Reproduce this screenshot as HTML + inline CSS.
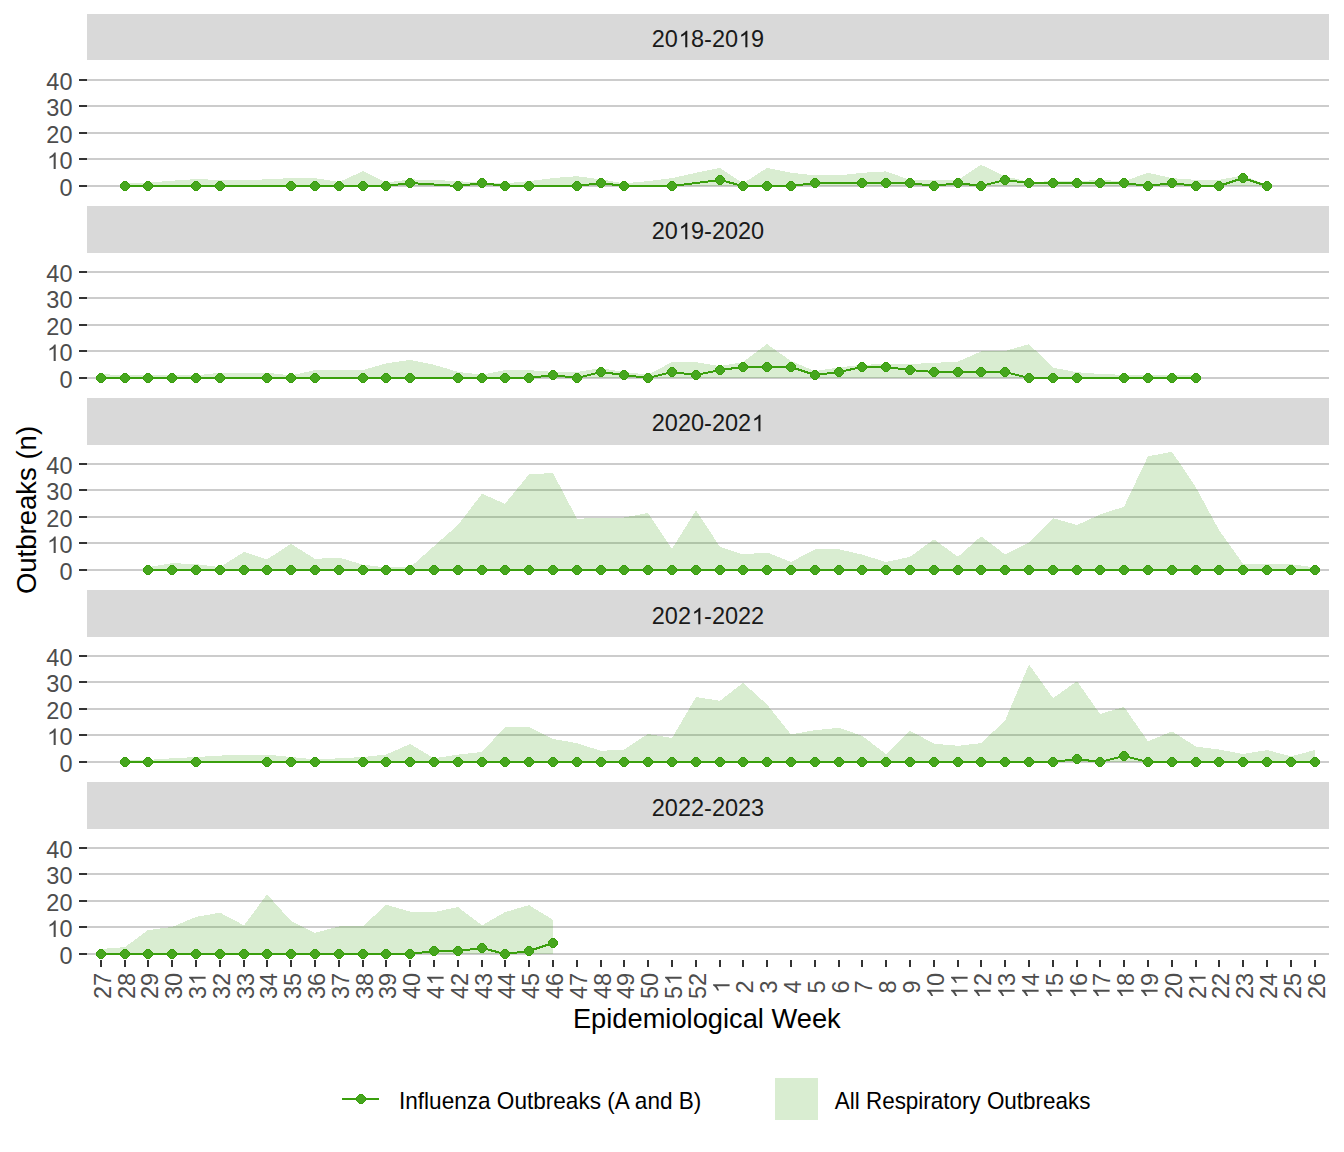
<!DOCTYPE html><html><head><meta charset="utf-8"><style>html,body{margin:0;padding:0;background:#fff}svg{display:block}text{font-family:"Liberation Sans",sans-serif}</style></head><body>
<svg width="1344" height="1152" viewBox="0 0 1344 1152" shape-rendering="crispEdges">
<rect width="1344" height="1152" fill="#fff"/>
<rect x="87" y="14" width="1242" height="46" fill="#d9d9d9"/>
<g font-size="23.5" fill="#1a1a1a"><text x="651.81" y="47.20">20</text><path shape-rendering="geometricPrecision" transform="translate(678.55,47.20) scale(0.01147,-0.01123)" d="M763,0L583,0L583,1147Q518,1085 412,1023Q306,961 222,930L222,1104Q373,1175 486,1276Q599,1377 646,1472L763,1472Z"/><text x="691.02" y="47.20">8-20</text><path shape-rendering="geometricPrecision" transform="translate(738.65,47.20) scale(0.01147,-0.01123)" d="M763,0L583,0L583,1147Q518,1085 412,1023Q306,961 222,930L222,1104Q373,1175 486,1276Q599,1377 646,1472L763,1472Z"/><text x="751.12" y="47.20">9</text></g>
<rect x="87" y="185" width="1242" height="2" fill="#cccccc"/>
<rect x="79" y="185" width="8" height="2" fill="#333333"/>
<g font-size="23.5" fill="#4d4d4d"><text x="59.43" y="195.60">0</text></g>
<rect x="87" y="158" width="1242" height="2" fill="#cccccc"/>
<rect x="79" y="158" width="8" height="2" fill="#333333"/>
<g font-size="23.5" fill="#4d4d4d"><path shape-rendering="geometricPrecision" transform="translate(46.96,169.10) scale(0.01147,-0.01123)" d="M763,0L583,0L583,1147Q518,1085 412,1023Q306,961 222,930L222,1104Q373,1175 486,1276Q599,1377 646,1472L763,1472Z"/><text x="59.43" y="169.10">0</text></g>
<rect x="87" y="132" width="1242" height="2" fill="#cccccc"/>
<rect x="79" y="132" width="8" height="2" fill="#333333"/>
<g font-size="23.5" fill="#4d4d4d"><text x="46.36" y="142.60">20</text></g>
<rect x="87" y="105" width="1242" height="2" fill="#cccccc"/>
<rect x="79" y="105" width="8" height="2" fill="#333333"/>
<g font-size="23.5" fill="#4d4d4d"><text x="46.36" y="116.10">30</text></g>
<rect x="87" y="79" width="1242" height="2" fill="#cccccc"/>
<rect x="79" y="79" width="8" height="2" fill="#333333"/>
<g font-size="23.5" fill="#4d4d4d"><text x="46.36" y="89.60">40</text></g>
<path d="M125.00,186.00 L125.0,182.6 L148.0,182.6 L172.0,180.7 L196.0,179.1 L220.0,179.9 L244.0,179.9 L267.0,179.4 L291.0,178.1 L315.0,178.1 L339.0,182.0 L363.0,171.2 L386.0,182.6 L410.0,179.4 L434.0,179.9 L458.0,181.2 L482.0,182.6 L505.0,183.3 L529.0,181.2 L553.0,178.1 L577.0,176.2 L601.0,179.4 L624.0,183.3 L648.0,181.2 L672.0,178.1 L696.0,172.8 L720.0,168.0 L743.0,183.3 L767.0,168.0 L791.0,172.8 L815.0,175.4 L839.0,175.4 L862.0,172.8 L886.0,171.4 L910.0,179.9 L934.0,179.9 L958.0,179.9 L981.0,164.8 L1005.0,176.2 L1029.0,182.0 L1053.0,181.2 L1077.0,181.2 L1100.0,179.9 L1124.0,181.2 L1148.0,172.8 L1172.0,178.1 L1196.0,179.9 L1219.0,179.9 L1243.0,175.4 L1267.0,184.9 L1267.00,186.00 Z" fill="rgba(65,163,27,0.2)"/>
<path d="M125,186 L148,186 L196,186 L220,186 L291,186 L315,186 L339,186 L363,186 L386,186 L410,183 L458,186 L482,183 L505,186 L529,186 L577,186 L601,183 L624,186 L672,186 L720,180 L743,186 L767,186 L791,186 L815,183 L862,183 L886,183 L910,183 L934,186 L958,183 L981,186 L1005,180 L1029,183 L1053,183 L1077,183 L1100,183 L1124,183 L1148,186 L1172,183 L1196,186 L1219,186 L1243,178 L1267,186" fill="none" stroke="#3a9f0d" stroke-width="2" stroke-linejoin="round"/>
<g fill="#41a31b"><polygon fill="#3a9f0d" points="127,181 127,182 128,182 128,183 129,183 129,184 130,184 130,185 130,185 130,186 130,186 130,187 130,187 130,188 129,188 129,189 128,189 128,190 127,190 127,191 123,191 123,190 122,190 122,189 121,189 121,188 120,188 120,187 120,187 120,186 120,186 120,185 120,185 120,184 121,184 121,183 122,183 122,182 123,182 123,181"/><polygon fill="#46a61e" points="127,182 127,183 128,183 128,184 129,184 129,185 129,185 129,186 129,186 129,187 129,187 129,188 128,188 128,189 127,189 127,190 123,190 123,189 122,189 122,188 121,188 121,187 121,187 121,186 121,186 121,185 121,185 121,184 122,184 122,183 123,183 123,182"/><polygon fill="#3a9f0d" points="150,181 150,182 151,182 151,183 152,183 152,184 153,184 153,185 153,185 153,186 153,186 153,187 153,187 153,188 152,188 152,189 151,189 151,190 150,190 150,191 146,191 146,190 145,190 145,189 144,189 144,188 143,188 143,187 143,187 143,186 143,186 143,185 143,185 143,184 144,184 144,183 145,183 145,182 146,182 146,181"/><polygon fill="#46a61e" points="150,182 150,183 151,183 151,184 152,184 152,185 152,185 152,186 152,186 152,187 152,187 152,188 151,188 151,189 150,189 150,190 146,190 146,189 145,189 145,188 144,188 144,187 144,187 144,186 144,186 144,185 144,185 144,184 145,184 145,183 146,183 146,182"/><polygon fill="#3a9f0d" points="198,181 198,182 199,182 199,183 200,183 200,184 201,184 201,185 201,185 201,186 201,186 201,187 201,187 201,188 200,188 200,189 199,189 199,190 198,190 198,191 194,191 194,190 193,190 193,189 192,189 192,188 191,188 191,187 191,187 191,186 191,186 191,185 191,185 191,184 192,184 192,183 193,183 193,182 194,182 194,181"/><polygon fill="#46a61e" points="198,182 198,183 199,183 199,184 200,184 200,185 200,185 200,186 200,186 200,187 200,187 200,188 199,188 199,189 198,189 198,190 194,190 194,189 193,189 193,188 192,188 192,187 192,187 192,186 192,186 192,185 192,185 192,184 193,184 193,183 194,183 194,182"/><polygon fill="#3a9f0d" points="222,181 222,182 223,182 223,183 224,183 224,184 225,184 225,185 225,185 225,186 225,186 225,187 225,187 225,188 224,188 224,189 223,189 223,190 222,190 222,191 218,191 218,190 217,190 217,189 216,189 216,188 215,188 215,187 215,187 215,186 215,186 215,185 215,185 215,184 216,184 216,183 217,183 217,182 218,182 218,181"/><polygon fill="#46a61e" points="222,182 222,183 223,183 223,184 224,184 224,185 224,185 224,186 224,186 224,187 224,187 224,188 223,188 223,189 222,189 222,190 218,190 218,189 217,189 217,188 216,188 216,187 216,187 216,186 216,186 216,185 216,185 216,184 217,184 217,183 218,183 218,182"/><polygon fill="#3a9f0d" points="293,181 293,182 294,182 294,183 295,183 295,184 296,184 296,185 296,185 296,186 296,186 296,187 296,187 296,188 295,188 295,189 294,189 294,190 293,190 293,191 289,191 289,190 288,190 288,189 287,189 287,188 286,188 286,187 286,187 286,186 286,186 286,185 286,185 286,184 287,184 287,183 288,183 288,182 289,182 289,181"/><polygon fill="#46a61e" points="293,182 293,183 294,183 294,184 295,184 295,185 295,185 295,186 295,186 295,187 295,187 295,188 294,188 294,189 293,189 293,190 289,190 289,189 288,189 288,188 287,188 287,187 287,187 287,186 287,186 287,185 287,185 287,184 288,184 288,183 289,183 289,182"/><polygon fill="#3a9f0d" points="317,181 317,182 318,182 318,183 319,183 319,184 320,184 320,185 320,185 320,186 320,186 320,187 320,187 320,188 319,188 319,189 318,189 318,190 317,190 317,191 313,191 313,190 312,190 312,189 311,189 311,188 310,188 310,187 310,187 310,186 310,186 310,185 310,185 310,184 311,184 311,183 312,183 312,182 313,182 313,181"/><polygon fill="#46a61e" points="317,182 317,183 318,183 318,184 319,184 319,185 319,185 319,186 319,186 319,187 319,187 319,188 318,188 318,189 317,189 317,190 313,190 313,189 312,189 312,188 311,188 311,187 311,187 311,186 311,186 311,185 311,185 311,184 312,184 312,183 313,183 313,182"/><polygon fill="#3a9f0d" points="341,181 341,182 342,182 342,183 343,183 343,184 344,184 344,185 344,185 344,186 344,186 344,187 344,187 344,188 343,188 343,189 342,189 342,190 341,190 341,191 337,191 337,190 336,190 336,189 335,189 335,188 334,188 334,187 334,187 334,186 334,186 334,185 334,185 334,184 335,184 335,183 336,183 336,182 337,182 337,181"/><polygon fill="#46a61e" points="341,182 341,183 342,183 342,184 343,184 343,185 343,185 343,186 343,186 343,187 343,187 343,188 342,188 342,189 341,189 341,190 337,190 337,189 336,189 336,188 335,188 335,187 335,187 335,186 335,186 335,185 335,185 335,184 336,184 336,183 337,183 337,182"/><polygon fill="#3a9f0d" points="365,181 365,182 366,182 366,183 367,183 367,184 368,184 368,185 368,185 368,186 368,186 368,187 368,187 368,188 367,188 367,189 366,189 366,190 365,190 365,191 361,191 361,190 360,190 360,189 359,189 359,188 358,188 358,187 358,187 358,186 358,186 358,185 358,185 358,184 359,184 359,183 360,183 360,182 361,182 361,181"/><polygon fill="#46a61e" points="365,182 365,183 366,183 366,184 367,184 367,185 367,185 367,186 367,186 367,187 367,187 367,188 366,188 366,189 365,189 365,190 361,190 361,189 360,189 360,188 359,188 359,187 359,187 359,186 359,186 359,185 359,185 359,184 360,184 360,183 361,183 361,182"/><polygon fill="#3a9f0d" points="388,181 388,182 389,182 389,183 390,183 390,184 391,184 391,185 391,185 391,186 391,186 391,187 391,187 391,188 390,188 390,189 389,189 389,190 388,190 388,191 384,191 384,190 383,190 383,189 382,189 382,188 381,188 381,187 381,187 381,186 381,186 381,185 381,185 381,184 382,184 382,183 383,183 383,182 384,182 384,181"/><polygon fill="#46a61e" points="388,182 388,183 389,183 389,184 390,184 390,185 390,185 390,186 390,186 390,187 390,187 390,188 389,188 389,189 388,189 388,190 384,190 384,189 383,189 383,188 382,188 382,187 382,187 382,186 382,186 382,185 382,185 382,184 383,184 383,183 384,183 384,182"/><polygon fill="#3a9f0d" points="412,178 412,179 413,179 413,180 414,180 414,181 415,181 415,182 415,182 415,183 415,183 415,184 415,184 415,185 414,185 414,186 413,186 413,187 412,187 412,188 408,188 408,187 407,187 407,186 406,186 406,185 405,185 405,184 405,184 405,183 405,183 405,182 405,182 405,181 406,181 406,180 407,180 407,179 408,179 408,178"/><polygon fill="#46a61e" points="412,179 412,180 413,180 413,181 414,181 414,182 414,182 414,183 414,183 414,184 414,184 414,185 413,185 413,186 412,186 412,187 408,187 408,186 407,186 407,185 406,185 406,184 406,184 406,183 406,183 406,182 406,182 406,181 407,181 407,180 408,180 408,179"/><polygon fill="#3a9f0d" points="460,181 460,182 461,182 461,183 462,183 462,184 463,184 463,185 463,185 463,186 463,186 463,187 463,187 463,188 462,188 462,189 461,189 461,190 460,190 460,191 456,191 456,190 455,190 455,189 454,189 454,188 453,188 453,187 453,187 453,186 453,186 453,185 453,185 453,184 454,184 454,183 455,183 455,182 456,182 456,181"/><polygon fill="#46a61e" points="460,182 460,183 461,183 461,184 462,184 462,185 462,185 462,186 462,186 462,187 462,187 462,188 461,188 461,189 460,189 460,190 456,190 456,189 455,189 455,188 454,188 454,187 454,187 454,186 454,186 454,185 454,185 454,184 455,184 455,183 456,183 456,182"/><polygon fill="#3a9f0d" points="484,178 484,179 485,179 485,180 486,180 486,181 487,181 487,182 487,182 487,183 487,183 487,184 487,184 487,185 486,185 486,186 485,186 485,187 484,187 484,188 480,188 480,187 479,187 479,186 478,186 478,185 477,185 477,184 477,184 477,183 477,183 477,182 477,182 477,181 478,181 478,180 479,180 479,179 480,179 480,178"/><polygon fill="#46a61e" points="484,179 484,180 485,180 485,181 486,181 486,182 486,182 486,183 486,183 486,184 486,184 486,185 485,185 485,186 484,186 484,187 480,187 480,186 479,186 479,185 478,185 478,184 478,184 478,183 478,183 478,182 478,182 478,181 479,181 479,180 480,180 480,179"/><polygon fill="#3a9f0d" points="507,181 507,182 508,182 508,183 509,183 509,184 510,184 510,185 510,185 510,186 510,186 510,187 510,187 510,188 509,188 509,189 508,189 508,190 507,190 507,191 503,191 503,190 502,190 502,189 501,189 501,188 500,188 500,187 500,187 500,186 500,186 500,185 500,185 500,184 501,184 501,183 502,183 502,182 503,182 503,181"/><polygon fill="#46a61e" points="507,182 507,183 508,183 508,184 509,184 509,185 509,185 509,186 509,186 509,187 509,187 509,188 508,188 508,189 507,189 507,190 503,190 503,189 502,189 502,188 501,188 501,187 501,187 501,186 501,186 501,185 501,185 501,184 502,184 502,183 503,183 503,182"/><polygon fill="#3a9f0d" points="531,181 531,182 532,182 532,183 533,183 533,184 534,184 534,185 534,185 534,186 534,186 534,187 534,187 534,188 533,188 533,189 532,189 532,190 531,190 531,191 527,191 527,190 526,190 526,189 525,189 525,188 524,188 524,187 524,187 524,186 524,186 524,185 524,185 524,184 525,184 525,183 526,183 526,182 527,182 527,181"/><polygon fill="#46a61e" points="531,182 531,183 532,183 532,184 533,184 533,185 533,185 533,186 533,186 533,187 533,187 533,188 532,188 532,189 531,189 531,190 527,190 527,189 526,189 526,188 525,188 525,187 525,187 525,186 525,186 525,185 525,185 525,184 526,184 526,183 527,183 527,182"/><polygon fill="#3a9f0d" points="579,181 579,182 580,182 580,183 581,183 581,184 582,184 582,185 582,185 582,186 582,186 582,187 582,187 582,188 581,188 581,189 580,189 580,190 579,190 579,191 575,191 575,190 574,190 574,189 573,189 573,188 572,188 572,187 572,187 572,186 572,186 572,185 572,185 572,184 573,184 573,183 574,183 574,182 575,182 575,181"/><polygon fill="#46a61e" points="579,182 579,183 580,183 580,184 581,184 581,185 581,185 581,186 581,186 581,187 581,187 581,188 580,188 580,189 579,189 579,190 575,190 575,189 574,189 574,188 573,188 573,187 573,187 573,186 573,186 573,185 573,185 573,184 574,184 574,183 575,183 575,182"/><polygon fill="#3a9f0d" points="603,178 603,179 604,179 604,180 605,180 605,181 606,181 606,182 606,182 606,183 606,183 606,184 606,184 606,185 605,185 605,186 604,186 604,187 603,187 603,188 599,188 599,187 598,187 598,186 597,186 597,185 596,185 596,184 596,184 596,183 596,183 596,182 596,182 596,181 597,181 597,180 598,180 598,179 599,179 599,178"/><polygon fill="#46a61e" points="603,179 603,180 604,180 604,181 605,181 605,182 605,182 605,183 605,183 605,184 605,184 605,185 604,185 604,186 603,186 603,187 599,187 599,186 598,186 598,185 597,185 597,184 597,184 597,183 597,183 597,182 597,182 597,181 598,181 598,180 599,180 599,179"/><polygon fill="#3a9f0d" points="626,181 626,182 627,182 627,183 628,183 628,184 629,184 629,185 629,185 629,186 629,186 629,187 629,187 629,188 628,188 628,189 627,189 627,190 626,190 626,191 622,191 622,190 621,190 621,189 620,189 620,188 619,188 619,187 619,187 619,186 619,186 619,185 619,185 619,184 620,184 620,183 621,183 621,182 622,182 622,181"/><polygon fill="#46a61e" points="626,182 626,183 627,183 627,184 628,184 628,185 628,185 628,186 628,186 628,187 628,187 628,188 627,188 627,189 626,189 626,190 622,190 622,189 621,189 621,188 620,188 620,187 620,187 620,186 620,186 620,185 620,185 620,184 621,184 621,183 622,183 622,182"/><polygon fill="#3a9f0d" points="674,181 674,182 675,182 675,183 676,183 676,184 677,184 677,185 677,185 677,186 677,186 677,187 677,187 677,188 676,188 676,189 675,189 675,190 674,190 674,191 670,191 670,190 669,190 669,189 668,189 668,188 667,188 667,187 667,187 667,186 667,186 667,185 667,185 667,184 668,184 668,183 669,183 669,182 670,182 670,181"/><polygon fill="#46a61e" points="674,182 674,183 675,183 675,184 676,184 676,185 676,185 676,186 676,186 676,187 676,187 676,188 675,188 675,189 674,189 674,190 670,190 670,189 669,189 669,188 668,188 668,187 668,187 668,186 668,186 668,185 668,185 668,184 669,184 669,183 670,183 670,182"/><polygon fill="#3a9f0d" points="722,175 722,176 723,176 723,177 724,177 724,178 725,178 725,179 725,179 725,180 725,180 725,181 725,181 725,182 724,182 724,183 723,183 723,184 722,184 722,185 718,185 718,184 717,184 717,183 716,183 716,182 715,182 715,181 715,181 715,180 715,180 715,179 715,179 715,178 716,178 716,177 717,177 717,176 718,176 718,175"/><polygon fill="#46a61e" points="722,176 722,177 723,177 723,178 724,178 724,179 724,179 724,180 724,180 724,181 724,181 724,182 723,182 723,183 722,183 722,184 718,184 718,183 717,183 717,182 716,182 716,181 716,181 716,180 716,180 716,179 716,179 716,178 717,178 717,177 718,177 718,176"/><polygon fill="#3a9f0d" points="745,181 745,182 746,182 746,183 747,183 747,184 748,184 748,185 748,185 748,186 748,186 748,187 748,187 748,188 747,188 747,189 746,189 746,190 745,190 745,191 741,191 741,190 740,190 740,189 739,189 739,188 738,188 738,187 738,187 738,186 738,186 738,185 738,185 738,184 739,184 739,183 740,183 740,182 741,182 741,181"/><polygon fill="#46a61e" points="745,182 745,183 746,183 746,184 747,184 747,185 747,185 747,186 747,186 747,187 747,187 747,188 746,188 746,189 745,189 745,190 741,190 741,189 740,189 740,188 739,188 739,187 739,187 739,186 739,186 739,185 739,185 739,184 740,184 740,183 741,183 741,182"/><polygon fill="#3a9f0d" points="769,181 769,182 770,182 770,183 771,183 771,184 772,184 772,185 772,185 772,186 772,186 772,187 772,187 772,188 771,188 771,189 770,189 770,190 769,190 769,191 765,191 765,190 764,190 764,189 763,189 763,188 762,188 762,187 762,187 762,186 762,186 762,185 762,185 762,184 763,184 763,183 764,183 764,182 765,182 765,181"/><polygon fill="#46a61e" points="769,182 769,183 770,183 770,184 771,184 771,185 771,185 771,186 771,186 771,187 771,187 771,188 770,188 770,189 769,189 769,190 765,190 765,189 764,189 764,188 763,188 763,187 763,187 763,186 763,186 763,185 763,185 763,184 764,184 764,183 765,183 765,182"/><polygon fill="#3a9f0d" points="793,181 793,182 794,182 794,183 795,183 795,184 796,184 796,185 796,185 796,186 796,186 796,187 796,187 796,188 795,188 795,189 794,189 794,190 793,190 793,191 789,191 789,190 788,190 788,189 787,189 787,188 786,188 786,187 786,187 786,186 786,186 786,185 786,185 786,184 787,184 787,183 788,183 788,182 789,182 789,181"/><polygon fill="#46a61e" points="793,182 793,183 794,183 794,184 795,184 795,185 795,185 795,186 795,186 795,187 795,187 795,188 794,188 794,189 793,189 793,190 789,190 789,189 788,189 788,188 787,188 787,187 787,187 787,186 787,186 787,185 787,185 787,184 788,184 788,183 789,183 789,182"/><polygon fill="#3a9f0d" points="817,178 817,179 818,179 818,180 819,180 819,181 820,181 820,182 820,182 820,183 820,183 820,184 820,184 820,185 819,185 819,186 818,186 818,187 817,187 817,188 813,188 813,187 812,187 812,186 811,186 811,185 810,185 810,184 810,184 810,183 810,183 810,182 810,182 810,181 811,181 811,180 812,180 812,179 813,179 813,178"/><polygon fill="#46a61e" points="817,179 817,180 818,180 818,181 819,181 819,182 819,182 819,183 819,183 819,184 819,184 819,185 818,185 818,186 817,186 817,187 813,187 813,186 812,186 812,185 811,185 811,184 811,184 811,183 811,183 811,182 811,182 811,181 812,181 812,180 813,180 813,179"/><polygon fill="#3a9f0d" points="864,178 864,179 865,179 865,180 866,180 866,181 867,181 867,182 867,182 867,183 867,183 867,184 867,184 867,185 866,185 866,186 865,186 865,187 864,187 864,188 860,188 860,187 859,187 859,186 858,186 858,185 857,185 857,184 857,184 857,183 857,183 857,182 857,182 857,181 858,181 858,180 859,180 859,179 860,179 860,178"/><polygon fill="#46a61e" points="864,179 864,180 865,180 865,181 866,181 866,182 866,182 866,183 866,183 866,184 866,184 866,185 865,185 865,186 864,186 864,187 860,187 860,186 859,186 859,185 858,185 858,184 858,184 858,183 858,183 858,182 858,182 858,181 859,181 859,180 860,180 860,179"/><polygon fill="#3a9f0d" points="888,178 888,179 889,179 889,180 890,180 890,181 891,181 891,182 891,182 891,183 891,183 891,184 891,184 891,185 890,185 890,186 889,186 889,187 888,187 888,188 884,188 884,187 883,187 883,186 882,186 882,185 881,185 881,184 881,184 881,183 881,183 881,182 881,182 881,181 882,181 882,180 883,180 883,179 884,179 884,178"/><polygon fill="#46a61e" points="888,179 888,180 889,180 889,181 890,181 890,182 890,182 890,183 890,183 890,184 890,184 890,185 889,185 889,186 888,186 888,187 884,187 884,186 883,186 883,185 882,185 882,184 882,184 882,183 882,183 882,182 882,182 882,181 883,181 883,180 884,180 884,179"/><polygon fill="#3a9f0d" points="912,178 912,179 913,179 913,180 914,180 914,181 915,181 915,182 915,182 915,183 915,183 915,184 915,184 915,185 914,185 914,186 913,186 913,187 912,187 912,188 908,188 908,187 907,187 907,186 906,186 906,185 905,185 905,184 905,184 905,183 905,183 905,182 905,182 905,181 906,181 906,180 907,180 907,179 908,179 908,178"/><polygon fill="#46a61e" points="912,179 912,180 913,180 913,181 914,181 914,182 914,182 914,183 914,183 914,184 914,184 914,185 913,185 913,186 912,186 912,187 908,187 908,186 907,186 907,185 906,185 906,184 906,184 906,183 906,183 906,182 906,182 906,181 907,181 907,180 908,180 908,179"/><polygon fill="#3a9f0d" points="936,181 936,182 937,182 937,183 938,183 938,184 939,184 939,185 939,185 939,186 939,186 939,187 939,187 939,188 938,188 938,189 937,189 937,190 936,190 936,191 932,191 932,190 931,190 931,189 930,189 930,188 929,188 929,187 929,187 929,186 929,186 929,185 929,185 929,184 930,184 930,183 931,183 931,182 932,182 932,181"/><polygon fill="#46a61e" points="936,182 936,183 937,183 937,184 938,184 938,185 938,185 938,186 938,186 938,187 938,187 938,188 937,188 937,189 936,189 936,190 932,190 932,189 931,189 931,188 930,188 930,187 930,187 930,186 930,186 930,185 930,185 930,184 931,184 931,183 932,183 932,182"/><polygon fill="#3a9f0d" points="960,178 960,179 961,179 961,180 962,180 962,181 963,181 963,182 963,182 963,183 963,183 963,184 963,184 963,185 962,185 962,186 961,186 961,187 960,187 960,188 956,188 956,187 955,187 955,186 954,186 954,185 953,185 953,184 953,184 953,183 953,183 953,182 953,182 953,181 954,181 954,180 955,180 955,179 956,179 956,178"/><polygon fill="#46a61e" points="960,179 960,180 961,180 961,181 962,181 962,182 962,182 962,183 962,183 962,184 962,184 962,185 961,185 961,186 960,186 960,187 956,187 956,186 955,186 955,185 954,185 954,184 954,184 954,183 954,183 954,182 954,182 954,181 955,181 955,180 956,180 956,179"/><polygon fill="#3a9f0d" points="983,181 983,182 984,182 984,183 985,183 985,184 986,184 986,185 986,185 986,186 986,186 986,187 986,187 986,188 985,188 985,189 984,189 984,190 983,190 983,191 979,191 979,190 978,190 978,189 977,189 977,188 976,188 976,187 976,187 976,186 976,186 976,185 976,185 976,184 977,184 977,183 978,183 978,182 979,182 979,181"/><polygon fill="#46a61e" points="983,182 983,183 984,183 984,184 985,184 985,185 985,185 985,186 985,186 985,187 985,187 985,188 984,188 984,189 983,189 983,190 979,190 979,189 978,189 978,188 977,188 977,187 977,187 977,186 977,186 977,185 977,185 977,184 978,184 978,183 979,183 979,182"/><polygon fill="#3a9f0d" points="1007,175 1007,176 1008,176 1008,177 1009,177 1009,178 1010,178 1010,179 1010,179 1010,180 1010,180 1010,181 1010,181 1010,182 1009,182 1009,183 1008,183 1008,184 1007,184 1007,185 1003,185 1003,184 1002,184 1002,183 1001,183 1001,182 1000,182 1000,181 1000,181 1000,180 1000,180 1000,179 1000,179 1000,178 1001,178 1001,177 1002,177 1002,176 1003,176 1003,175"/><polygon fill="#46a61e" points="1007,176 1007,177 1008,177 1008,178 1009,178 1009,179 1009,179 1009,180 1009,180 1009,181 1009,181 1009,182 1008,182 1008,183 1007,183 1007,184 1003,184 1003,183 1002,183 1002,182 1001,182 1001,181 1001,181 1001,180 1001,180 1001,179 1001,179 1001,178 1002,178 1002,177 1003,177 1003,176"/><polygon fill="#3a9f0d" points="1031,178 1031,179 1032,179 1032,180 1033,180 1033,181 1034,181 1034,182 1034,182 1034,183 1034,183 1034,184 1034,184 1034,185 1033,185 1033,186 1032,186 1032,187 1031,187 1031,188 1027,188 1027,187 1026,187 1026,186 1025,186 1025,185 1024,185 1024,184 1024,184 1024,183 1024,183 1024,182 1024,182 1024,181 1025,181 1025,180 1026,180 1026,179 1027,179 1027,178"/><polygon fill="#46a61e" points="1031,179 1031,180 1032,180 1032,181 1033,181 1033,182 1033,182 1033,183 1033,183 1033,184 1033,184 1033,185 1032,185 1032,186 1031,186 1031,187 1027,187 1027,186 1026,186 1026,185 1025,185 1025,184 1025,184 1025,183 1025,183 1025,182 1025,182 1025,181 1026,181 1026,180 1027,180 1027,179"/><polygon fill="#3a9f0d" points="1055,178 1055,179 1056,179 1056,180 1057,180 1057,181 1058,181 1058,182 1058,182 1058,183 1058,183 1058,184 1058,184 1058,185 1057,185 1057,186 1056,186 1056,187 1055,187 1055,188 1051,188 1051,187 1050,187 1050,186 1049,186 1049,185 1048,185 1048,184 1048,184 1048,183 1048,183 1048,182 1048,182 1048,181 1049,181 1049,180 1050,180 1050,179 1051,179 1051,178"/><polygon fill="#46a61e" points="1055,179 1055,180 1056,180 1056,181 1057,181 1057,182 1057,182 1057,183 1057,183 1057,184 1057,184 1057,185 1056,185 1056,186 1055,186 1055,187 1051,187 1051,186 1050,186 1050,185 1049,185 1049,184 1049,184 1049,183 1049,183 1049,182 1049,182 1049,181 1050,181 1050,180 1051,180 1051,179"/><polygon fill="#3a9f0d" points="1079,178 1079,179 1080,179 1080,180 1081,180 1081,181 1082,181 1082,182 1082,182 1082,183 1082,183 1082,184 1082,184 1082,185 1081,185 1081,186 1080,186 1080,187 1079,187 1079,188 1075,188 1075,187 1074,187 1074,186 1073,186 1073,185 1072,185 1072,184 1072,184 1072,183 1072,183 1072,182 1072,182 1072,181 1073,181 1073,180 1074,180 1074,179 1075,179 1075,178"/><polygon fill="#46a61e" points="1079,179 1079,180 1080,180 1080,181 1081,181 1081,182 1081,182 1081,183 1081,183 1081,184 1081,184 1081,185 1080,185 1080,186 1079,186 1079,187 1075,187 1075,186 1074,186 1074,185 1073,185 1073,184 1073,184 1073,183 1073,183 1073,182 1073,182 1073,181 1074,181 1074,180 1075,180 1075,179"/><polygon fill="#3a9f0d" points="1102,178 1102,179 1103,179 1103,180 1104,180 1104,181 1105,181 1105,182 1105,182 1105,183 1105,183 1105,184 1105,184 1105,185 1104,185 1104,186 1103,186 1103,187 1102,187 1102,188 1098,188 1098,187 1097,187 1097,186 1096,186 1096,185 1095,185 1095,184 1095,184 1095,183 1095,183 1095,182 1095,182 1095,181 1096,181 1096,180 1097,180 1097,179 1098,179 1098,178"/><polygon fill="#46a61e" points="1102,179 1102,180 1103,180 1103,181 1104,181 1104,182 1104,182 1104,183 1104,183 1104,184 1104,184 1104,185 1103,185 1103,186 1102,186 1102,187 1098,187 1098,186 1097,186 1097,185 1096,185 1096,184 1096,184 1096,183 1096,183 1096,182 1096,182 1096,181 1097,181 1097,180 1098,180 1098,179"/><polygon fill="#3a9f0d" points="1126,178 1126,179 1127,179 1127,180 1128,180 1128,181 1129,181 1129,182 1129,182 1129,183 1129,183 1129,184 1129,184 1129,185 1128,185 1128,186 1127,186 1127,187 1126,187 1126,188 1122,188 1122,187 1121,187 1121,186 1120,186 1120,185 1119,185 1119,184 1119,184 1119,183 1119,183 1119,182 1119,182 1119,181 1120,181 1120,180 1121,180 1121,179 1122,179 1122,178"/><polygon fill="#46a61e" points="1126,179 1126,180 1127,180 1127,181 1128,181 1128,182 1128,182 1128,183 1128,183 1128,184 1128,184 1128,185 1127,185 1127,186 1126,186 1126,187 1122,187 1122,186 1121,186 1121,185 1120,185 1120,184 1120,184 1120,183 1120,183 1120,182 1120,182 1120,181 1121,181 1121,180 1122,180 1122,179"/><polygon fill="#3a9f0d" points="1150,181 1150,182 1151,182 1151,183 1152,183 1152,184 1153,184 1153,185 1153,185 1153,186 1153,186 1153,187 1153,187 1153,188 1152,188 1152,189 1151,189 1151,190 1150,190 1150,191 1146,191 1146,190 1145,190 1145,189 1144,189 1144,188 1143,188 1143,187 1143,187 1143,186 1143,186 1143,185 1143,185 1143,184 1144,184 1144,183 1145,183 1145,182 1146,182 1146,181"/><polygon fill="#46a61e" points="1150,182 1150,183 1151,183 1151,184 1152,184 1152,185 1152,185 1152,186 1152,186 1152,187 1152,187 1152,188 1151,188 1151,189 1150,189 1150,190 1146,190 1146,189 1145,189 1145,188 1144,188 1144,187 1144,187 1144,186 1144,186 1144,185 1144,185 1144,184 1145,184 1145,183 1146,183 1146,182"/><polygon fill="#3a9f0d" points="1174,178 1174,179 1175,179 1175,180 1176,180 1176,181 1177,181 1177,182 1177,182 1177,183 1177,183 1177,184 1177,184 1177,185 1176,185 1176,186 1175,186 1175,187 1174,187 1174,188 1170,188 1170,187 1169,187 1169,186 1168,186 1168,185 1167,185 1167,184 1167,184 1167,183 1167,183 1167,182 1167,182 1167,181 1168,181 1168,180 1169,180 1169,179 1170,179 1170,178"/><polygon fill="#46a61e" points="1174,179 1174,180 1175,180 1175,181 1176,181 1176,182 1176,182 1176,183 1176,183 1176,184 1176,184 1176,185 1175,185 1175,186 1174,186 1174,187 1170,187 1170,186 1169,186 1169,185 1168,185 1168,184 1168,184 1168,183 1168,183 1168,182 1168,182 1168,181 1169,181 1169,180 1170,180 1170,179"/><polygon fill="#3a9f0d" points="1198,181 1198,182 1199,182 1199,183 1200,183 1200,184 1201,184 1201,185 1201,185 1201,186 1201,186 1201,187 1201,187 1201,188 1200,188 1200,189 1199,189 1199,190 1198,190 1198,191 1194,191 1194,190 1193,190 1193,189 1192,189 1192,188 1191,188 1191,187 1191,187 1191,186 1191,186 1191,185 1191,185 1191,184 1192,184 1192,183 1193,183 1193,182 1194,182 1194,181"/><polygon fill="#46a61e" points="1198,182 1198,183 1199,183 1199,184 1200,184 1200,185 1200,185 1200,186 1200,186 1200,187 1200,187 1200,188 1199,188 1199,189 1198,189 1198,190 1194,190 1194,189 1193,189 1193,188 1192,188 1192,187 1192,187 1192,186 1192,186 1192,185 1192,185 1192,184 1193,184 1193,183 1194,183 1194,182"/><polygon fill="#3a9f0d" points="1221,181 1221,182 1222,182 1222,183 1223,183 1223,184 1224,184 1224,185 1224,185 1224,186 1224,186 1224,187 1224,187 1224,188 1223,188 1223,189 1222,189 1222,190 1221,190 1221,191 1217,191 1217,190 1216,190 1216,189 1215,189 1215,188 1214,188 1214,187 1214,187 1214,186 1214,186 1214,185 1214,185 1214,184 1215,184 1215,183 1216,183 1216,182 1217,182 1217,181"/><polygon fill="#46a61e" points="1221,182 1221,183 1222,183 1222,184 1223,184 1223,185 1223,185 1223,186 1223,186 1223,187 1223,187 1223,188 1222,188 1222,189 1221,189 1221,190 1217,190 1217,189 1216,189 1216,188 1215,188 1215,187 1215,187 1215,186 1215,186 1215,185 1215,185 1215,184 1216,184 1216,183 1217,183 1217,182"/><polygon fill="#3a9f0d" points="1245,173 1245,174 1246,174 1246,175 1247,175 1247,176 1248,176 1248,177 1248,177 1248,178 1248,178 1248,179 1248,179 1248,180 1247,180 1247,181 1246,181 1246,182 1245,182 1245,183 1241,183 1241,182 1240,182 1240,181 1239,181 1239,180 1238,180 1238,179 1238,179 1238,178 1238,178 1238,177 1238,177 1238,176 1239,176 1239,175 1240,175 1240,174 1241,174 1241,173"/><polygon fill="#46a61e" points="1245,174 1245,175 1246,175 1246,176 1247,176 1247,177 1247,177 1247,178 1247,178 1247,179 1247,179 1247,180 1246,180 1246,181 1245,181 1245,182 1241,182 1241,181 1240,181 1240,180 1239,180 1239,179 1239,179 1239,178 1239,178 1239,177 1239,177 1239,176 1240,176 1240,175 1241,175 1241,174"/><polygon fill="#3a9f0d" points="1269,181 1269,182 1270,182 1270,183 1271,183 1271,184 1272,184 1272,185 1272,185 1272,186 1272,186 1272,187 1272,187 1272,188 1271,188 1271,189 1270,189 1270,190 1269,190 1269,191 1265,191 1265,190 1264,190 1264,189 1263,189 1263,188 1262,188 1262,187 1262,187 1262,186 1262,186 1262,185 1262,185 1262,184 1263,184 1263,183 1264,183 1264,182 1265,182 1265,181"/><polygon fill="#46a61e" points="1269,182 1269,183 1270,183 1270,184 1271,184 1271,185 1271,185 1271,186 1271,186 1271,187 1271,187 1271,188 1270,188 1270,189 1269,189 1269,190 1265,190 1265,189 1264,189 1264,188 1263,188 1263,187 1263,187 1263,186 1263,186 1263,185 1263,185 1263,184 1264,184 1264,183 1265,183 1265,182"/></g>
<rect x="87" y="206" width="1242" height="47" fill="#d9d9d9"/>
<g font-size="23.5" fill="#1a1a1a"><text x="651.81" y="239.20">20</text><path shape-rendering="geometricPrecision" transform="translate(678.55,239.20) scale(0.01147,-0.01123)" d="M763,0L583,0L583,1147Q518,1085 412,1023Q306,961 222,930L222,1104Q373,1175 486,1276Q599,1377 646,1472L763,1472Z"/><text x="691.02" y="239.20">9-2020</text></g>
<rect x="87" y="377" width="1242" height="2" fill="#cccccc"/>
<rect x="79" y="377" width="8" height="2" fill="#333333"/>
<g font-size="23.5" fill="#4d4d4d"><text x="59.43" y="387.60">0</text></g>
<rect x="87" y="350" width="1242" height="2" fill="#cccccc"/>
<rect x="79" y="350" width="8" height="2" fill="#333333"/>
<g font-size="23.5" fill="#4d4d4d"><path shape-rendering="geometricPrecision" transform="translate(46.96,361.10) scale(0.01147,-0.01123)" d="M763,0L583,0L583,1147Q518,1085 412,1023Q306,961 222,930L222,1104Q373,1175 486,1276Q599,1377 646,1472L763,1472Z"/><text x="59.43" y="361.10">0</text></g>
<rect x="87" y="324" width="1242" height="2" fill="#cccccc"/>
<rect x="79" y="324" width="8" height="2" fill="#333333"/>
<g font-size="23.5" fill="#4d4d4d"><text x="46.36" y="334.60">20</text></g>
<rect x="87" y="297" width="1242" height="2" fill="#cccccc"/>
<rect x="79" y="297" width="8" height="2" fill="#333333"/>
<g font-size="23.5" fill="#4d4d4d"><text x="46.36" y="308.10">30</text></g>
<rect x="87" y="271" width="1242" height="2" fill="#cccccc"/>
<rect x="79" y="271" width="8" height="2" fill="#333333"/>
<g font-size="23.5" fill="#4d4d4d"><text x="46.36" y="281.60">40</text></g>
<path d="M101.00,378.00 L101.0,374.0 L125.0,375.4 L148.0,375.4 L172.0,375.4 L196.0,375.4 L220.0,372.7 L244.0,372.7 L267.0,372.7 L291.0,375.4 L315.0,370.1 L339.0,370.1 L363.0,370.1 L386.0,363.4 L410.0,360.0 L434.0,364.8 L458.0,371.9 L482.0,374.6 L505.0,370.1 L529.0,370.1 L553.0,371.9 L577.0,371.9 L601.0,368.2 L624.0,371.9 L648.0,374.6 L672.0,362.1 L696.0,362.1 L720.0,366.1 L743.0,362.1 L767.0,344.1 L791.0,361.0 L815.0,371.1 L839.0,367.4 L862.0,364.8 L886.0,364.0 L910.0,364.0 L934.0,362.9 L958.0,361.6 L981.0,351.5 L1005.0,351.0 L1029.0,344.1 L1053.0,367.7 L1077.0,372.2 L1100.0,374.0 L1124.0,374.8 L1148.0,374.8 L1172.0,374.8 L1196.0,374.8 L1196.00,378.00 Z" fill="rgba(65,163,27,0.2)"/>
<path d="M101,378 L125,378 L148,378 L172,378 L196,378 L220,378 L267,378 L291,378 L315,378 L363,378 L386,378 L410,378 L458,378 L482,378 L505,378 L529,378 L553,375 L577,378 L601,372 L624,375 L648,378 L672,372 L696,375 L720,370 L743,367 L767,367 L791,367 L815,375 L839,372 L862,367 L886,367 L910,370 L934,372 L958,372 L981,372 L1005,372 L1029,378 L1053,378 L1077,378 L1124,378 L1148,378 L1172,378 L1196,378" fill="none" stroke="#3a9f0d" stroke-width="2" stroke-linejoin="round"/>
<g fill="#41a31b"><polygon fill="#3a9f0d" points="103,373 103,374 104,374 104,375 105,375 105,376 106,376 106,377 106,377 106,378 106,378 106,379 106,379 106,380 105,380 105,381 104,381 104,382 103,382 103,383 99,383 99,382 98,382 98,381 97,381 97,380 96,380 96,379 96,379 96,378 96,378 96,377 96,377 96,376 97,376 97,375 98,375 98,374 99,374 99,373"/><polygon fill="#46a61e" points="103,374 103,375 104,375 104,376 105,376 105,377 105,377 105,378 105,378 105,379 105,379 105,380 104,380 104,381 103,381 103,382 99,382 99,381 98,381 98,380 97,380 97,379 97,379 97,378 97,378 97,377 97,377 97,376 98,376 98,375 99,375 99,374"/><polygon fill="#3a9f0d" points="127,373 127,374 128,374 128,375 129,375 129,376 130,376 130,377 130,377 130,378 130,378 130,379 130,379 130,380 129,380 129,381 128,381 128,382 127,382 127,383 123,383 123,382 122,382 122,381 121,381 121,380 120,380 120,379 120,379 120,378 120,378 120,377 120,377 120,376 121,376 121,375 122,375 122,374 123,374 123,373"/><polygon fill="#46a61e" points="127,374 127,375 128,375 128,376 129,376 129,377 129,377 129,378 129,378 129,379 129,379 129,380 128,380 128,381 127,381 127,382 123,382 123,381 122,381 122,380 121,380 121,379 121,379 121,378 121,378 121,377 121,377 121,376 122,376 122,375 123,375 123,374"/><polygon fill="#3a9f0d" points="150,373 150,374 151,374 151,375 152,375 152,376 153,376 153,377 153,377 153,378 153,378 153,379 153,379 153,380 152,380 152,381 151,381 151,382 150,382 150,383 146,383 146,382 145,382 145,381 144,381 144,380 143,380 143,379 143,379 143,378 143,378 143,377 143,377 143,376 144,376 144,375 145,375 145,374 146,374 146,373"/><polygon fill="#46a61e" points="150,374 150,375 151,375 151,376 152,376 152,377 152,377 152,378 152,378 152,379 152,379 152,380 151,380 151,381 150,381 150,382 146,382 146,381 145,381 145,380 144,380 144,379 144,379 144,378 144,378 144,377 144,377 144,376 145,376 145,375 146,375 146,374"/><polygon fill="#3a9f0d" points="174,373 174,374 175,374 175,375 176,375 176,376 177,376 177,377 177,377 177,378 177,378 177,379 177,379 177,380 176,380 176,381 175,381 175,382 174,382 174,383 170,383 170,382 169,382 169,381 168,381 168,380 167,380 167,379 167,379 167,378 167,378 167,377 167,377 167,376 168,376 168,375 169,375 169,374 170,374 170,373"/><polygon fill="#46a61e" points="174,374 174,375 175,375 175,376 176,376 176,377 176,377 176,378 176,378 176,379 176,379 176,380 175,380 175,381 174,381 174,382 170,382 170,381 169,381 169,380 168,380 168,379 168,379 168,378 168,378 168,377 168,377 168,376 169,376 169,375 170,375 170,374"/><polygon fill="#3a9f0d" points="198,373 198,374 199,374 199,375 200,375 200,376 201,376 201,377 201,377 201,378 201,378 201,379 201,379 201,380 200,380 200,381 199,381 199,382 198,382 198,383 194,383 194,382 193,382 193,381 192,381 192,380 191,380 191,379 191,379 191,378 191,378 191,377 191,377 191,376 192,376 192,375 193,375 193,374 194,374 194,373"/><polygon fill="#46a61e" points="198,374 198,375 199,375 199,376 200,376 200,377 200,377 200,378 200,378 200,379 200,379 200,380 199,380 199,381 198,381 198,382 194,382 194,381 193,381 193,380 192,380 192,379 192,379 192,378 192,378 192,377 192,377 192,376 193,376 193,375 194,375 194,374"/><polygon fill="#3a9f0d" points="222,373 222,374 223,374 223,375 224,375 224,376 225,376 225,377 225,377 225,378 225,378 225,379 225,379 225,380 224,380 224,381 223,381 223,382 222,382 222,383 218,383 218,382 217,382 217,381 216,381 216,380 215,380 215,379 215,379 215,378 215,378 215,377 215,377 215,376 216,376 216,375 217,375 217,374 218,374 218,373"/><polygon fill="#46a61e" points="222,374 222,375 223,375 223,376 224,376 224,377 224,377 224,378 224,378 224,379 224,379 224,380 223,380 223,381 222,381 222,382 218,382 218,381 217,381 217,380 216,380 216,379 216,379 216,378 216,378 216,377 216,377 216,376 217,376 217,375 218,375 218,374"/><polygon fill="#3a9f0d" points="269,373 269,374 270,374 270,375 271,375 271,376 272,376 272,377 272,377 272,378 272,378 272,379 272,379 272,380 271,380 271,381 270,381 270,382 269,382 269,383 265,383 265,382 264,382 264,381 263,381 263,380 262,380 262,379 262,379 262,378 262,378 262,377 262,377 262,376 263,376 263,375 264,375 264,374 265,374 265,373"/><polygon fill="#46a61e" points="269,374 269,375 270,375 270,376 271,376 271,377 271,377 271,378 271,378 271,379 271,379 271,380 270,380 270,381 269,381 269,382 265,382 265,381 264,381 264,380 263,380 263,379 263,379 263,378 263,378 263,377 263,377 263,376 264,376 264,375 265,375 265,374"/><polygon fill="#3a9f0d" points="293,373 293,374 294,374 294,375 295,375 295,376 296,376 296,377 296,377 296,378 296,378 296,379 296,379 296,380 295,380 295,381 294,381 294,382 293,382 293,383 289,383 289,382 288,382 288,381 287,381 287,380 286,380 286,379 286,379 286,378 286,378 286,377 286,377 286,376 287,376 287,375 288,375 288,374 289,374 289,373"/><polygon fill="#46a61e" points="293,374 293,375 294,375 294,376 295,376 295,377 295,377 295,378 295,378 295,379 295,379 295,380 294,380 294,381 293,381 293,382 289,382 289,381 288,381 288,380 287,380 287,379 287,379 287,378 287,378 287,377 287,377 287,376 288,376 288,375 289,375 289,374"/><polygon fill="#3a9f0d" points="317,373 317,374 318,374 318,375 319,375 319,376 320,376 320,377 320,377 320,378 320,378 320,379 320,379 320,380 319,380 319,381 318,381 318,382 317,382 317,383 313,383 313,382 312,382 312,381 311,381 311,380 310,380 310,379 310,379 310,378 310,378 310,377 310,377 310,376 311,376 311,375 312,375 312,374 313,374 313,373"/><polygon fill="#46a61e" points="317,374 317,375 318,375 318,376 319,376 319,377 319,377 319,378 319,378 319,379 319,379 319,380 318,380 318,381 317,381 317,382 313,382 313,381 312,381 312,380 311,380 311,379 311,379 311,378 311,378 311,377 311,377 311,376 312,376 312,375 313,375 313,374"/><polygon fill="#3a9f0d" points="365,373 365,374 366,374 366,375 367,375 367,376 368,376 368,377 368,377 368,378 368,378 368,379 368,379 368,380 367,380 367,381 366,381 366,382 365,382 365,383 361,383 361,382 360,382 360,381 359,381 359,380 358,380 358,379 358,379 358,378 358,378 358,377 358,377 358,376 359,376 359,375 360,375 360,374 361,374 361,373"/><polygon fill="#46a61e" points="365,374 365,375 366,375 366,376 367,376 367,377 367,377 367,378 367,378 367,379 367,379 367,380 366,380 366,381 365,381 365,382 361,382 361,381 360,381 360,380 359,380 359,379 359,379 359,378 359,378 359,377 359,377 359,376 360,376 360,375 361,375 361,374"/><polygon fill="#3a9f0d" points="388,373 388,374 389,374 389,375 390,375 390,376 391,376 391,377 391,377 391,378 391,378 391,379 391,379 391,380 390,380 390,381 389,381 389,382 388,382 388,383 384,383 384,382 383,382 383,381 382,381 382,380 381,380 381,379 381,379 381,378 381,378 381,377 381,377 381,376 382,376 382,375 383,375 383,374 384,374 384,373"/><polygon fill="#46a61e" points="388,374 388,375 389,375 389,376 390,376 390,377 390,377 390,378 390,378 390,379 390,379 390,380 389,380 389,381 388,381 388,382 384,382 384,381 383,381 383,380 382,380 382,379 382,379 382,378 382,378 382,377 382,377 382,376 383,376 383,375 384,375 384,374"/><polygon fill="#3a9f0d" points="412,373 412,374 413,374 413,375 414,375 414,376 415,376 415,377 415,377 415,378 415,378 415,379 415,379 415,380 414,380 414,381 413,381 413,382 412,382 412,383 408,383 408,382 407,382 407,381 406,381 406,380 405,380 405,379 405,379 405,378 405,378 405,377 405,377 405,376 406,376 406,375 407,375 407,374 408,374 408,373"/><polygon fill="#46a61e" points="412,374 412,375 413,375 413,376 414,376 414,377 414,377 414,378 414,378 414,379 414,379 414,380 413,380 413,381 412,381 412,382 408,382 408,381 407,381 407,380 406,380 406,379 406,379 406,378 406,378 406,377 406,377 406,376 407,376 407,375 408,375 408,374"/><polygon fill="#3a9f0d" points="460,373 460,374 461,374 461,375 462,375 462,376 463,376 463,377 463,377 463,378 463,378 463,379 463,379 463,380 462,380 462,381 461,381 461,382 460,382 460,383 456,383 456,382 455,382 455,381 454,381 454,380 453,380 453,379 453,379 453,378 453,378 453,377 453,377 453,376 454,376 454,375 455,375 455,374 456,374 456,373"/><polygon fill="#46a61e" points="460,374 460,375 461,375 461,376 462,376 462,377 462,377 462,378 462,378 462,379 462,379 462,380 461,380 461,381 460,381 460,382 456,382 456,381 455,381 455,380 454,380 454,379 454,379 454,378 454,378 454,377 454,377 454,376 455,376 455,375 456,375 456,374"/><polygon fill="#3a9f0d" points="484,373 484,374 485,374 485,375 486,375 486,376 487,376 487,377 487,377 487,378 487,378 487,379 487,379 487,380 486,380 486,381 485,381 485,382 484,382 484,383 480,383 480,382 479,382 479,381 478,381 478,380 477,380 477,379 477,379 477,378 477,378 477,377 477,377 477,376 478,376 478,375 479,375 479,374 480,374 480,373"/><polygon fill="#46a61e" points="484,374 484,375 485,375 485,376 486,376 486,377 486,377 486,378 486,378 486,379 486,379 486,380 485,380 485,381 484,381 484,382 480,382 480,381 479,381 479,380 478,380 478,379 478,379 478,378 478,378 478,377 478,377 478,376 479,376 479,375 480,375 480,374"/><polygon fill="#3a9f0d" points="507,373 507,374 508,374 508,375 509,375 509,376 510,376 510,377 510,377 510,378 510,378 510,379 510,379 510,380 509,380 509,381 508,381 508,382 507,382 507,383 503,383 503,382 502,382 502,381 501,381 501,380 500,380 500,379 500,379 500,378 500,378 500,377 500,377 500,376 501,376 501,375 502,375 502,374 503,374 503,373"/><polygon fill="#46a61e" points="507,374 507,375 508,375 508,376 509,376 509,377 509,377 509,378 509,378 509,379 509,379 509,380 508,380 508,381 507,381 507,382 503,382 503,381 502,381 502,380 501,380 501,379 501,379 501,378 501,378 501,377 501,377 501,376 502,376 502,375 503,375 503,374"/><polygon fill="#3a9f0d" points="531,373 531,374 532,374 532,375 533,375 533,376 534,376 534,377 534,377 534,378 534,378 534,379 534,379 534,380 533,380 533,381 532,381 532,382 531,382 531,383 527,383 527,382 526,382 526,381 525,381 525,380 524,380 524,379 524,379 524,378 524,378 524,377 524,377 524,376 525,376 525,375 526,375 526,374 527,374 527,373"/><polygon fill="#46a61e" points="531,374 531,375 532,375 532,376 533,376 533,377 533,377 533,378 533,378 533,379 533,379 533,380 532,380 532,381 531,381 531,382 527,382 527,381 526,381 526,380 525,380 525,379 525,379 525,378 525,378 525,377 525,377 525,376 526,376 526,375 527,375 527,374"/><polygon fill="#3a9f0d" points="555,370 555,371 556,371 556,372 557,372 557,373 558,373 558,374 558,374 558,375 558,375 558,376 558,376 558,377 557,377 557,378 556,378 556,379 555,379 555,380 551,380 551,379 550,379 550,378 549,378 549,377 548,377 548,376 548,376 548,375 548,375 548,374 548,374 548,373 549,373 549,372 550,372 550,371 551,371 551,370"/><polygon fill="#46a61e" points="555,371 555,372 556,372 556,373 557,373 557,374 557,374 557,375 557,375 557,376 557,376 557,377 556,377 556,378 555,378 555,379 551,379 551,378 550,378 550,377 549,377 549,376 549,376 549,375 549,375 549,374 549,374 549,373 550,373 550,372 551,372 551,371"/><polygon fill="#3a9f0d" points="579,373 579,374 580,374 580,375 581,375 581,376 582,376 582,377 582,377 582,378 582,378 582,379 582,379 582,380 581,380 581,381 580,381 580,382 579,382 579,383 575,383 575,382 574,382 574,381 573,381 573,380 572,380 572,379 572,379 572,378 572,378 572,377 572,377 572,376 573,376 573,375 574,375 574,374 575,374 575,373"/><polygon fill="#46a61e" points="579,374 579,375 580,375 580,376 581,376 581,377 581,377 581,378 581,378 581,379 581,379 581,380 580,380 580,381 579,381 579,382 575,382 575,381 574,381 574,380 573,380 573,379 573,379 573,378 573,378 573,377 573,377 573,376 574,376 574,375 575,375 575,374"/><polygon fill="#3a9f0d" points="603,367 603,368 604,368 604,369 605,369 605,370 606,370 606,371 606,371 606,372 606,372 606,373 606,373 606,374 605,374 605,375 604,375 604,376 603,376 603,377 599,377 599,376 598,376 598,375 597,375 597,374 596,374 596,373 596,373 596,372 596,372 596,371 596,371 596,370 597,370 597,369 598,369 598,368 599,368 599,367"/><polygon fill="#46a61e" points="603,368 603,369 604,369 604,370 605,370 605,371 605,371 605,372 605,372 605,373 605,373 605,374 604,374 604,375 603,375 603,376 599,376 599,375 598,375 598,374 597,374 597,373 597,373 597,372 597,372 597,371 597,371 597,370 598,370 598,369 599,369 599,368"/><polygon fill="#3a9f0d" points="626,370 626,371 627,371 627,372 628,372 628,373 629,373 629,374 629,374 629,375 629,375 629,376 629,376 629,377 628,377 628,378 627,378 627,379 626,379 626,380 622,380 622,379 621,379 621,378 620,378 620,377 619,377 619,376 619,376 619,375 619,375 619,374 619,374 619,373 620,373 620,372 621,372 621,371 622,371 622,370"/><polygon fill="#46a61e" points="626,371 626,372 627,372 627,373 628,373 628,374 628,374 628,375 628,375 628,376 628,376 628,377 627,377 627,378 626,378 626,379 622,379 622,378 621,378 621,377 620,377 620,376 620,376 620,375 620,375 620,374 620,374 620,373 621,373 621,372 622,372 622,371"/><polygon fill="#3a9f0d" points="650,373 650,374 651,374 651,375 652,375 652,376 653,376 653,377 653,377 653,378 653,378 653,379 653,379 653,380 652,380 652,381 651,381 651,382 650,382 650,383 646,383 646,382 645,382 645,381 644,381 644,380 643,380 643,379 643,379 643,378 643,378 643,377 643,377 643,376 644,376 644,375 645,375 645,374 646,374 646,373"/><polygon fill="#46a61e" points="650,374 650,375 651,375 651,376 652,376 652,377 652,377 652,378 652,378 652,379 652,379 652,380 651,380 651,381 650,381 650,382 646,382 646,381 645,381 645,380 644,380 644,379 644,379 644,378 644,378 644,377 644,377 644,376 645,376 645,375 646,375 646,374"/><polygon fill="#3a9f0d" points="674,367 674,368 675,368 675,369 676,369 676,370 677,370 677,371 677,371 677,372 677,372 677,373 677,373 677,374 676,374 676,375 675,375 675,376 674,376 674,377 670,377 670,376 669,376 669,375 668,375 668,374 667,374 667,373 667,373 667,372 667,372 667,371 667,371 667,370 668,370 668,369 669,369 669,368 670,368 670,367"/><polygon fill="#46a61e" points="674,368 674,369 675,369 675,370 676,370 676,371 676,371 676,372 676,372 676,373 676,373 676,374 675,374 675,375 674,375 674,376 670,376 670,375 669,375 669,374 668,374 668,373 668,373 668,372 668,372 668,371 668,371 668,370 669,370 669,369 670,369 670,368"/><polygon fill="#3a9f0d" points="698,370 698,371 699,371 699,372 700,372 700,373 701,373 701,374 701,374 701,375 701,375 701,376 701,376 701,377 700,377 700,378 699,378 699,379 698,379 698,380 694,380 694,379 693,379 693,378 692,378 692,377 691,377 691,376 691,376 691,375 691,375 691,374 691,374 691,373 692,373 692,372 693,372 693,371 694,371 694,370"/><polygon fill="#46a61e" points="698,371 698,372 699,372 699,373 700,373 700,374 700,374 700,375 700,375 700,376 700,376 700,377 699,377 699,378 698,378 698,379 694,379 694,378 693,378 693,377 692,377 692,376 692,376 692,375 692,375 692,374 692,374 692,373 693,373 693,372 694,372 694,371"/><polygon fill="#3a9f0d" points="722,365 722,366 723,366 723,367 724,367 724,368 725,368 725,369 725,369 725,370 725,370 725,371 725,371 725,372 724,372 724,373 723,373 723,374 722,374 722,375 718,375 718,374 717,374 717,373 716,373 716,372 715,372 715,371 715,371 715,370 715,370 715,369 715,369 715,368 716,368 716,367 717,367 717,366 718,366 718,365"/><polygon fill="#46a61e" points="722,366 722,367 723,367 723,368 724,368 724,369 724,369 724,370 724,370 724,371 724,371 724,372 723,372 723,373 722,373 722,374 718,374 718,373 717,373 717,372 716,372 716,371 716,371 716,370 716,370 716,369 716,369 716,368 717,368 717,367 718,367 718,366"/><polygon fill="#3a9f0d" points="745,362 745,363 746,363 746,364 747,364 747,365 748,365 748,366 748,366 748,367 748,367 748,368 748,368 748,369 747,369 747,370 746,370 746,371 745,371 745,372 741,372 741,371 740,371 740,370 739,370 739,369 738,369 738,368 738,368 738,367 738,367 738,366 738,366 738,365 739,365 739,364 740,364 740,363 741,363 741,362"/><polygon fill="#46a61e" points="745,363 745,364 746,364 746,365 747,365 747,366 747,366 747,367 747,367 747,368 747,368 747,369 746,369 746,370 745,370 745,371 741,371 741,370 740,370 740,369 739,369 739,368 739,368 739,367 739,367 739,366 739,366 739,365 740,365 740,364 741,364 741,363"/><polygon fill="#3a9f0d" points="769,362 769,363 770,363 770,364 771,364 771,365 772,365 772,366 772,366 772,367 772,367 772,368 772,368 772,369 771,369 771,370 770,370 770,371 769,371 769,372 765,372 765,371 764,371 764,370 763,370 763,369 762,369 762,368 762,368 762,367 762,367 762,366 762,366 762,365 763,365 763,364 764,364 764,363 765,363 765,362"/><polygon fill="#46a61e" points="769,363 769,364 770,364 770,365 771,365 771,366 771,366 771,367 771,367 771,368 771,368 771,369 770,369 770,370 769,370 769,371 765,371 765,370 764,370 764,369 763,369 763,368 763,368 763,367 763,367 763,366 763,366 763,365 764,365 764,364 765,364 765,363"/><polygon fill="#3a9f0d" points="793,362 793,363 794,363 794,364 795,364 795,365 796,365 796,366 796,366 796,367 796,367 796,368 796,368 796,369 795,369 795,370 794,370 794,371 793,371 793,372 789,372 789,371 788,371 788,370 787,370 787,369 786,369 786,368 786,368 786,367 786,367 786,366 786,366 786,365 787,365 787,364 788,364 788,363 789,363 789,362"/><polygon fill="#46a61e" points="793,363 793,364 794,364 794,365 795,365 795,366 795,366 795,367 795,367 795,368 795,368 795,369 794,369 794,370 793,370 793,371 789,371 789,370 788,370 788,369 787,369 787,368 787,368 787,367 787,367 787,366 787,366 787,365 788,365 788,364 789,364 789,363"/><polygon fill="#3a9f0d" points="817,370 817,371 818,371 818,372 819,372 819,373 820,373 820,374 820,374 820,375 820,375 820,376 820,376 820,377 819,377 819,378 818,378 818,379 817,379 817,380 813,380 813,379 812,379 812,378 811,378 811,377 810,377 810,376 810,376 810,375 810,375 810,374 810,374 810,373 811,373 811,372 812,372 812,371 813,371 813,370"/><polygon fill="#46a61e" points="817,371 817,372 818,372 818,373 819,373 819,374 819,374 819,375 819,375 819,376 819,376 819,377 818,377 818,378 817,378 817,379 813,379 813,378 812,378 812,377 811,377 811,376 811,376 811,375 811,375 811,374 811,374 811,373 812,373 812,372 813,372 813,371"/><polygon fill="#3a9f0d" points="841,367 841,368 842,368 842,369 843,369 843,370 844,370 844,371 844,371 844,372 844,372 844,373 844,373 844,374 843,374 843,375 842,375 842,376 841,376 841,377 837,377 837,376 836,376 836,375 835,375 835,374 834,374 834,373 834,373 834,372 834,372 834,371 834,371 834,370 835,370 835,369 836,369 836,368 837,368 837,367"/><polygon fill="#46a61e" points="841,368 841,369 842,369 842,370 843,370 843,371 843,371 843,372 843,372 843,373 843,373 843,374 842,374 842,375 841,375 841,376 837,376 837,375 836,375 836,374 835,374 835,373 835,373 835,372 835,372 835,371 835,371 835,370 836,370 836,369 837,369 837,368"/><polygon fill="#3a9f0d" points="864,362 864,363 865,363 865,364 866,364 866,365 867,365 867,366 867,366 867,367 867,367 867,368 867,368 867,369 866,369 866,370 865,370 865,371 864,371 864,372 860,372 860,371 859,371 859,370 858,370 858,369 857,369 857,368 857,368 857,367 857,367 857,366 857,366 857,365 858,365 858,364 859,364 859,363 860,363 860,362"/><polygon fill="#46a61e" points="864,363 864,364 865,364 865,365 866,365 866,366 866,366 866,367 866,367 866,368 866,368 866,369 865,369 865,370 864,370 864,371 860,371 860,370 859,370 859,369 858,369 858,368 858,368 858,367 858,367 858,366 858,366 858,365 859,365 859,364 860,364 860,363"/><polygon fill="#3a9f0d" points="888,362 888,363 889,363 889,364 890,364 890,365 891,365 891,366 891,366 891,367 891,367 891,368 891,368 891,369 890,369 890,370 889,370 889,371 888,371 888,372 884,372 884,371 883,371 883,370 882,370 882,369 881,369 881,368 881,368 881,367 881,367 881,366 881,366 881,365 882,365 882,364 883,364 883,363 884,363 884,362"/><polygon fill="#46a61e" points="888,363 888,364 889,364 889,365 890,365 890,366 890,366 890,367 890,367 890,368 890,368 890,369 889,369 889,370 888,370 888,371 884,371 884,370 883,370 883,369 882,369 882,368 882,368 882,367 882,367 882,366 882,366 882,365 883,365 883,364 884,364 884,363"/><polygon fill="#3a9f0d" points="912,365 912,366 913,366 913,367 914,367 914,368 915,368 915,369 915,369 915,370 915,370 915,371 915,371 915,372 914,372 914,373 913,373 913,374 912,374 912,375 908,375 908,374 907,374 907,373 906,373 906,372 905,372 905,371 905,371 905,370 905,370 905,369 905,369 905,368 906,368 906,367 907,367 907,366 908,366 908,365"/><polygon fill="#46a61e" points="912,366 912,367 913,367 913,368 914,368 914,369 914,369 914,370 914,370 914,371 914,371 914,372 913,372 913,373 912,373 912,374 908,374 908,373 907,373 907,372 906,372 906,371 906,371 906,370 906,370 906,369 906,369 906,368 907,368 907,367 908,367 908,366"/><polygon fill="#3a9f0d" points="936,367 936,368 937,368 937,369 938,369 938,370 939,370 939,371 939,371 939,372 939,372 939,373 939,373 939,374 938,374 938,375 937,375 937,376 936,376 936,377 932,377 932,376 931,376 931,375 930,375 930,374 929,374 929,373 929,373 929,372 929,372 929,371 929,371 929,370 930,370 930,369 931,369 931,368 932,368 932,367"/><polygon fill="#46a61e" points="936,368 936,369 937,369 937,370 938,370 938,371 938,371 938,372 938,372 938,373 938,373 938,374 937,374 937,375 936,375 936,376 932,376 932,375 931,375 931,374 930,374 930,373 930,373 930,372 930,372 930,371 930,371 930,370 931,370 931,369 932,369 932,368"/><polygon fill="#3a9f0d" points="960,367 960,368 961,368 961,369 962,369 962,370 963,370 963,371 963,371 963,372 963,372 963,373 963,373 963,374 962,374 962,375 961,375 961,376 960,376 960,377 956,377 956,376 955,376 955,375 954,375 954,374 953,374 953,373 953,373 953,372 953,372 953,371 953,371 953,370 954,370 954,369 955,369 955,368 956,368 956,367"/><polygon fill="#46a61e" points="960,368 960,369 961,369 961,370 962,370 962,371 962,371 962,372 962,372 962,373 962,373 962,374 961,374 961,375 960,375 960,376 956,376 956,375 955,375 955,374 954,374 954,373 954,373 954,372 954,372 954,371 954,371 954,370 955,370 955,369 956,369 956,368"/><polygon fill="#3a9f0d" points="983,367 983,368 984,368 984,369 985,369 985,370 986,370 986,371 986,371 986,372 986,372 986,373 986,373 986,374 985,374 985,375 984,375 984,376 983,376 983,377 979,377 979,376 978,376 978,375 977,375 977,374 976,374 976,373 976,373 976,372 976,372 976,371 976,371 976,370 977,370 977,369 978,369 978,368 979,368 979,367"/><polygon fill="#46a61e" points="983,368 983,369 984,369 984,370 985,370 985,371 985,371 985,372 985,372 985,373 985,373 985,374 984,374 984,375 983,375 983,376 979,376 979,375 978,375 978,374 977,374 977,373 977,373 977,372 977,372 977,371 977,371 977,370 978,370 978,369 979,369 979,368"/><polygon fill="#3a9f0d" points="1007,367 1007,368 1008,368 1008,369 1009,369 1009,370 1010,370 1010,371 1010,371 1010,372 1010,372 1010,373 1010,373 1010,374 1009,374 1009,375 1008,375 1008,376 1007,376 1007,377 1003,377 1003,376 1002,376 1002,375 1001,375 1001,374 1000,374 1000,373 1000,373 1000,372 1000,372 1000,371 1000,371 1000,370 1001,370 1001,369 1002,369 1002,368 1003,368 1003,367"/><polygon fill="#46a61e" points="1007,368 1007,369 1008,369 1008,370 1009,370 1009,371 1009,371 1009,372 1009,372 1009,373 1009,373 1009,374 1008,374 1008,375 1007,375 1007,376 1003,376 1003,375 1002,375 1002,374 1001,374 1001,373 1001,373 1001,372 1001,372 1001,371 1001,371 1001,370 1002,370 1002,369 1003,369 1003,368"/><polygon fill="#3a9f0d" points="1031,373 1031,374 1032,374 1032,375 1033,375 1033,376 1034,376 1034,377 1034,377 1034,378 1034,378 1034,379 1034,379 1034,380 1033,380 1033,381 1032,381 1032,382 1031,382 1031,383 1027,383 1027,382 1026,382 1026,381 1025,381 1025,380 1024,380 1024,379 1024,379 1024,378 1024,378 1024,377 1024,377 1024,376 1025,376 1025,375 1026,375 1026,374 1027,374 1027,373"/><polygon fill="#46a61e" points="1031,374 1031,375 1032,375 1032,376 1033,376 1033,377 1033,377 1033,378 1033,378 1033,379 1033,379 1033,380 1032,380 1032,381 1031,381 1031,382 1027,382 1027,381 1026,381 1026,380 1025,380 1025,379 1025,379 1025,378 1025,378 1025,377 1025,377 1025,376 1026,376 1026,375 1027,375 1027,374"/><polygon fill="#3a9f0d" points="1055,373 1055,374 1056,374 1056,375 1057,375 1057,376 1058,376 1058,377 1058,377 1058,378 1058,378 1058,379 1058,379 1058,380 1057,380 1057,381 1056,381 1056,382 1055,382 1055,383 1051,383 1051,382 1050,382 1050,381 1049,381 1049,380 1048,380 1048,379 1048,379 1048,378 1048,378 1048,377 1048,377 1048,376 1049,376 1049,375 1050,375 1050,374 1051,374 1051,373"/><polygon fill="#46a61e" points="1055,374 1055,375 1056,375 1056,376 1057,376 1057,377 1057,377 1057,378 1057,378 1057,379 1057,379 1057,380 1056,380 1056,381 1055,381 1055,382 1051,382 1051,381 1050,381 1050,380 1049,380 1049,379 1049,379 1049,378 1049,378 1049,377 1049,377 1049,376 1050,376 1050,375 1051,375 1051,374"/><polygon fill="#3a9f0d" points="1079,373 1079,374 1080,374 1080,375 1081,375 1081,376 1082,376 1082,377 1082,377 1082,378 1082,378 1082,379 1082,379 1082,380 1081,380 1081,381 1080,381 1080,382 1079,382 1079,383 1075,383 1075,382 1074,382 1074,381 1073,381 1073,380 1072,380 1072,379 1072,379 1072,378 1072,378 1072,377 1072,377 1072,376 1073,376 1073,375 1074,375 1074,374 1075,374 1075,373"/><polygon fill="#46a61e" points="1079,374 1079,375 1080,375 1080,376 1081,376 1081,377 1081,377 1081,378 1081,378 1081,379 1081,379 1081,380 1080,380 1080,381 1079,381 1079,382 1075,382 1075,381 1074,381 1074,380 1073,380 1073,379 1073,379 1073,378 1073,378 1073,377 1073,377 1073,376 1074,376 1074,375 1075,375 1075,374"/><polygon fill="#3a9f0d" points="1126,373 1126,374 1127,374 1127,375 1128,375 1128,376 1129,376 1129,377 1129,377 1129,378 1129,378 1129,379 1129,379 1129,380 1128,380 1128,381 1127,381 1127,382 1126,382 1126,383 1122,383 1122,382 1121,382 1121,381 1120,381 1120,380 1119,380 1119,379 1119,379 1119,378 1119,378 1119,377 1119,377 1119,376 1120,376 1120,375 1121,375 1121,374 1122,374 1122,373"/><polygon fill="#46a61e" points="1126,374 1126,375 1127,375 1127,376 1128,376 1128,377 1128,377 1128,378 1128,378 1128,379 1128,379 1128,380 1127,380 1127,381 1126,381 1126,382 1122,382 1122,381 1121,381 1121,380 1120,380 1120,379 1120,379 1120,378 1120,378 1120,377 1120,377 1120,376 1121,376 1121,375 1122,375 1122,374"/><polygon fill="#3a9f0d" points="1150,373 1150,374 1151,374 1151,375 1152,375 1152,376 1153,376 1153,377 1153,377 1153,378 1153,378 1153,379 1153,379 1153,380 1152,380 1152,381 1151,381 1151,382 1150,382 1150,383 1146,383 1146,382 1145,382 1145,381 1144,381 1144,380 1143,380 1143,379 1143,379 1143,378 1143,378 1143,377 1143,377 1143,376 1144,376 1144,375 1145,375 1145,374 1146,374 1146,373"/><polygon fill="#46a61e" points="1150,374 1150,375 1151,375 1151,376 1152,376 1152,377 1152,377 1152,378 1152,378 1152,379 1152,379 1152,380 1151,380 1151,381 1150,381 1150,382 1146,382 1146,381 1145,381 1145,380 1144,380 1144,379 1144,379 1144,378 1144,378 1144,377 1144,377 1144,376 1145,376 1145,375 1146,375 1146,374"/><polygon fill="#3a9f0d" points="1174,373 1174,374 1175,374 1175,375 1176,375 1176,376 1177,376 1177,377 1177,377 1177,378 1177,378 1177,379 1177,379 1177,380 1176,380 1176,381 1175,381 1175,382 1174,382 1174,383 1170,383 1170,382 1169,382 1169,381 1168,381 1168,380 1167,380 1167,379 1167,379 1167,378 1167,378 1167,377 1167,377 1167,376 1168,376 1168,375 1169,375 1169,374 1170,374 1170,373"/><polygon fill="#46a61e" points="1174,374 1174,375 1175,375 1175,376 1176,376 1176,377 1176,377 1176,378 1176,378 1176,379 1176,379 1176,380 1175,380 1175,381 1174,381 1174,382 1170,382 1170,381 1169,381 1169,380 1168,380 1168,379 1168,379 1168,378 1168,378 1168,377 1168,377 1168,376 1169,376 1169,375 1170,375 1170,374"/><polygon fill="#3a9f0d" points="1198,373 1198,374 1199,374 1199,375 1200,375 1200,376 1201,376 1201,377 1201,377 1201,378 1201,378 1201,379 1201,379 1201,380 1200,380 1200,381 1199,381 1199,382 1198,382 1198,383 1194,383 1194,382 1193,382 1193,381 1192,381 1192,380 1191,380 1191,379 1191,379 1191,378 1191,378 1191,377 1191,377 1191,376 1192,376 1192,375 1193,375 1193,374 1194,374 1194,373"/><polygon fill="#46a61e" points="1198,374 1198,375 1199,375 1199,376 1200,376 1200,377 1200,377 1200,378 1200,378 1200,379 1200,379 1200,380 1199,380 1199,381 1198,381 1198,382 1194,382 1194,381 1193,381 1193,380 1192,380 1192,379 1192,379 1192,378 1192,378 1192,377 1192,377 1192,376 1193,376 1193,375 1194,375 1194,374"/></g>
<rect x="87" y="398" width="1242" height="47" fill="#d9d9d9"/>
<g font-size="23.5" fill="#1a1a1a"><text x="651.81" y="431.20">2020-202</text><path shape-rendering="geometricPrecision" transform="translate(751.72,431.20) scale(0.01147,-0.01123)" d="M763,0L583,0L583,1147Q518,1085 412,1023Q306,961 222,930L222,1104Q373,1175 486,1276Q599,1377 646,1472L763,1472Z"/></g>
<rect x="87" y="569" width="1242" height="2" fill="#cccccc"/>
<rect x="79" y="569" width="8" height="2" fill="#333333"/>
<g font-size="23.5" fill="#4d4d4d"><text x="59.43" y="579.60">0</text></g>
<rect x="87" y="542" width="1242" height="2" fill="#cccccc"/>
<rect x="79" y="542" width="8" height="2" fill="#333333"/>
<g font-size="23.5" fill="#4d4d4d"><path shape-rendering="geometricPrecision" transform="translate(46.96,553.10) scale(0.01147,-0.01123)" d="M763,0L583,0L583,1147Q518,1085 412,1023Q306,961 222,930L222,1104Q373,1175 486,1276Q599,1377 646,1472L763,1472Z"/><text x="59.43" y="553.10">0</text></g>
<rect x="87" y="516" width="1242" height="2" fill="#cccccc"/>
<rect x="79" y="516" width="8" height="2" fill="#333333"/>
<g font-size="23.5" fill="#4d4d4d"><text x="46.36" y="526.60">20</text></g>
<rect x="87" y="489" width="1242" height="2" fill="#cccccc"/>
<rect x="79" y="489" width="8" height="2" fill="#333333"/>
<g font-size="23.5" fill="#4d4d4d"><text x="46.36" y="500.10">30</text></g>
<rect x="87" y="463" width="1242" height="2" fill="#cccccc"/>
<rect x="79" y="463" width="8" height="2" fill="#333333"/>
<g font-size="23.5" fill="#4d4d4d"><text x="46.36" y="473.60">40</text></g>
<path d="M148.00,570.00 L148.0,567.1 L172.0,563.1 L196.0,564.2 L220.0,567.1 L244.0,552.0 L267.0,559.4 L291.0,543.8 L315.0,558.9 L339.0,557.5 L363.0,564.7 L386.0,567.4 L410.0,567.4 L434.0,546.1 L458.0,525.0 L482.0,493.7 L505.0,503.8 L529.0,474.3 L553.0,473.0 L577.0,518.9 L601.0,517.5 L624.0,517.5 L648.0,513.0 L672.0,548.8 L696.0,510.4 L720.0,546.9 L743.0,554.4 L767.0,552.5 L791.0,562.0 L815.0,549.3 L839.0,549.3 L862.0,554.6 L886.0,562.0 L910.0,556.8 L934.0,539.3 L958.0,556.8 L981.0,536.3 L1005.0,554.4 L1029.0,542.4 L1053.0,518.1 L1077.0,525.0 L1100.0,514.6 L1124.0,506.7 L1148.0,456.3 L1172.0,451.8 L1196.0,487.6 L1219.0,530.0 L1243.0,563.6 L1267.0,563.6 L1291.0,564.2 L1315.0,567.4 L1315.00,570.00 Z" fill="rgba(65,163,27,0.2)"/>
<path d="M148,570 L172,570 L196,570 L220,570 L244,570 L267,570 L291,570 L315,570 L339,570 L363,570 L386,570 L410,570 L434,570 L458,570 L482,570 L505,570 L529,570 L553,570 L577,570 L601,570 L624,570 L648,570 L672,570 L696,570 L720,570 L743,570 L767,570 L791,570 L815,570 L839,570 L862,570 L886,570 L910,570 L934,570 L958,570 L981,570 L1005,570 L1029,570 L1053,570 L1077,570 L1100,570 L1124,570 L1148,570 L1172,570 L1196,570 L1219,570 L1243,570 L1267,570 L1291,570 L1315,570" fill="none" stroke="#3a9f0d" stroke-width="2" stroke-linejoin="round"/>
<g fill="#41a31b"><polygon fill="#3a9f0d" points="150,565 150,566 151,566 151,567 152,567 152,568 153,568 153,569 153,569 153,570 153,570 153,571 153,571 153,572 152,572 152,573 151,573 151,574 150,574 150,575 146,575 146,574 145,574 145,573 144,573 144,572 143,572 143,571 143,571 143,570 143,570 143,569 143,569 143,568 144,568 144,567 145,567 145,566 146,566 146,565"/><polygon fill="#46a61e" points="150,566 150,567 151,567 151,568 152,568 152,569 152,569 152,570 152,570 152,571 152,571 152,572 151,572 151,573 150,573 150,574 146,574 146,573 145,573 145,572 144,572 144,571 144,571 144,570 144,570 144,569 144,569 144,568 145,568 145,567 146,567 146,566"/><polygon fill="#3a9f0d" points="174,565 174,566 175,566 175,567 176,567 176,568 177,568 177,569 177,569 177,570 177,570 177,571 177,571 177,572 176,572 176,573 175,573 175,574 174,574 174,575 170,575 170,574 169,574 169,573 168,573 168,572 167,572 167,571 167,571 167,570 167,570 167,569 167,569 167,568 168,568 168,567 169,567 169,566 170,566 170,565"/><polygon fill="#46a61e" points="174,566 174,567 175,567 175,568 176,568 176,569 176,569 176,570 176,570 176,571 176,571 176,572 175,572 175,573 174,573 174,574 170,574 170,573 169,573 169,572 168,572 168,571 168,571 168,570 168,570 168,569 168,569 168,568 169,568 169,567 170,567 170,566"/><polygon fill="#3a9f0d" points="198,565 198,566 199,566 199,567 200,567 200,568 201,568 201,569 201,569 201,570 201,570 201,571 201,571 201,572 200,572 200,573 199,573 199,574 198,574 198,575 194,575 194,574 193,574 193,573 192,573 192,572 191,572 191,571 191,571 191,570 191,570 191,569 191,569 191,568 192,568 192,567 193,567 193,566 194,566 194,565"/><polygon fill="#46a61e" points="198,566 198,567 199,567 199,568 200,568 200,569 200,569 200,570 200,570 200,571 200,571 200,572 199,572 199,573 198,573 198,574 194,574 194,573 193,573 193,572 192,572 192,571 192,571 192,570 192,570 192,569 192,569 192,568 193,568 193,567 194,567 194,566"/><polygon fill="#3a9f0d" points="222,565 222,566 223,566 223,567 224,567 224,568 225,568 225,569 225,569 225,570 225,570 225,571 225,571 225,572 224,572 224,573 223,573 223,574 222,574 222,575 218,575 218,574 217,574 217,573 216,573 216,572 215,572 215,571 215,571 215,570 215,570 215,569 215,569 215,568 216,568 216,567 217,567 217,566 218,566 218,565"/><polygon fill="#46a61e" points="222,566 222,567 223,567 223,568 224,568 224,569 224,569 224,570 224,570 224,571 224,571 224,572 223,572 223,573 222,573 222,574 218,574 218,573 217,573 217,572 216,572 216,571 216,571 216,570 216,570 216,569 216,569 216,568 217,568 217,567 218,567 218,566"/><polygon fill="#3a9f0d" points="246,565 246,566 247,566 247,567 248,567 248,568 249,568 249,569 249,569 249,570 249,570 249,571 249,571 249,572 248,572 248,573 247,573 247,574 246,574 246,575 242,575 242,574 241,574 241,573 240,573 240,572 239,572 239,571 239,571 239,570 239,570 239,569 239,569 239,568 240,568 240,567 241,567 241,566 242,566 242,565"/><polygon fill="#46a61e" points="246,566 246,567 247,567 247,568 248,568 248,569 248,569 248,570 248,570 248,571 248,571 248,572 247,572 247,573 246,573 246,574 242,574 242,573 241,573 241,572 240,572 240,571 240,571 240,570 240,570 240,569 240,569 240,568 241,568 241,567 242,567 242,566"/><polygon fill="#3a9f0d" points="269,565 269,566 270,566 270,567 271,567 271,568 272,568 272,569 272,569 272,570 272,570 272,571 272,571 272,572 271,572 271,573 270,573 270,574 269,574 269,575 265,575 265,574 264,574 264,573 263,573 263,572 262,572 262,571 262,571 262,570 262,570 262,569 262,569 262,568 263,568 263,567 264,567 264,566 265,566 265,565"/><polygon fill="#46a61e" points="269,566 269,567 270,567 270,568 271,568 271,569 271,569 271,570 271,570 271,571 271,571 271,572 270,572 270,573 269,573 269,574 265,574 265,573 264,573 264,572 263,572 263,571 263,571 263,570 263,570 263,569 263,569 263,568 264,568 264,567 265,567 265,566"/><polygon fill="#3a9f0d" points="293,565 293,566 294,566 294,567 295,567 295,568 296,568 296,569 296,569 296,570 296,570 296,571 296,571 296,572 295,572 295,573 294,573 294,574 293,574 293,575 289,575 289,574 288,574 288,573 287,573 287,572 286,572 286,571 286,571 286,570 286,570 286,569 286,569 286,568 287,568 287,567 288,567 288,566 289,566 289,565"/><polygon fill="#46a61e" points="293,566 293,567 294,567 294,568 295,568 295,569 295,569 295,570 295,570 295,571 295,571 295,572 294,572 294,573 293,573 293,574 289,574 289,573 288,573 288,572 287,572 287,571 287,571 287,570 287,570 287,569 287,569 287,568 288,568 288,567 289,567 289,566"/><polygon fill="#3a9f0d" points="317,565 317,566 318,566 318,567 319,567 319,568 320,568 320,569 320,569 320,570 320,570 320,571 320,571 320,572 319,572 319,573 318,573 318,574 317,574 317,575 313,575 313,574 312,574 312,573 311,573 311,572 310,572 310,571 310,571 310,570 310,570 310,569 310,569 310,568 311,568 311,567 312,567 312,566 313,566 313,565"/><polygon fill="#46a61e" points="317,566 317,567 318,567 318,568 319,568 319,569 319,569 319,570 319,570 319,571 319,571 319,572 318,572 318,573 317,573 317,574 313,574 313,573 312,573 312,572 311,572 311,571 311,571 311,570 311,570 311,569 311,569 311,568 312,568 312,567 313,567 313,566"/><polygon fill="#3a9f0d" points="341,565 341,566 342,566 342,567 343,567 343,568 344,568 344,569 344,569 344,570 344,570 344,571 344,571 344,572 343,572 343,573 342,573 342,574 341,574 341,575 337,575 337,574 336,574 336,573 335,573 335,572 334,572 334,571 334,571 334,570 334,570 334,569 334,569 334,568 335,568 335,567 336,567 336,566 337,566 337,565"/><polygon fill="#46a61e" points="341,566 341,567 342,567 342,568 343,568 343,569 343,569 343,570 343,570 343,571 343,571 343,572 342,572 342,573 341,573 341,574 337,574 337,573 336,573 336,572 335,572 335,571 335,571 335,570 335,570 335,569 335,569 335,568 336,568 336,567 337,567 337,566"/><polygon fill="#3a9f0d" points="365,565 365,566 366,566 366,567 367,567 367,568 368,568 368,569 368,569 368,570 368,570 368,571 368,571 368,572 367,572 367,573 366,573 366,574 365,574 365,575 361,575 361,574 360,574 360,573 359,573 359,572 358,572 358,571 358,571 358,570 358,570 358,569 358,569 358,568 359,568 359,567 360,567 360,566 361,566 361,565"/><polygon fill="#46a61e" points="365,566 365,567 366,567 366,568 367,568 367,569 367,569 367,570 367,570 367,571 367,571 367,572 366,572 366,573 365,573 365,574 361,574 361,573 360,573 360,572 359,572 359,571 359,571 359,570 359,570 359,569 359,569 359,568 360,568 360,567 361,567 361,566"/><polygon fill="#3a9f0d" points="388,565 388,566 389,566 389,567 390,567 390,568 391,568 391,569 391,569 391,570 391,570 391,571 391,571 391,572 390,572 390,573 389,573 389,574 388,574 388,575 384,575 384,574 383,574 383,573 382,573 382,572 381,572 381,571 381,571 381,570 381,570 381,569 381,569 381,568 382,568 382,567 383,567 383,566 384,566 384,565"/><polygon fill="#46a61e" points="388,566 388,567 389,567 389,568 390,568 390,569 390,569 390,570 390,570 390,571 390,571 390,572 389,572 389,573 388,573 388,574 384,574 384,573 383,573 383,572 382,572 382,571 382,571 382,570 382,570 382,569 382,569 382,568 383,568 383,567 384,567 384,566"/><polygon fill="#3a9f0d" points="412,565 412,566 413,566 413,567 414,567 414,568 415,568 415,569 415,569 415,570 415,570 415,571 415,571 415,572 414,572 414,573 413,573 413,574 412,574 412,575 408,575 408,574 407,574 407,573 406,573 406,572 405,572 405,571 405,571 405,570 405,570 405,569 405,569 405,568 406,568 406,567 407,567 407,566 408,566 408,565"/><polygon fill="#46a61e" points="412,566 412,567 413,567 413,568 414,568 414,569 414,569 414,570 414,570 414,571 414,571 414,572 413,572 413,573 412,573 412,574 408,574 408,573 407,573 407,572 406,572 406,571 406,571 406,570 406,570 406,569 406,569 406,568 407,568 407,567 408,567 408,566"/><polygon fill="#3a9f0d" points="436,565 436,566 437,566 437,567 438,567 438,568 439,568 439,569 439,569 439,570 439,570 439,571 439,571 439,572 438,572 438,573 437,573 437,574 436,574 436,575 432,575 432,574 431,574 431,573 430,573 430,572 429,572 429,571 429,571 429,570 429,570 429,569 429,569 429,568 430,568 430,567 431,567 431,566 432,566 432,565"/><polygon fill="#46a61e" points="436,566 436,567 437,567 437,568 438,568 438,569 438,569 438,570 438,570 438,571 438,571 438,572 437,572 437,573 436,573 436,574 432,574 432,573 431,573 431,572 430,572 430,571 430,571 430,570 430,570 430,569 430,569 430,568 431,568 431,567 432,567 432,566"/><polygon fill="#3a9f0d" points="460,565 460,566 461,566 461,567 462,567 462,568 463,568 463,569 463,569 463,570 463,570 463,571 463,571 463,572 462,572 462,573 461,573 461,574 460,574 460,575 456,575 456,574 455,574 455,573 454,573 454,572 453,572 453,571 453,571 453,570 453,570 453,569 453,569 453,568 454,568 454,567 455,567 455,566 456,566 456,565"/><polygon fill="#46a61e" points="460,566 460,567 461,567 461,568 462,568 462,569 462,569 462,570 462,570 462,571 462,571 462,572 461,572 461,573 460,573 460,574 456,574 456,573 455,573 455,572 454,572 454,571 454,571 454,570 454,570 454,569 454,569 454,568 455,568 455,567 456,567 456,566"/><polygon fill="#3a9f0d" points="484,565 484,566 485,566 485,567 486,567 486,568 487,568 487,569 487,569 487,570 487,570 487,571 487,571 487,572 486,572 486,573 485,573 485,574 484,574 484,575 480,575 480,574 479,574 479,573 478,573 478,572 477,572 477,571 477,571 477,570 477,570 477,569 477,569 477,568 478,568 478,567 479,567 479,566 480,566 480,565"/><polygon fill="#46a61e" points="484,566 484,567 485,567 485,568 486,568 486,569 486,569 486,570 486,570 486,571 486,571 486,572 485,572 485,573 484,573 484,574 480,574 480,573 479,573 479,572 478,572 478,571 478,571 478,570 478,570 478,569 478,569 478,568 479,568 479,567 480,567 480,566"/><polygon fill="#3a9f0d" points="507,565 507,566 508,566 508,567 509,567 509,568 510,568 510,569 510,569 510,570 510,570 510,571 510,571 510,572 509,572 509,573 508,573 508,574 507,574 507,575 503,575 503,574 502,574 502,573 501,573 501,572 500,572 500,571 500,571 500,570 500,570 500,569 500,569 500,568 501,568 501,567 502,567 502,566 503,566 503,565"/><polygon fill="#46a61e" points="507,566 507,567 508,567 508,568 509,568 509,569 509,569 509,570 509,570 509,571 509,571 509,572 508,572 508,573 507,573 507,574 503,574 503,573 502,573 502,572 501,572 501,571 501,571 501,570 501,570 501,569 501,569 501,568 502,568 502,567 503,567 503,566"/><polygon fill="#3a9f0d" points="531,565 531,566 532,566 532,567 533,567 533,568 534,568 534,569 534,569 534,570 534,570 534,571 534,571 534,572 533,572 533,573 532,573 532,574 531,574 531,575 527,575 527,574 526,574 526,573 525,573 525,572 524,572 524,571 524,571 524,570 524,570 524,569 524,569 524,568 525,568 525,567 526,567 526,566 527,566 527,565"/><polygon fill="#46a61e" points="531,566 531,567 532,567 532,568 533,568 533,569 533,569 533,570 533,570 533,571 533,571 533,572 532,572 532,573 531,573 531,574 527,574 527,573 526,573 526,572 525,572 525,571 525,571 525,570 525,570 525,569 525,569 525,568 526,568 526,567 527,567 527,566"/><polygon fill="#3a9f0d" points="555,565 555,566 556,566 556,567 557,567 557,568 558,568 558,569 558,569 558,570 558,570 558,571 558,571 558,572 557,572 557,573 556,573 556,574 555,574 555,575 551,575 551,574 550,574 550,573 549,573 549,572 548,572 548,571 548,571 548,570 548,570 548,569 548,569 548,568 549,568 549,567 550,567 550,566 551,566 551,565"/><polygon fill="#46a61e" points="555,566 555,567 556,567 556,568 557,568 557,569 557,569 557,570 557,570 557,571 557,571 557,572 556,572 556,573 555,573 555,574 551,574 551,573 550,573 550,572 549,572 549,571 549,571 549,570 549,570 549,569 549,569 549,568 550,568 550,567 551,567 551,566"/><polygon fill="#3a9f0d" points="579,565 579,566 580,566 580,567 581,567 581,568 582,568 582,569 582,569 582,570 582,570 582,571 582,571 582,572 581,572 581,573 580,573 580,574 579,574 579,575 575,575 575,574 574,574 574,573 573,573 573,572 572,572 572,571 572,571 572,570 572,570 572,569 572,569 572,568 573,568 573,567 574,567 574,566 575,566 575,565"/><polygon fill="#46a61e" points="579,566 579,567 580,567 580,568 581,568 581,569 581,569 581,570 581,570 581,571 581,571 581,572 580,572 580,573 579,573 579,574 575,574 575,573 574,573 574,572 573,572 573,571 573,571 573,570 573,570 573,569 573,569 573,568 574,568 574,567 575,567 575,566"/><polygon fill="#3a9f0d" points="603,565 603,566 604,566 604,567 605,567 605,568 606,568 606,569 606,569 606,570 606,570 606,571 606,571 606,572 605,572 605,573 604,573 604,574 603,574 603,575 599,575 599,574 598,574 598,573 597,573 597,572 596,572 596,571 596,571 596,570 596,570 596,569 596,569 596,568 597,568 597,567 598,567 598,566 599,566 599,565"/><polygon fill="#46a61e" points="603,566 603,567 604,567 604,568 605,568 605,569 605,569 605,570 605,570 605,571 605,571 605,572 604,572 604,573 603,573 603,574 599,574 599,573 598,573 598,572 597,572 597,571 597,571 597,570 597,570 597,569 597,569 597,568 598,568 598,567 599,567 599,566"/><polygon fill="#3a9f0d" points="626,565 626,566 627,566 627,567 628,567 628,568 629,568 629,569 629,569 629,570 629,570 629,571 629,571 629,572 628,572 628,573 627,573 627,574 626,574 626,575 622,575 622,574 621,574 621,573 620,573 620,572 619,572 619,571 619,571 619,570 619,570 619,569 619,569 619,568 620,568 620,567 621,567 621,566 622,566 622,565"/><polygon fill="#46a61e" points="626,566 626,567 627,567 627,568 628,568 628,569 628,569 628,570 628,570 628,571 628,571 628,572 627,572 627,573 626,573 626,574 622,574 622,573 621,573 621,572 620,572 620,571 620,571 620,570 620,570 620,569 620,569 620,568 621,568 621,567 622,567 622,566"/><polygon fill="#3a9f0d" points="650,565 650,566 651,566 651,567 652,567 652,568 653,568 653,569 653,569 653,570 653,570 653,571 653,571 653,572 652,572 652,573 651,573 651,574 650,574 650,575 646,575 646,574 645,574 645,573 644,573 644,572 643,572 643,571 643,571 643,570 643,570 643,569 643,569 643,568 644,568 644,567 645,567 645,566 646,566 646,565"/><polygon fill="#46a61e" points="650,566 650,567 651,567 651,568 652,568 652,569 652,569 652,570 652,570 652,571 652,571 652,572 651,572 651,573 650,573 650,574 646,574 646,573 645,573 645,572 644,572 644,571 644,571 644,570 644,570 644,569 644,569 644,568 645,568 645,567 646,567 646,566"/><polygon fill="#3a9f0d" points="674,565 674,566 675,566 675,567 676,567 676,568 677,568 677,569 677,569 677,570 677,570 677,571 677,571 677,572 676,572 676,573 675,573 675,574 674,574 674,575 670,575 670,574 669,574 669,573 668,573 668,572 667,572 667,571 667,571 667,570 667,570 667,569 667,569 667,568 668,568 668,567 669,567 669,566 670,566 670,565"/><polygon fill="#46a61e" points="674,566 674,567 675,567 675,568 676,568 676,569 676,569 676,570 676,570 676,571 676,571 676,572 675,572 675,573 674,573 674,574 670,574 670,573 669,573 669,572 668,572 668,571 668,571 668,570 668,570 668,569 668,569 668,568 669,568 669,567 670,567 670,566"/><polygon fill="#3a9f0d" points="698,565 698,566 699,566 699,567 700,567 700,568 701,568 701,569 701,569 701,570 701,570 701,571 701,571 701,572 700,572 700,573 699,573 699,574 698,574 698,575 694,575 694,574 693,574 693,573 692,573 692,572 691,572 691,571 691,571 691,570 691,570 691,569 691,569 691,568 692,568 692,567 693,567 693,566 694,566 694,565"/><polygon fill="#46a61e" points="698,566 698,567 699,567 699,568 700,568 700,569 700,569 700,570 700,570 700,571 700,571 700,572 699,572 699,573 698,573 698,574 694,574 694,573 693,573 693,572 692,572 692,571 692,571 692,570 692,570 692,569 692,569 692,568 693,568 693,567 694,567 694,566"/><polygon fill="#3a9f0d" points="722,565 722,566 723,566 723,567 724,567 724,568 725,568 725,569 725,569 725,570 725,570 725,571 725,571 725,572 724,572 724,573 723,573 723,574 722,574 722,575 718,575 718,574 717,574 717,573 716,573 716,572 715,572 715,571 715,571 715,570 715,570 715,569 715,569 715,568 716,568 716,567 717,567 717,566 718,566 718,565"/><polygon fill="#46a61e" points="722,566 722,567 723,567 723,568 724,568 724,569 724,569 724,570 724,570 724,571 724,571 724,572 723,572 723,573 722,573 722,574 718,574 718,573 717,573 717,572 716,572 716,571 716,571 716,570 716,570 716,569 716,569 716,568 717,568 717,567 718,567 718,566"/><polygon fill="#3a9f0d" points="745,565 745,566 746,566 746,567 747,567 747,568 748,568 748,569 748,569 748,570 748,570 748,571 748,571 748,572 747,572 747,573 746,573 746,574 745,574 745,575 741,575 741,574 740,574 740,573 739,573 739,572 738,572 738,571 738,571 738,570 738,570 738,569 738,569 738,568 739,568 739,567 740,567 740,566 741,566 741,565"/><polygon fill="#46a61e" points="745,566 745,567 746,567 746,568 747,568 747,569 747,569 747,570 747,570 747,571 747,571 747,572 746,572 746,573 745,573 745,574 741,574 741,573 740,573 740,572 739,572 739,571 739,571 739,570 739,570 739,569 739,569 739,568 740,568 740,567 741,567 741,566"/><polygon fill="#3a9f0d" points="769,565 769,566 770,566 770,567 771,567 771,568 772,568 772,569 772,569 772,570 772,570 772,571 772,571 772,572 771,572 771,573 770,573 770,574 769,574 769,575 765,575 765,574 764,574 764,573 763,573 763,572 762,572 762,571 762,571 762,570 762,570 762,569 762,569 762,568 763,568 763,567 764,567 764,566 765,566 765,565"/><polygon fill="#46a61e" points="769,566 769,567 770,567 770,568 771,568 771,569 771,569 771,570 771,570 771,571 771,571 771,572 770,572 770,573 769,573 769,574 765,574 765,573 764,573 764,572 763,572 763,571 763,571 763,570 763,570 763,569 763,569 763,568 764,568 764,567 765,567 765,566"/><polygon fill="#3a9f0d" points="793,565 793,566 794,566 794,567 795,567 795,568 796,568 796,569 796,569 796,570 796,570 796,571 796,571 796,572 795,572 795,573 794,573 794,574 793,574 793,575 789,575 789,574 788,574 788,573 787,573 787,572 786,572 786,571 786,571 786,570 786,570 786,569 786,569 786,568 787,568 787,567 788,567 788,566 789,566 789,565"/><polygon fill="#46a61e" points="793,566 793,567 794,567 794,568 795,568 795,569 795,569 795,570 795,570 795,571 795,571 795,572 794,572 794,573 793,573 793,574 789,574 789,573 788,573 788,572 787,572 787,571 787,571 787,570 787,570 787,569 787,569 787,568 788,568 788,567 789,567 789,566"/><polygon fill="#3a9f0d" points="817,565 817,566 818,566 818,567 819,567 819,568 820,568 820,569 820,569 820,570 820,570 820,571 820,571 820,572 819,572 819,573 818,573 818,574 817,574 817,575 813,575 813,574 812,574 812,573 811,573 811,572 810,572 810,571 810,571 810,570 810,570 810,569 810,569 810,568 811,568 811,567 812,567 812,566 813,566 813,565"/><polygon fill="#46a61e" points="817,566 817,567 818,567 818,568 819,568 819,569 819,569 819,570 819,570 819,571 819,571 819,572 818,572 818,573 817,573 817,574 813,574 813,573 812,573 812,572 811,572 811,571 811,571 811,570 811,570 811,569 811,569 811,568 812,568 812,567 813,567 813,566"/><polygon fill="#3a9f0d" points="841,565 841,566 842,566 842,567 843,567 843,568 844,568 844,569 844,569 844,570 844,570 844,571 844,571 844,572 843,572 843,573 842,573 842,574 841,574 841,575 837,575 837,574 836,574 836,573 835,573 835,572 834,572 834,571 834,571 834,570 834,570 834,569 834,569 834,568 835,568 835,567 836,567 836,566 837,566 837,565"/><polygon fill="#46a61e" points="841,566 841,567 842,567 842,568 843,568 843,569 843,569 843,570 843,570 843,571 843,571 843,572 842,572 842,573 841,573 841,574 837,574 837,573 836,573 836,572 835,572 835,571 835,571 835,570 835,570 835,569 835,569 835,568 836,568 836,567 837,567 837,566"/><polygon fill="#3a9f0d" points="864,565 864,566 865,566 865,567 866,567 866,568 867,568 867,569 867,569 867,570 867,570 867,571 867,571 867,572 866,572 866,573 865,573 865,574 864,574 864,575 860,575 860,574 859,574 859,573 858,573 858,572 857,572 857,571 857,571 857,570 857,570 857,569 857,569 857,568 858,568 858,567 859,567 859,566 860,566 860,565"/><polygon fill="#46a61e" points="864,566 864,567 865,567 865,568 866,568 866,569 866,569 866,570 866,570 866,571 866,571 866,572 865,572 865,573 864,573 864,574 860,574 860,573 859,573 859,572 858,572 858,571 858,571 858,570 858,570 858,569 858,569 858,568 859,568 859,567 860,567 860,566"/><polygon fill="#3a9f0d" points="888,565 888,566 889,566 889,567 890,567 890,568 891,568 891,569 891,569 891,570 891,570 891,571 891,571 891,572 890,572 890,573 889,573 889,574 888,574 888,575 884,575 884,574 883,574 883,573 882,573 882,572 881,572 881,571 881,571 881,570 881,570 881,569 881,569 881,568 882,568 882,567 883,567 883,566 884,566 884,565"/><polygon fill="#46a61e" points="888,566 888,567 889,567 889,568 890,568 890,569 890,569 890,570 890,570 890,571 890,571 890,572 889,572 889,573 888,573 888,574 884,574 884,573 883,573 883,572 882,572 882,571 882,571 882,570 882,570 882,569 882,569 882,568 883,568 883,567 884,567 884,566"/><polygon fill="#3a9f0d" points="912,565 912,566 913,566 913,567 914,567 914,568 915,568 915,569 915,569 915,570 915,570 915,571 915,571 915,572 914,572 914,573 913,573 913,574 912,574 912,575 908,575 908,574 907,574 907,573 906,573 906,572 905,572 905,571 905,571 905,570 905,570 905,569 905,569 905,568 906,568 906,567 907,567 907,566 908,566 908,565"/><polygon fill="#46a61e" points="912,566 912,567 913,567 913,568 914,568 914,569 914,569 914,570 914,570 914,571 914,571 914,572 913,572 913,573 912,573 912,574 908,574 908,573 907,573 907,572 906,572 906,571 906,571 906,570 906,570 906,569 906,569 906,568 907,568 907,567 908,567 908,566"/><polygon fill="#3a9f0d" points="936,565 936,566 937,566 937,567 938,567 938,568 939,568 939,569 939,569 939,570 939,570 939,571 939,571 939,572 938,572 938,573 937,573 937,574 936,574 936,575 932,575 932,574 931,574 931,573 930,573 930,572 929,572 929,571 929,571 929,570 929,570 929,569 929,569 929,568 930,568 930,567 931,567 931,566 932,566 932,565"/><polygon fill="#46a61e" points="936,566 936,567 937,567 937,568 938,568 938,569 938,569 938,570 938,570 938,571 938,571 938,572 937,572 937,573 936,573 936,574 932,574 932,573 931,573 931,572 930,572 930,571 930,571 930,570 930,570 930,569 930,569 930,568 931,568 931,567 932,567 932,566"/><polygon fill="#3a9f0d" points="960,565 960,566 961,566 961,567 962,567 962,568 963,568 963,569 963,569 963,570 963,570 963,571 963,571 963,572 962,572 962,573 961,573 961,574 960,574 960,575 956,575 956,574 955,574 955,573 954,573 954,572 953,572 953,571 953,571 953,570 953,570 953,569 953,569 953,568 954,568 954,567 955,567 955,566 956,566 956,565"/><polygon fill="#46a61e" points="960,566 960,567 961,567 961,568 962,568 962,569 962,569 962,570 962,570 962,571 962,571 962,572 961,572 961,573 960,573 960,574 956,574 956,573 955,573 955,572 954,572 954,571 954,571 954,570 954,570 954,569 954,569 954,568 955,568 955,567 956,567 956,566"/><polygon fill="#3a9f0d" points="983,565 983,566 984,566 984,567 985,567 985,568 986,568 986,569 986,569 986,570 986,570 986,571 986,571 986,572 985,572 985,573 984,573 984,574 983,574 983,575 979,575 979,574 978,574 978,573 977,573 977,572 976,572 976,571 976,571 976,570 976,570 976,569 976,569 976,568 977,568 977,567 978,567 978,566 979,566 979,565"/><polygon fill="#46a61e" points="983,566 983,567 984,567 984,568 985,568 985,569 985,569 985,570 985,570 985,571 985,571 985,572 984,572 984,573 983,573 983,574 979,574 979,573 978,573 978,572 977,572 977,571 977,571 977,570 977,570 977,569 977,569 977,568 978,568 978,567 979,567 979,566"/><polygon fill="#3a9f0d" points="1007,565 1007,566 1008,566 1008,567 1009,567 1009,568 1010,568 1010,569 1010,569 1010,570 1010,570 1010,571 1010,571 1010,572 1009,572 1009,573 1008,573 1008,574 1007,574 1007,575 1003,575 1003,574 1002,574 1002,573 1001,573 1001,572 1000,572 1000,571 1000,571 1000,570 1000,570 1000,569 1000,569 1000,568 1001,568 1001,567 1002,567 1002,566 1003,566 1003,565"/><polygon fill="#46a61e" points="1007,566 1007,567 1008,567 1008,568 1009,568 1009,569 1009,569 1009,570 1009,570 1009,571 1009,571 1009,572 1008,572 1008,573 1007,573 1007,574 1003,574 1003,573 1002,573 1002,572 1001,572 1001,571 1001,571 1001,570 1001,570 1001,569 1001,569 1001,568 1002,568 1002,567 1003,567 1003,566"/><polygon fill="#3a9f0d" points="1031,565 1031,566 1032,566 1032,567 1033,567 1033,568 1034,568 1034,569 1034,569 1034,570 1034,570 1034,571 1034,571 1034,572 1033,572 1033,573 1032,573 1032,574 1031,574 1031,575 1027,575 1027,574 1026,574 1026,573 1025,573 1025,572 1024,572 1024,571 1024,571 1024,570 1024,570 1024,569 1024,569 1024,568 1025,568 1025,567 1026,567 1026,566 1027,566 1027,565"/><polygon fill="#46a61e" points="1031,566 1031,567 1032,567 1032,568 1033,568 1033,569 1033,569 1033,570 1033,570 1033,571 1033,571 1033,572 1032,572 1032,573 1031,573 1031,574 1027,574 1027,573 1026,573 1026,572 1025,572 1025,571 1025,571 1025,570 1025,570 1025,569 1025,569 1025,568 1026,568 1026,567 1027,567 1027,566"/><polygon fill="#3a9f0d" points="1055,565 1055,566 1056,566 1056,567 1057,567 1057,568 1058,568 1058,569 1058,569 1058,570 1058,570 1058,571 1058,571 1058,572 1057,572 1057,573 1056,573 1056,574 1055,574 1055,575 1051,575 1051,574 1050,574 1050,573 1049,573 1049,572 1048,572 1048,571 1048,571 1048,570 1048,570 1048,569 1048,569 1048,568 1049,568 1049,567 1050,567 1050,566 1051,566 1051,565"/><polygon fill="#46a61e" points="1055,566 1055,567 1056,567 1056,568 1057,568 1057,569 1057,569 1057,570 1057,570 1057,571 1057,571 1057,572 1056,572 1056,573 1055,573 1055,574 1051,574 1051,573 1050,573 1050,572 1049,572 1049,571 1049,571 1049,570 1049,570 1049,569 1049,569 1049,568 1050,568 1050,567 1051,567 1051,566"/><polygon fill="#3a9f0d" points="1079,565 1079,566 1080,566 1080,567 1081,567 1081,568 1082,568 1082,569 1082,569 1082,570 1082,570 1082,571 1082,571 1082,572 1081,572 1081,573 1080,573 1080,574 1079,574 1079,575 1075,575 1075,574 1074,574 1074,573 1073,573 1073,572 1072,572 1072,571 1072,571 1072,570 1072,570 1072,569 1072,569 1072,568 1073,568 1073,567 1074,567 1074,566 1075,566 1075,565"/><polygon fill="#46a61e" points="1079,566 1079,567 1080,567 1080,568 1081,568 1081,569 1081,569 1081,570 1081,570 1081,571 1081,571 1081,572 1080,572 1080,573 1079,573 1079,574 1075,574 1075,573 1074,573 1074,572 1073,572 1073,571 1073,571 1073,570 1073,570 1073,569 1073,569 1073,568 1074,568 1074,567 1075,567 1075,566"/><polygon fill="#3a9f0d" points="1102,565 1102,566 1103,566 1103,567 1104,567 1104,568 1105,568 1105,569 1105,569 1105,570 1105,570 1105,571 1105,571 1105,572 1104,572 1104,573 1103,573 1103,574 1102,574 1102,575 1098,575 1098,574 1097,574 1097,573 1096,573 1096,572 1095,572 1095,571 1095,571 1095,570 1095,570 1095,569 1095,569 1095,568 1096,568 1096,567 1097,567 1097,566 1098,566 1098,565"/><polygon fill="#46a61e" points="1102,566 1102,567 1103,567 1103,568 1104,568 1104,569 1104,569 1104,570 1104,570 1104,571 1104,571 1104,572 1103,572 1103,573 1102,573 1102,574 1098,574 1098,573 1097,573 1097,572 1096,572 1096,571 1096,571 1096,570 1096,570 1096,569 1096,569 1096,568 1097,568 1097,567 1098,567 1098,566"/><polygon fill="#3a9f0d" points="1126,565 1126,566 1127,566 1127,567 1128,567 1128,568 1129,568 1129,569 1129,569 1129,570 1129,570 1129,571 1129,571 1129,572 1128,572 1128,573 1127,573 1127,574 1126,574 1126,575 1122,575 1122,574 1121,574 1121,573 1120,573 1120,572 1119,572 1119,571 1119,571 1119,570 1119,570 1119,569 1119,569 1119,568 1120,568 1120,567 1121,567 1121,566 1122,566 1122,565"/><polygon fill="#46a61e" points="1126,566 1126,567 1127,567 1127,568 1128,568 1128,569 1128,569 1128,570 1128,570 1128,571 1128,571 1128,572 1127,572 1127,573 1126,573 1126,574 1122,574 1122,573 1121,573 1121,572 1120,572 1120,571 1120,571 1120,570 1120,570 1120,569 1120,569 1120,568 1121,568 1121,567 1122,567 1122,566"/><polygon fill="#3a9f0d" points="1150,565 1150,566 1151,566 1151,567 1152,567 1152,568 1153,568 1153,569 1153,569 1153,570 1153,570 1153,571 1153,571 1153,572 1152,572 1152,573 1151,573 1151,574 1150,574 1150,575 1146,575 1146,574 1145,574 1145,573 1144,573 1144,572 1143,572 1143,571 1143,571 1143,570 1143,570 1143,569 1143,569 1143,568 1144,568 1144,567 1145,567 1145,566 1146,566 1146,565"/><polygon fill="#46a61e" points="1150,566 1150,567 1151,567 1151,568 1152,568 1152,569 1152,569 1152,570 1152,570 1152,571 1152,571 1152,572 1151,572 1151,573 1150,573 1150,574 1146,574 1146,573 1145,573 1145,572 1144,572 1144,571 1144,571 1144,570 1144,570 1144,569 1144,569 1144,568 1145,568 1145,567 1146,567 1146,566"/><polygon fill="#3a9f0d" points="1174,565 1174,566 1175,566 1175,567 1176,567 1176,568 1177,568 1177,569 1177,569 1177,570 1177,570 1177,571 1177,571 1177,572 1176,572 1176,573 1175,573 1175,574 1174,574 1174,575 1170,575 1170,574 1169,574 1169,573 1168,573 1168,572 1167,572 1167,571 1167,571 1167,570 1167,570 1167,569 1167,569 1167,568 1168,568 1168,567 1169,567 1169,566 1170,566 1170,565"/><polygon fill="#46a61e" points="1174,566 1174,567 1175,567 1175,568 1176,568 1176,569 1176,569 1176,570 1176,570 1176,571 1176,571 1176,572 1175,572 1175,573 1174,573 1174,574 1170,574 1170,573 1169,573 1169,572 1168,572 1168,571 1168,571 1168,570 1168,570 1168,569 1168,569 1168,568 1169,568 1169,567 1170,567 1170,566"/><polygon fill="#3a9f0d" points="1198,565 1198,566 1199,566 1199,567 1200,567 1200,568 1201,568 1201,569 1201,569 1201,570 1201,570 1201,571 1201,571 1201,572 1200,572 1200,573 1199,573 1199,574 1198,574 1198,575 1194,575 1194,574 1193,574 1193,573 1192,573 1192,572 1191,572 1191,571 1191,571 1191,570 1191,570 1191,569 1191,569 1191,568 1192,568 1192,567 1193,567 1193,566 1194,566 1194,565"/><polygon fill="#46a61e" points="1198,566 1198,567 1199,567 1199,568 1200,568 1200,569 1200,569 1200,570 1200,570 1200,571 1200,571 1200,572 1199,572 1199,573 1198,573 1198,574 1194,574 1194,573 1193,573 1193,572 1192,572 1192,571 1192,571 1192,570 1192,570 1192,569 1192,569 1192,568 1193,568 1193,567 1194,567 1194,566"/><polygon fill="#3a9f0d" points="1221,565 1221,566 1222,566 1222,567 1223,567 1223,568 1224,568 1224,569 1224,569 1224,570 1224,570 1224,571 1224,571 1224,572 1223,572 1223,573 1222,573 1222,574 1221,574 1221,575 1217,575 1217,574 1216,574 1216,573 1215,573 1215,572 1214,572 1214,571 1214,571 1214,570 1214,570 1214,569 1214,569 1214,568 1215,568 1215,567 1216,567 1216,566 1217,566 1217,565"/><polygon fill="#46a61e" points="1221,566 1221,567 1222,567 1222,568 1223,568 1223,569 1223,569 1223,570 1223,570 1223,571 1223,571 1223,572 1222,572 1222,573 1221,573 1221,574 1217,574 1217,573 1216,573 1216,572 1215,572 1215,571 1215,571 1215,570 1215,570 1215,569 1215,569 1215,568 1216,568 1216,567 1217,567 1217,566"/><polygon fill="#3a9f0d" points="1245,565 1245,566 1246,566 1246,567 1247,567 1247,568 1248,568 1248,569 1248,569 1248,570 1248,570 1248,571 1248,571 1248,572 1247,572 1247,573 1246,573 1246,574 1245,574 1245,575 1241,575 1241,574 1240,574 1240,573 1239,573 1239,572 1238,572 1238,571 1238,571 1238,570 1238,570 1238,569 1238,569 1238,568 1239,568 1239,567 1240,567 1240,566 1241,566 1241,565"/><polygon fill="#46a61e" points="1245,566 1245,567 1246,567 1246,568 1247,568 1247,569 1247,569 1247,570 1247,570 1247,571 1247,571 1247,572 1246,572 1246,573 1245,573 1245,574 1241,574 1241,573 1240,573 1240,572 1239,572 1239,571 1239,571 1239,570 1239,570 1239,569 1239,569 1239,568 1240,568 1240,567 1241,567 1241,566"/><polygon fill="#3a9f0d" points="1269,565 1269,566 1270,566 1270,567 1271,567 1271,568 1272,568 1272,569 1272,569 1272,570 1272,570 1272,571 1272,571 1272,572 1271,572 1271,573 1270,573 1270,574 1269,574 1269,575 1265,575 1265,574 1264,574 1264,573 1263,573 1263,572 1262,572 1262,571 1262,571 1262,570 1262,570 1262,569 1262,569 1262,568 1263,568 1263,567 1264,567 1264,566 1265,566 1265,565"/><polygon fill="#46a61e" points="1269,566 1269,567 1270,567 1270,568 1271,568 1271,569 1271,569 1271,570 1271,570 1271,571 1271,571 1271,572 1270,572 1270,573 1269,573 1269,574 1265,574 1265,573 1264,573 1264,572 1263,572 1263,571 1263,571 1263,570 1263,570 1263,569 1263,569 1263,568 1264,568 1264,567 1265,567 1265,566"/><polygon fill="#3a9f0d" points="1293,565 1293,566 1294,566 1294,567 1295,567 1295,568 1296,568 1296,569 1296,569 1296,570 1296,570 1296,571 1296,571 1296,572 1295,572 1295,573 1294,573 1294,574 1293,574 1293,575 1289,575 1289,574 1288,574 1288,573 1287,573 1287,572 1286,572 1286,571 1286,571 1286,570 1286,570 1286,569 1286,569 1286,568 1287,568 1287,567 1288,567 1288,566 1289,566 1289,565"/><polygon fill="#46a61e" points="1293,566 1293,567 1294,567 1294,568 1295,568 1295,569 1295,569 1295,570 1295,570 1295,571 1295,571 1295,572 1294,572 1294,573 1293,573 1293,574 1289,574 1289,573 1288,573 1288,572 1287,572 1287,571 1287,571 1287,570 1287,570 1287,569 1287,569 1287,568 1288,568 1288,567 1289,567 1289,566"/><polygon fill="#3a9f0d" points="1317,565 1317,566 1318,566 1318,567 1319,567 1319,568 1320,568 1320,569 1320,569 1320,570 1320,570 1320,571 1320,571 1320,572 1319,572 1319,573 1318,573 1318,574 1317,574 1317,575 1313,575 1313,574 1312,574 1312,573 1311,573 1311,572 1310,572 1310,571 1310,571 1310,570 1310,570 1310,569 1310,569 1310,568 1311,568 1311,567 1312,567 1312,566 1313,566 1313,565"/><polygon fill="#46a61e" points="1317,566 1317,567 1318,567 1318,568 1319,568 1319,569 1319,569 1319,570 1319,570 1319,571 1319,571 1319,572 1318,572 1318,573 1317,573 1317,574 1313,574 1313,573 1312,573 1312,572 1311,572 1311,571 1311,571 1311,570 1311,570 1311,569 1311,569 1311,568 1312,568 1312,567 1313,567 1313,566"/></g>
<rect x="87" y="590" width="1242" height="47" fill="#d9d9d9"/>
<g font-size="23.5" fill="#1a1a1a"><text x="651.81" y="624.20">202</text><path shape-rendering="geometricPrecision" transform="translate(691.62,624.20) scale(0.01147,-0.01123)" d="M763,0L583,0L583,1147Q518,1085 412,1023Q306,961 222,930L222,1104Q373,1175 486,1276Q599,1377 646,1472L763,1472Z"/><text x="704.09" y="624.20">-2022</text></g>
<rect x="87" y="761" width="1242" height="2" fill="#cccccc"/>
<rect x="79" y="761" width="8" height="2" fill="#333333"/>
<g font-size="23.5" fill="#4d4d4d"><text x="59.43" y="771.60">0</text></g>
<rect x="87" y="734" width="1242" height="2" fill="#cccccc"/>
<rect x="79" y="734" width="8" height="2" fill="#333333"/>
<g font-size="23.5" fill="#4d4d4d"><path shape-rendering="geometricPrecision" transform="translate(46.96,745.10) scale(0.01147,-0.01123)" d="M763,0L583,0L583,1147Q518,1085 412,1023Q306,961 222,930L222,1104Q373,1175 486,1276Q599,1377 646,1472L763,1472Z"/><text x="59.43" y="745.10">0</text></g>
<rect x="87" y="708" width="1242" height="2" fill="#cccccc"/>
<rect x="79" y="708" width="8" height="2" fill="#333333"/>
<g font-size="23.5" fill="#4d4d4d"><text x="46.36" y="718.60">20</text></g>
<rect x="87" y="681" width="1242" height="2" fill="#cccccc"/>
<rect x="79" y="681" width="8" height="2" fill="#333333"/>
<g font-size="23.5" fill="#4d4d4d"><text x="46.36" y="692.10">30</text></g>
<rect x="87" y="655" width="1242" height="2" fill="#cccccc"/>
<rect x="79" y="655" width="8" height="2" fill="#333333"/>
<g font-size="23.5" fill="#4d4d4d"><text x="46.36" y="665.60">40</text></g>
<path d="M125.00,762.00 L125.0,759.9 L148.0,759.9 L172.0,758.3 L196.0,757.0 L220.0,755.6 L244.0,754.6 L267.0,754.6 L291.0,757.0 L315.0,759.4 L339.0,758.3 L363.0,757.0 L386.0,754.6 L410.0,744.0 L434.0,758.3 L458.0,754.6 L482.0,751.9 L505.0,727.0 L529.0,727.0 L553.0,738.9 L577.0,743.2 L601.0,750.9 L624.0,749.5 L648.0,733.9 L672.0,738.1 L696.0,697.1 L720.0,700.8 L743.0,682.8 L767.0,704.5 L791.0,734.4 L815.0,730.2 L839.0,727.8 L862.0,735.8 L886.0,754.0 L910.0,730.7 L934.0,743.7 L958.0,745.8 L981.0,743.2 L1005.0,720.7 L1029.0,664.5 L1053.0,698.1 L1077.0,681.2 L1100.0,714.0 L1124.0,706.9 L1148.0,741.3 L1172.0,731.3 L1196.0,746.6 L1219.0,749.5 L1243.0,754.0 L1267.0,750.1 L1291.0,756.2 L1315.0,750.1 L1315.00,762.00 Z" fill="rgba(65,163,27,0.2)"/>
<path d="M125,762 L148,762 L196,762 L267,762 L291,762 L315,762 L363,762 L386,762 L410,762 L434,762 L458,762 L482,762 L505,762 L529,762 L553,762 L577,762 L601,762 L624,762 L648,762 L672,762 L696,762 L720,762 L743,762 L767,762 L791,762 L815,762 L839,762 L862,762 L886,762 L910,762 L934,762 L958,762 L981,762 L1005,762 L1029,762 L1053,762 L1077,759 L1100,762 L1124,756 L1148,762 L1172,762 L1196,762 L1219,762 L1243,762 L1267,762 L1291,762 L1315,762" fill="none" stroke="#3a9f0d" stroke-width="2" stroke-linejoin="round"/>
<g fill="#41a31b"><polygon fill="#3a9f0d" points="127,757 127,758 128,758 128,759 129,759 129,760 130,760 130,761 130,761 130,762 130,762 130,763 130,763 130,764 129,764 129,765 128,765 128,766 127,766 127,767 123,767 123,766 122,766 122,765 121,765 121,764 120,764 120,763 120,763 120,762 120,762 120,761 120,761 120,760 121,760 121,759 122,759 122,758 123,758 123,757"/><polygon fill="#46a61e" points="127,758 127,759 128,759 128,760 129,760 129,761 129,761 129,762 129,762 129,763 129,763 129,764 128,764 128,765 127,765 127,766 123,766 123,765 122,765 122,764 121,764 121,763 121,763 121,762 121,762 121,761 121,761 121,760 122,760 122,759 123,759 123,758"/><polygon fill="#3a9f0d" points="150,757 150,758 151,758 151,759 152,759 152,760 153,760 153,761 153,761 153,762 153,762 153,763 153,763 153,764 152,764 152,765 151,765 151,766 150,766 150,767 146,767 146,766 145,766 145,765 144,765 144,764 143,764 143,763 143,763 143,762 143,762 143,761 143,761 143,760 144,760 144,759 145,759 145,758 146,758 146,757"/><polygon fill="#46a61e" points="150,758 150,759 151,759 151,760 152,760 152,761 152,761 152,762 152,762 152,763 152,763 152,764 151,764 151,765 150,765 150,766 146,766 146,765 145,765 145,764 144,764 144,763 144,763 144,762 144,762 144,761 144,761 144,760 145,760 145,759 146,759 146,758"/><polygon fill="#3a9f0d" points="198,757 198,758 199,758 199,759 200,759 200,760 201,760 201,761 201,761 201,762 201,762 201,763 201,763 201,764 200,764 200,765 199,765 199,766 198,766 198,767 194,767 194,766 193,766 193,765 192,765 192,764 191,764 191,763 191,763 191,762 191,762 191,761 191,761 191,760 192,760 192,759 193,759 193,758 194,758 194,757"/><polygon fill="#46a61e" points="198,758 198,759 199,759 199,760 200,760 200,761 200,761 200,762 200,762 200,763 200,763 200,764 199,764 199,765 198,765 198,766 194,766 194,765 193,765 193,764 192,764 192,763 192,763 192,762 192,762 192,761 192,761 192,760 193,760 193,759 194,759 194,758"/><polygon fill="#3a9f0d" points="269,757 269,758 270,758 270,759 271,759 271,760 272,760 272,761 272,761 272,762 272,762 272,763 272,763 272,764 271,764 271,765 270,765 270,766 269,766 269,767 265,767 265,766 264,766 264,765 263,765 263,764 262,764 262,763 262,763 262,762 262,762 262,761 262,761 262,760 263,760 263,759 264,759 264,758 265,758 265,757"/><polygon fill="#46a61e" points="269,758 269,759 270,759 270,760 271,760 271,761 271,761 271,762 271,762 271,763 271,763 271,764 270,764 270,765 269,765 269,766 265,766 265,765 264,765 264,764 263,764 263,763 263,763 263,762 263,762 263,761 263,761 263,760 264,760 264,759 265,759 265,758"/><polygon fill="#3a9f0d" points="293,757 293,758 294,758 294,759 295,759 295,760 296,760 296,761 296,761 296,762 296,762 296,763 296,763 296,764 295,764 295,765 294,765 294,766 293,766 293,767 289,767 289,766 288,766 288,765 287,765 287,764 286,764 286,763 286,763 286,762 286,762 286,761 286,761 286,760 287,760 287,759 288,759 288,758 289,758 289,757"/><polygon fill="#46a61e" points="293,758 293,759 294,759 294,760 295,760 295,761 295,761 295,762 295,762 295,763 295,763 295,764 294,764 294,765 293,765 293,766 289,766 289,765 288,765 288,764 287,764 287,763 287,763 287,762 287,762 287,761 287,761 287,760 288,760 288,759 289,759 289,758"/><polygon fill="#3a9f0d" points="317,757 317,758 318,758 318,759 319,759 319,760 320,760 320,761 320,761 320,762 320,762 320,763 320,763 320,764 319,764 319,765 318,765 318,766 317,766 317,767 313,767 313,766 312,766 312,765 311,765 311,764 310,764 310,763 310,763 310,762 310,762 310,761 310,761 310,760 311,760 311,759 312,759 312,758 313,758 313,757"/><polygon fill="#46a61e" points="317,758 317,759 318,759 318,760 319,760 319,761 319,761 319,762 319,762 319,763 319,763 319,764 318,764 318,765 317,765 317,766 313,766 313,765 312,765 312,764 311,764 311,763 311,763 311,762 311,762 311,761 311,761 311,760 312,760 312,759 313,759 313,758"/><polygon fill="#3a9f0d" points="365,757 365,758 366,758 366,759 367,759 367,760 368,760 368,761 368,761 368,762 368,762 368,763 368,763 368,764 367,764 367,765 366,765 366,766 365,766 365,767 361,767 361,766 360,766 360,765 359,765 359,764 358,764 358,763 358,763 358,762 358,762 358,761 358,761 358,760 359,760 359,759 360,759 360,758 361,758 361,757"/><polygon fill="#46a61e" points="365,758 365,759 366,759 366,760 367,760 367,761 367,761 367,762 367,762 367,763 367,763 367,764 366,764 366,765 365,765 365,766 361,766 361,765 360,765 360,764 359,764 359,763 359,763 359,762 359,762 359,761 359,761 359,760 360,760 360,759 361,759 361,758"/><polygon fill="#3a9f0d" points="388,757 388,758 389,758 389,759 390,759 390,760 391,760 391,761 391,761 391,762 391,762 391,763 391,763 391,764 390,764 390,765 389,765 389,766 388,766 388,767 384,767 384,766 383,766 383,765 382,765 382,764 381,764 381,763 381,763 381,762 381,762 381,761 381,761 381,760 382,760 382,759 383,759 383,758 384,758 384,757"/><polygon fill="#46a61e" points="388,758 388,759 389,759 389,760 390,760 390,761 390,761 390,762 390,762 390,763 390,763 390,764 389,764 389,765 388,765 388,766 384,766 384,765 383,765 383,764 382,764 382,763 382,763 382,762 382,762 382,761 382,761 382,760 383,760 383,759 384,759 384,758"/><polygon fill="#3a9f0d" points="412,757 412,758 413,758 413,759 414,759 414,760 415,760 415,761 415,761 415,762 415,762 415,763 415,763 415,764 414,764 414,765 413,765 413,766 412,766 412,767 408,767 408,766 407,766 407,765 406,765 406,764 405,764 405,763 405,763 405,762 405,762 405,761 405,761 405,760 406,760 406,759 407,759 407,758 408,758 408,757"/><polygon fill="#46a61e" points="412,758 412,759 413,759 413,760 414,760 414,761 414,761 414,762 414,762 414,763 414,763 414,764 413,764 413,765 412,765 412,766 408,766 408,765 407,765 407,764 406,764 406,763 406,763 406,762 406,762 406,761 406,761 406,760 407,760 407,759 408,759 408,758"/><polygon fill="#3a9f0d" points="436,757 436,758 437,758 437,759 438,759 438,760 439,760 439,761 439,761 439,762 439,762 439,763 439,763 439,764 438,764 438,765 437,765 437,766 436,766 436,767 432,767 432,766 431,766 431,765 430,765 430,764 429,764 429,763 429,763 429,762 429,762 429,761 429,761 429,760 430,760 430,759 431,759 431,758 432,758 432,757"/><polygon fill="#46a61e" points="436,758 436,759 437,759 437,760 438,760 438,761 438,761 438,762 438,762 438,763 438,763 438,764 437,764 437,765 436,765 436,766 432,766 432,765 431,765 431,764 430,764 430,763 430,763 430,762 430,762 430,761 430,761 430,760 431,760 431,759 432,759 432,758"/><polygon fill="#3a9f0d" points="460,757 460,758 461,758 461,759 462,759 462,760 463,760 463,761 463,761 463,762 463,762 463,763 463,763 463,764 462,764 462,765 461,765 461,766 460,766 460,767 456,767 456,766 455,766 455,765 454,765 454,764 453,764 453,763 453,763 453,762 453,762 453,761 453,761 453,760 454,760 454,759 455,759 455,758 456,758 456,757"/><polygon fill="#46a61e" points="460,758 460,759 461,759 461,760 462,760 462,761 462,761 462,762 462,762 462,763 462,763 462,764 461,764 461,765 460,765 460,766 456,766 456,765 455,765 455,764 454,764 454,763 454,763 454,762 454,762 454,761 454,761 454,760 455,760 455,759 456,759 456,758"/><polygon fill="#3a9f0d" points="484,757 484,758 485,758 485,759 486,759 486,760 487,760 487,761 487,761 487,762 487,762 487,763 487,763 487,764 486,764 486,765 485,765 485,766 484,766 484,767 480,767 480,766 479,766 479,765 478,765 478,764 477,764 477,763 477,763 477,762 477,762 477,761 477,761 477,760 478,760 478,759 479,759 479,758 480,758 480,757"/><polygon fill="#46a61e" points="484,758 484,759 485,759 485,760 486,760 486,761 486,761 486,762 486,762 486,763 486,763 486,764 485,764 485,765 484,765 484,766 480,766 480,765 479,765 479,764 478,764 478,763 478,763 478,762 478,762 478,761 478,761 478,760 479,760 479,759 480,759 480,758"/><polygon fill="#3a9f0d" points="507,757 507,758 508,758 508,759 509,759 509,760 510,760 510,761 510,761 510,762 510,762 510,763 510,763 510,764 509,764 509,765 508,765 508,766 507,766 507,767 503,767 503,766 502,766 502,765 501,765 501,764 500,764 500,763 500,763 500,762 500,762 500,761 500,761 500,760 501,760 501,759 502,759 502,758 503,758 503,757"/><polygon fill="#46a61e" points="507,758 507,759 508,759 508,760 509,760 509,761 509,761 509,762 509,762 509,763 509,763 509,764 508,764 508,765 507,765 507,766 503,766 503,765 502,765 502,764 501,764 501,763 501,763 501,762 501,762 501,761 501,761 501,760 502,760 502,759 503,759 503,758"/><polygon fill="#3a9f0d" points="531,757 531,758 532,758 532,759 533,759 533,760 534,760 534,761 534,761 534,762 534,762 534,763 534,763 534,764 533,764 533,765 532,765 532,766 531,766 531,767 527,767 527,766 526,766 526,765 525,765 525,764 524,764 524,763 524,763 524,762 524,762 524,761 524,761 524,760 525,760 525,759 526,759 526,758 527,758 527,757"/><polygon fill="#46a61e" points="531,758 531,759 532,759 532,760 533,760 533,761 533,761 533,762 533,762 533,763 533,763 533,764 532,764 532,765 531,765 531,766 527,766 527,765 526,765 526,764 525,764 525,763 525,763 525,762 525,762 525,761 525,761 525,760 526,760 526,759 527,759 527,758"/><polygon fill="#3a9f0d" points="555,757 555,758 556,758 556,759 557,759 557,760 558,760 558,761 558,761 558,762 558,762 558,763 558,763 558,764 557,764 557,765 556,765 556,766 555,766 555,767 551,767 551,766 550,766 550,765 549,765 549,764 548,764 548,763 548,763 548,762 548,762 548,761 548,761 548,760 549,760 549,759 550,759 550,758 551,758 551,757"/><polygon fill="#46a61e" points="555,758 555,759 556,759 556,760 557,760 557,761 557,761 557,762 557,762 557,763 557,763 557,764 556,764 556,765 555,765 555,766 551,766 551,765 550,765 550,764 549,764 549,763 549,763 549,762 549,762 549,761 549,761 549,760 550,760 550,759 551,759 551,758"/><polygon fill="#3a9f0d" points="579,757 579,758 580,758 580,759 581,759 581,760 582,760 582,761 582,761 582,762 582,762 582,763 582,763 582,764 581,764 581,765 580,765 580,766 579,766 579,767 575,767 575,766 574,766 574,765 573,765 573,764 572,764 572,763 572,763 572,762 572,762 572,761 572,761 572,760 573,760 573,759 574,759 574,758 575,758 575,757"/><polygon fill="#46a61e" points="579,758 579,759 580,759 580,760 581,760 581,761 581,761 581,762 581,762 581,763 581,763 581,764 580,764 580,765 579,765 579,766 575,766 575,765 574,765 574,764 573,764 573,763 573,763 573,762 573,762 573,761 573,761 573,760 574,760 574,759 575,759 575,758"/><polygon fill="#3a9f0d" points="603,757 603,758 604,758 604,759 605,759 605,760 606,760 606,761 606,761 606,762 606,762 606,763 606,763 606,764 605,764 605,765 604,765 604,766 603,766 603,767 599,767 599,766 598,766 598,765 597,765 597,764 596,764 596,763 596,763 596,762 596,762 596,761 596,761 596,760 597,760 597,759 598,759 598,758 599,758 599,757"/><polygon fill="#46a61e" points="603,758 603,759 604,759 604,760 605,760 605,761 605,761 605,762 605,762 605,763 605,763 605,764 604,764 604,765 603,765 603,766 599,766 599,765 598,765 598,764 597,764 597,763 597,763 597,762 597,762 597,761 597,761 597,760 598,760 598,759 599,759 599,758"/><polygon fill="#3a9f0d" points="626,757 626,758 627,758 627,759 628,759 628,760 629,760 629,761 629,761 629,762 629,762 629,763 629,763 629,764 628,764 628,765 627,765 627,766 626,766 626,767 622,767 622,766 621,766 621,765 620,765 620,764 619,764 619,763 619,763 619,762 619,762 619,761 619,761 619,760 620,760 620,759 621,759 621,758 622,758 622,757"/><polygon fill="#46a61e" points="626,758 626,759 627,759 627,760 628,760 628,761 628,761 628,762 628,762 628,763 628,763 628,764 627,764 627,765 626,765 626,766 622,766 622,765 621,765 621,764 620,764 620,763 620,763 620,762 620,762 620,761 620,761 620,760 621,760 621,759 622,759 622,758"/><polygon fill="#3a9f0d" points="650,757 650,758 651,758 651,759 652,759 652,760 653,760 653,761 653,761 653,762 653,762 653,763 653,763 653,764 652,764 652,765 651,765 651,766 650,766 650,767 646,767 646,766 645,766 645,765 644,765 644,764 643,764 643,763 643,763 643,762 643,762 643,761 643,761 643,760 644,760 644,759 645,759 645,758 646,758 646,757"/><polygon fill="#46a61e" points="650,758 650,759 651,759 651,760 652,760 652,761 652,761 652,762 652,762 652,763 652,763 652,764 651,764 651,765 650,765 650,766 646,766 646,765 645,765 645,764 644,764 644,763 644,763 644,762 644,762 644,761 644,761 644,760 645,760 645,759 646,759 646,758"/><polygon fill="#3a9f0d" points="674,757 674,758 675,758 675,759 676,759 676,760 677,760 677,761 677,761 677,762 677,762 677,763 677,763 677,764 676,764 676,765 675,765 675,766 674,766 674,767 670,767 670,766 669,766 669,765 668,765 668,764 667,764 667,763 667,763 667,762 667,762 667,761 667,761 667,760 668,760 668,759 669,759 669,758 670,758 670,757"/><polygon fill="#46a61e" points="674,758 674,759 675,759 675,760 676,760 676,761 676,761 676,762 676,762 676,763 676,763 676,764 675,764 675,765 674,765 674,766 670,766 670,765 669,765 669,764 668,764 668,763 668,763 668,762 668,762 668,761 668,761 668,760 669,760 669,759 670,759 670,758"/><polygon fill="#3a9f0d" points="698,757 698,758 699,758 699,759 700,759 700,760 701,760 701,761 701,761 701,762 701,762 701,763 701,763 701,764 700,764 700,765 699,765 699,766 698,766 698,767 694,767 694,766 693,766 693,765 692,765 692,764 691,764 691,763 691,763 691,762 691,762 691,761 691,761 691,760 692,760 692,759 693,759 693,758 694,758 694,757"/><polygon fill="#46a61e" points="698,758 698,759 699,759 699,760 700,760 700,761 700,761 700,762 700,762 700,763 700,763 700,764 699,764 699,765 698,765 698,766 694,766 694,765 693,765 693,764 692,764 692,763 692,763 692,762 692,762 692,761 692,761 692,760 693,760 693,759 694,759 694,758"/><polygon fill="#3a9f0d" points="722,757 722,758 723,758 723,759 724,759 724,760 725,760 725,761 725,761 725,762 725,762 725,763 725,763 725,764 724,764 724,765 723,765 723,766 722,766 722,767 718,767 718,766 717,766 717,765 716,765 716,764 715,764 715,763 715,763 715,762 715,762 715,761 715,761 715,760 716,760 716,759 717,759 717,758 718,758 718,757"/><polygon fill="#46a61e" points="722,758 722,759 723,759 723,760 724,760 724,761 724,761 724,762 724,762 724,763 724,763 724,764 723,764 723,765 722,765 722,766 718,766 718,765 717,765 717,764 716,764 716,763 716,763 716,762 716,762 716,761 716,761 716,760 717,760 717,759 718,759 718,758"/><polygon fill="#3a9f0d" points="745,757 745,758 746,758 746,759 747,759 747,760 748,760 748,761 748,761 748,762 748,762 748,763 748,763 748,764 747,764 747,765 746,765 746,766 745,766 745,767 741,767 741,766 740,766 740,765 739,765 739,764 738,764 738,763 738,763 738,762 738,762 738,761 738,761 738,760 739,760 739,759 740,759 740,758 741,758 741,757"/><polygon fill="#46a61e" points="745,758 745,759 746,759 746,760 747,760 747,761 747,761 747,762 747,762 747,763 747,763 747,764 746,764 746,765 745,765 745,766 741,766 741,765 740,765 740,764 739,764 739,763 739,763 739,762 739,762 739,761 739,761 739,760 740,760 740,759 741,759 741,758"/><polygon fill="#3a9f0d" points="769,757 769,758 770,758 770,759 771,759 771,760 772,760 772,761 772,761 772,762 772,762 772,763 772,763 772,764 771,764 771,765 770,765 770,766 769,766 769,767 765,767 765,766 764,766 764,765 763,765 763,764 762,764 762,763 762,763 762,762 762,762 762,761 762,761 762,760 763,760 763,759 764,759 764,758 765,758 765,757"/><polygon fill="#46a61e" points="769,758 769,759 770,759 770,760 771,760 771,761 771,761 771,762 771,762 771,763 771,763 771,764 770,764 770,765 769,765 769,766 765,766 765,765 764,765 764,764 763,764 763,763 763,763 763,762 763,762 763,761 763,761 763,760 764,760 764,759 765,759 765,758"/><polygon fill="#3a9f0d" points="793,757 793,758 794,758 794,759 795,759 795,760 796,760 796,761 796,761 796,762 796,762 796,763 796,763 796,764 795,764 795,765 794,765 794,766 793,766 793,767 789,767 789,766 788,766 788,765 787,765 787,764 786,764 786,763 786,763 786,762 786,762 786,761 786,761 786,760 787,760 787,759 788,759 788,758 789,758 789,757"/><polygon fill="#46a61e" points="793,758 793,759 794,759 794,760 795,760 795,761 795,761 795,762 795,762 795,763 795,763 795,764 794,764 794,765 793,765 793,766 789,766 789,765 788,765 788,764 787,764 787,763 787,763 787,762 787,762 787,761 787,761 787,760 788,760 788,759 789,759 789,758"/><polygon fill="#3a9f0d" points="817,757 817,758 818,758 818,759 819,759 819,760 820,760 820,761 820,761 820,762 820,762 820,763 820,763 820,764 819,764 819,765 818,765 818,766 817,766 817,767 813,767 813,766 812,766 812,765 811,765 811,764 810,764 810,763 810,763 810,762 810,762 810,761 810,761 810,760 811,760 811,759 812,759 812,758 813,758 813,757"/><polygon fill="#46a61e" points="817,758 817,759 818,759 818,760 819,760 819,761 819,761 819,762 819,762 819,763 819,763 819,764 818,764 818,765 817,765 817,766 813,766 813,765 812,765 812,764 811,764 811,763 811,763 811,762 811,762 811,761 811,761 811,760 812,760 812,759 813,759 813,758"/><polygon fill="#3a9f0d" points="841,757 841,758 842,758 842,759 843,759 843,760 844,760 844,761 844,761 844,762 844,762 844,763 844,763 844,764 843,764 843,765 842,765 842,766 841,766 841,767 837,767 837,766 836,766 836,765 835,765 835,764 834,764 834,763 834,763 834,762 834,762 834,761 834,761 834,760 835,760 835,759 836,759 836,758 837,758 837,757"/><polygon fill="#46a61e" points="841,758 841,759 842,759 842,760 843,760 843,761 843,761 843,762 843,762 843,763 843,763 843,764 842,764 842,765 841,765 841,766 837,766 837,765 836,765 836,764 835,764 835,763 835,763 835,762 835,762 835,761 835,761 835,760 836,760 836,759 837,759 837,758"/><polygon fill="#3a9f0d" points="864,757 864,758 865,758 865,759 866,759 866,760 867,760 867,761 867,761 867,762 867,762 867,763 867,763 867,764 866,764 866,765 865,765 865,766 864,766 864,767 860,767 860,766 859,766 859,765 858,765 858,764 857,764 857,763 857,763 857,762 857,762 857,761 857,761 857,760 858,760 858,759 859,759 859,758 860,758 860,757"/><polygon fill="#46a61e" points="864,758 864,759 865,759 865,760 866,760 866,761 866,761 866,762 866,762 866,763 866,763 866,764 865,764 865,765 864,765 864,766 860,766 860,765 859,765 859,764 858,764 858,763 858,763 858,762 858,762 858,761 858,761 858,760 859,760 859,759 860,759 860,758"/><polygon fill="#3a9f0d" points="888,757 888,758 889,758 889,759 890,759 890,760 891,760 891,761 891,761 891,762 891,762 891,763 891,763 891,764 890,764 890,765 889,765 889,766 888,766 888,767 884,767 884,766 883,766 883,765 882,765 882,764 881,764 881,763 881,763 881,762 881,762 881,761 881,761 881,760 882,760 882,759 883,759 883,758 884,758 884,757"/><polygon fill="#46a61e" points="888,758 888,759 889,759 889,760 890,760 890,761 890,761 890,762 890,762 890,763 890,763 890,764 889,764 889,765 888,765 888,766 884,766 884,765 883,765 883,764 882,764 882,763 882,763 882,762 882,762 882,761 882,761 882,760 883,760 883,759 884,759 884,758"/><polygon fill="#3a9f0d" points="912,757 912,758 913,758 913,759 914,759 914,760 915,760 915,761 915,761 915,762 915,762 915,763 915,763 915,764 914,764 914,765 913,765 913,766 912,766 912,767 908,767 908,766 907,766 907,765 906,765 906,764 905,764 905,763 905,763 905,762 905,762 905,761 905,761 905,760 906,760 906,759 907,759 907,758 908,758 908,757"/><polygon fill="#46a61e" points="912,758 912,759 913,759 913,760 914,760 914,761 914,761 914,762 914,762 914,763 914,763 914,764 913,764 913,765 912,765 912,766 908,766 908,765 907,765 907,764 906,764 906,763 906,763 906,762 906,762 906,761 906,761 906,760 907,760 907,759 908,759 908,758"/><polygon fill="#3a9f0d" points="936,757 936,758 937,758 937,759 938,759 938,760 939,760 939,761 939,761 939,762 939,762 939,763 939,763 939,764 938,764 938,765 937,765 937,766 936,766 936,767 932,767 932,766 931,766 931,765 930,765 930,764 929,764 929,763 929,763 929,762 929,762 929,761 929,761 929,760 930,760 930,759 931,759 931,758 932,758 932,757"/><polygon fill="#46a61e" points="936,758 936,759 937,759 937,760 938,760 938,761 938,761 938,762 938,762 938,763 938,763 938,764 937,764 937,765 936,765 936,766 932,766 932,765 931,765 931,764 930,764 930,763 930,763 930,762 930,762 930,761 930,761 930,760 931,760 931,759 932,759 932,758"/><polygon fill="#3a9f0d" points="960,757 960,758 961,758 961,759 962,759 962,760 963,760 963,761 963,761 963,762 963,762 963,763 963,763 963,764 962,764 962,765 961,765 961,766 960,766 960,767 956,767 956,766 955,766 955,765 954,765 954,764 953,764 953,763 953,763 953,762 953,762 953,761 953,761 953,760 954,760 954,759 955,759 955,758 956,758 956,757"/><polygon fill="#46a61e" points="960,758 960,759 961,759 961,760 962,760 962,761 962,761 962,762 962,762 962,763 962,763 962,764 961,764 961,765 960,765 960,766 956,766 956,765 955,765 955,764 954,764 954,763 954,763 954,762 954,762 954,761 954,761 954,760 955,760 955,759 956,759 956,758"/><polygon fill="#3a9f0d" points="983,757 983,758 984,758 984,759 985,759 985,760 986,760 986,761 986,761 986,762 986,762 986,763 986,763 986,764 985,764 985,765 984,765 984,766 983,766 983,767 979,767 979,766 978,766 978,765 977,765 977,764 976,764 976,763 976,763 976,762 976,762 976,761 976,761 976,760 977,760 977,759 978,759 978,758 979,758 979,757"/><polygon fill="#46a61e" points="983,758 983,759 984,759 984,760 985,760 985,761 985,761 985,762 985,762 985,763 985,763 985,764 984,764 984,765 983,765 983,766 979,766 979,765 978,765 978,764 977,764 977,763 977,763 977,762 977,762 977,761 977,761 977,760 978,760 978,759 979,759 979,758"/><polygon fill="#3a9f0d" points="1007,757 1007,758 1008,758 1008,759 1009,759 1009,760 1010,760 1010,761 1010,761 1010,762 1010,762 1010,763 1010,763 1010,764 1009,764 1009,765 1008,765 1008,766 1007,766 1007,767 1003,767 1003,766 1002,766 1002,765 1001,765 1001,764 1000,764 1000,763 1000,763 1000,762 1000,762 1000,761 1000,761 1000,760 1001,760 1001,759 1002,759 1002,758 1003,758 1003,757"/><polygon fill="#46a61e" points="1007,758 1007,759 1008,759 1008,760 1009,760 1009,761 1009,761 1009,762 1009,762 1009,763 1009,763 1009,764 1008,764 1008,765 1007,765 1007,766 1003,766 1003,765 1002,765 1002,764 1001,764 1001,763 1001,763 1001,762 1001,762 1001,761 1001,761 1001,760 1002,760 1002,759 1003,759 1003,758"/><polygon fill="#3a9f0d" points="1031,757 1031,758 1032,758 1032,759 1033,759 1033,760 1034,760 1034,761 1034,761 1034,762 1034,762 1034,763 1034,763 1034,764 1033,764 1033,765 1032,765 1032,766 1031,766 1031,767 1027,767 1027,766 1026,766 1026,765 1025,765 1025,764 1024,764 1024,763 1024,763 1024,762 1024,762 1024,761 1024,761 1024,760 1025,760 1025,759 1026,759 1026,758 1027,758 1027,757"/><polygon fill="#46a61e" points="1031,758 1031,759 1032,759 1032,760 1033,760 1033,761 1033,761 1033,762 1033,762 1033,763 1033,763 1033,764 1032,764 1032,765 1031,765 1031,766 1027,766 1027,765 1026,765 1026,764 1025,764 1025,763 1025,763 1025,762 1025,762 1025,761 1025,761 1025,760 1026,760 1026,759 1027,759 1027,758"/><polygon fill="#3a9f0d" points="1055,757 1055,758 1056,758 1056,759 1057,759 1057,760 1058,760 1058,761 1058,761 1058,762 1058,762 1058,763 1058,763 1058,764 1057,764 1057,765 1056,765 1056,766 1055,766 1055,767 1051,767 1051,766 1050,766 1050,765 1049,765 1049,764 1048,764 1048,763 1048,763 1048,762 1048,762 1048,761 1048,761 1048,760 1049,760 1049,759 1050,759 1050,758 1051,758 1051,757"/><polygon fill="#46a61e" points="1055,758 1055,759 1056,759 1056,760 1057,760 1057,761 1057,761 1057,762 1057,762 1057,763 1057,763 1057,764 1056,764 1056,765 1055,765 1055,766 1051,766 1051,765 1050,765 1050,764 1049,764 1049,763 1049,763 1049,762 1049,762 1049,761 1049,761 1049,760 1050,760 1050,759 1051,759 1051,758"/><polygon fill="#3a9f0d" points="1079,754 1079,755 1080,755 1080,756 1081,756 1081,757 1082,757 1082,758 1082,758 1082,759 1082,759 1082,760 1082,760 1082,761 1081,761 1081,762 1080,762 1080,763 1079,763 1079,764 1075,764 1075,763 1074,763 1074,762 1073,762 1073,761 1072,761 1072,760 1072,760 1072,759 1072,759 1072,758 1072,758 1072,757 1073,757 1073,756 1074,756 1074,755 1075,755 1075,754"/><polygon fill="#46a61e" points="1079,755 1079,756 1080,756 1080,757 1081,757 1081,758 1081,758 1081,759 1081,759 1081,760 1081,760 1081,761 1080,761 1080,762 1079,762 1079,763 1075,763 1075,762 1074,762 1074,761 1073,761 1073,760 1073,760 1073,759 1073,759 1073,758 1073,758 1073,757 1074,757 1074,756 1075,756 1075,755"/><polygon fill="#3a9f0d" points="1102,757 1102,758 1103,758 1103,759 1104,759 1104,760 1105,760 1105,761 1105,761 1105,762 1105,762 1105,763 1105,763 1105,764 1104,764 1104,765 1103,765 1103,766 1102,766 1102,767 1098,767 1098,766 1097,766 1097,765 1096,765 1096,764 1095,764 1095,763 1095,763 1095,762 1095,762 1095,761 1095,761 1095,760 1096,760 1096,759 1097,759 1097,758 1098,758 1098,757"/><polygon fill="#46a61e" points="1102,758 1102,759 1103,759 1103,760 1104,760 1104,761 1104,761 1104,762 1104,762 1104,763 1104,763 1104,764 1103,764 1103,765 1102,765 1102,766 1098,766 1098,765 1097,765 1097,764 1096,764 1096,763 1096,763 1096,762 1096,762 1096,761 1096,761 1096,760 1097,760 1097,759 1098,759 1098,758"/><polygon fill="#3a9f0d" points="1126,751 1126,752 1127,752 1127,753 1128,753 1128,754 1129,754 1129,755 1129,755 1129,756 1129,756 1129,757 1129,757 1129,758 1128,758 1128,759 1127,759 1127,760 1126,760 1126,761 1122,761 1122,760 1121,760 1121,759 1120,759 1120,758 1119,758 1119,757 1119,757 1119,756 1119,756 1119,755 1119,755 1119,754 1120,754 1120,753 1121,753 1121,752 1122,752 1122,751"/><polygon fill="#46a61e" points="1126,752 1126,753 1127,753 1127,754 1128,754 1128,755 1128,755 1128,756 1128,756 1128,757 1128,757 1128,758 1127,758 1127,759 1126,759 1126,760 1122,760 1122,759 1121,759 1121,758 1120,758 1120,757 1120,757 1120,756 1120,756 1120,755 1120,755 1120,754 1121,754 1121,753 1122,753 1122,752"/><polygon fill="#3a9f0d" points="1150,757 1150,758 1151,758 1151,759 1152,759 1152,760 1153,760 1153,761 1153,761 1153,762 1153,762 1153,763 1153,763 1153,764 1152,764 1152,765 1151,765 1151,766 1150,766 1150,767 1146,767 1146,766 1145,766 1145,765 1144,765 1144,764 1143,764 1143,763 1143,763 1143,762 1143,762 1143,761 1143,761 1143,760 1144,760 1144,759 1145,759 1145,758 1146,758 1146,757"/><polygon fill="#46a61e" points="1150,758 1150,759 1151,759 1151,760 1152,760 1152,761 1152,761 1152,762 1152,762 1152,763 1152,763 1152,764 1151,764 1151,765 1150,765 1150,766 1146,766 1146,765 1145,765 1145,764 1144,764 1144,763 1144,763 1144,762 1144,762 1144,761 1144,761 1144,760 1145,760 1145,759 1146,759 1146,758"/><polygon fill="#3a9f0d" points="1174,757 1174,758 1175,758 1175,759 1176,759 1176,760 1177,760 1177,761 1177,761 1177,762 1177,762 1177,763 1177,763 1177,764 1176,764 1176,765 1175,765 1175,766 1174,766 1174,767 1170,767 1170,766 1169,766 1169,765 1168,765 1168,764 1167,764 1167,763 1167,763 1167,762 1167,762 1167,761 1167,761 1167,760 1168,760 1168,759 1169,759 1169,758 1170,758 1170,757"/><polygon fill="#46a61e" points="1174,758 1174,759 1175,759 1175,760 1176,760 1176,761 1176,761 1176,762 1176,762 1176,763 1176,763 1176,764 1175,764 1175,765 1174,765 1174,766 1170,766 1170,765 1169,765 1169,764 1168,764 1168,763 1168,763 1168,762 1168,762 1168,761 1168,761 1168,760 1169,760 1169,759 1170,759 1170,758"/><polygon fill="#3a9f0d" points="1198,757 1198,758 1199,758 1199,759 1200,759 1200,760 1201,760 1201,761 1201,761 1201,762 1201,762 1201,763 1201,763 1201,764 1200,764 1200,765 1199,765 1199,766 1198,766 1198,767 1194,767 1194,766 1193,766 1193,765 1192,765 1192,764 1191,764 1191,763 1191,763 1191,762 1191,762 1191,761 1191,761 1191,760 1192,760 1192,759 1193,759 1193,758 1194,758 1194,757"/><polygon fill="#46a61e" points="1198,758 1198,759 1199,759 1199,760 1200,760 1200,761 1200,761 1200,762 1200,762 1200,763 1200,763 1200,764 1199,764 1199,765 1198,765 1198,766 1194,766 1194,765 1193,765 1193,764 1192,764 1192,763 1192,763 1192,762 1192,762 1192,761 1192,761 1192,760 1193,760 1193,759 1194,759 1194,758"/><polygon fill="#3a9f0d" points="1221,757 1221,758 1222,758 1222,759 1223,759 1223,760 1224,760 1224,761 1224,761 1224,762 1224,762 1224,763 1224,763 1224,764 1223,764 1223,765 1222,765 1222,766 1221,766 1221,767 1217,767 1217,766 1216,766 1216,765 1215,765 1215,764 1214,764 1214,763 1214,763 1214,762 1214,762 1214,761 1214,761 1214,760 1215,760 1215,759 1216,759 1216,758 1217,758 1217,757"/><polygon fill="#46a61e" points="1221,758 1221,759 1222,759 1222,760 1223,760 1223,761 1223,761 1223,762 1223,762 1223,763 1223,763 1223,764 1222,764 1222,765 1221,765 1221,766 1217,766 1217,765 1216,765 1216,764 1215,764 1215,763 1215,763 1215,762 1215,762 1215,761 1215,761 1215,760 1216,760 1216,759 1217,759 1217,758"/><polygon fill="#3a9f0d" points="1245,757 1245,758 1246,758 1246,759 1247,759 1247,760 1248,760 1248,761 1248,761 1248,762 1248,762 1248,763 1248,763 1248,764 1247,764 1247,765 1246,765 1246,766 1245,766 1245,767 1241,767 1241,766 1240,766 1240,765 1239,765 1239,764 1238,764 1238,763 1238,763 1238,762 1238,762 1238,761 1238,761 1238,760 1239,760 1239,759 1240,759 1240,758 1241,758 1241,757"/><polygon fill="#46a61e" points="1245,758 1245,759 1246,759 1246,760 1247,760 1247,761 1247,761 1247,762 1247,762 1247,763 1247,763 1247,764 1246,764 1246,765 1245,765 1245,766 1241,766 1241,765 1240,765 1240,764 1239,764 1239,763 1239,763 1239,762 1239,762 1239,761 1239,761 1239,760 1240,760 1240,759 1241,759 1241,758"/><polygon fill="#3a9f0d" points="1269,757 1269,758 1270,758 1270,759 1271,759 1271,760 1272,760 1272,761 1272,761 1272,762 1272,762 1272,763 1272,763 1272,764 1271,764 1271,765 1270,765 1270,766 1269,766 1269,767 1265,767 1265,766 1264,766 1264,765 1263,765 1263,764 1262,764 1262,763 1262,763 1262,762 1262,762 1262,761 1262,761 1262,760 1263,760 1263,759 1264,759 1264,758 1265,758 1265,757"/><polygon fill="#46a61e" points="1269,758 1269,759 1270,759 1270,760 1271,760 1271,761 1271,761 1271,762 1271,762 1271,763 1271,763 1271,764 1270,764 1270,765 1269,765 1269,766 1265,766 1265,765 1264,765 1264,764 1263,764 1263,763 1263,763 1263,762 1263,762 1263,761 1263,761 1263,760 1264,760 1264,759 1265,759 1265,758"/><polygon fill="#3a9f0d" points="1293,757 1293,758 1294,758 1294,759 1295,759 1295,760 1296,760 1296,761 1296,761 1296,762 1296,762 1296,763 1296,763 1296,764 1295,764 1295,765 1294,765 1294,766 1293,766 1293,767 1289,767 1289,766 1288,766 1288,765 1287,765 1287,764 1286,764 1286,763 1286,763 1286,762 1286,762 1286,761 1286,761 1286,760 1287,760 1287,759 1288,759 1288,758 1289,758 1289,757"/><polygon fill="#46a61e" points="1293,758 1293,759 1294,759 1294,760 1295,760 1295,761 1295,761 1295,762 1295,762 1295,763 1295,763 1295,764 1294,764 1294,765 1293,765 1293,766 1289,766 1289,765 1288,765 1288,764 1287,764 1287,763 1287,763 1287,762 1287,762 1287,761 1287,761 1287,760 1288,760 1288,759 1289,759 1289,758"/><polygon fill="#3a9f0d" points="1317,757 1317,758 1318,758 1318,759 1319,759 1319,760 1320,760 1320,761 1320,761 1320,762 1320,762 1320,763 1320,763 1320,764 1319,764 1319,765 1318,765 1318,766 1317,766 1317,767 1313,767 1313,766 1312,766 1312,765 1311,765 1311,764 1310,764 1310,763 1310,763 1310,762 1310,762 1310,761 1310,761 1310,760 1311,760 1311,759 1312,759 1312,758 1313,758 1313,757"/><polygon fill="#46a61e" points="1317,758 1317,759 1318,759 1318,760 1319,760 1319,761 1319,761 1319,762 1319,762 1319,763 1319,763 1319,764 1318,764 1318,765 1317,765 1317,766 1313,766 1313,765 1312,765 1312,764 1311,764 1311,763 1311,763 1311,762 1311,762 1311,761 1311,761 1311,760 1312,760 1312,759 1313,759 1313,758"/></g>
<rect x="87" y="782" width="1242" height="47" fill="#d9d9d9"/>
<g font-size="23.5" fill="#1a1a1a"><text x="651.81" y="816.20">2022-2023</text></g>
<rect x="87" y="953" width="1242" height="2" fill="#cccccc"/>
<rect x="79" y="953" width="8" height="2" fill="#333333"/>
<g font-size="23.5" fill="#4d4d4d"><text x="59.43" y="963.60">0</text></g>
<rect x="87" y="926" width="1242" height="2" fill="#cccccc"/>
<rect x="79" y="926" width="8" height="2" fill="#333333"/>
<g font-size="23.5" fill="#4d4d4d"><path shape-rendering="geometricPrecision" transform="translate(46.96,937.10) scale(0.01147,-0.01123)" d="M763,0L583,0L583,1147Q518,1085 412,1023Q306,961 222,930L222,1104Q373,1175 486,1276Q599,1377 646,1472L763,1472Z"/><text x="59.43" y="937.10">0</text></g>
<rect x="87" y="900" width="1242" height="2" fill="#cccccc"/>
<rect x="79" y="900" width="8" height="2" fill="#333333"/>
<g font-size="23.5" fill="#4d4d4d"><text x="46.36" y="910.60">20</text></g>
<rect x="87" y="873" width="1242" height="2" fill="#cccccc"/>
<rect x="79" y="873" width="8" height="2" fill="#333333"/>
<g font-size="23.5" fill="#4d4d4d"><text x="46.36" y="884.10">30</text></g>
<rect x="87" y="847" width="1242" height="2" fill="#cccccc"/>
<rect x="79" y="847" width="8" height="2" fill="#333333"/>
<g font-size="23.5" fill="#4d4d4d"><text x="46.36" y="857.60">40</text></g>
<path d="M101.00,954.00 L101.0,949.0 L125.0,947.1 L148.0,930.1 L172.0,927.0 L196.0,916.9 L220.0,912.7 L244.0,925.4 L267.0,894.4 L291.0,920.9 L315.0,932.8 L339.0,926.4 L363.0,926.4 L386.0,904.7 L410.0,911.6 L434.0,912.1 L458.0,907.1 L482.0,925.4 L505.0,912.1 L529.0,905.2 L553.0,919.8 L553.00,954.00 Z" fill="rgba(65,163,27,0.2)"/>
<path d="M101,954 L125,954 L148,954 L172,954 L196,954 L220,954 L244,954 L267,954 L291,954 L315,954 L339,954 L363,954 L386,954 L410,954 L434,951 L458,951 L482,948 L505,954 L529,951 L553,943" fill="none" stroke="#3a9f0d" stroke-width="2" stroke-linejoin="round"/>
<g fill="#41a31b"><polygon fill="#3a9f0d" points="103,949 103,950 104,950 104,951 105,951 105,952 106,952 106,953 106,953 106,954 106,954 106,955 106,955 106,956 105,956 105,957 104,957 104,958 103,958 103,959 99,959 99,958 98,958 98,957 97,957 97,956 96,956 96,955 96,955 96,954 96,954 96,953 96,953 96,952 97,952 97,951 98,951 98,950 99,950 99,949"/><polygon fill="#46a61e" points="103,950 103,951 104,951 104,952 105,952 105,953 105,953 105,954 105,954 105,955 105,955 105,956 104,956 104,957 103,957 103,958 99,958 99,957 98,957 98,956 97,956 97,955 97,955 97,954 97,954 97,953 97,953 97,952 98,952 98,951 99,951 99,950"/><polygon fill="#3a9f0d" points="127,949 127,950 128,950 128,951 129,951 129,952 130,952 130,953 130,953 130,954 130,954 130,955 130,955 130,956 129,956 129,957 128,957 128,958 127,958 127,959 123,959 123,958 122,958 122,957 121,957 121,956 120,956 120,955 120,955 120,954 120,954 120,953 120,953 120,952 121,952 121,951 122,951 122,950 123,950 123,949"/><polygon fill="#46a61e" points="127,950 127,951 128,951 128,952 129,952 129,953 129,953 129,954 129,954 129,955 129,955 129,956 128,956 128,957 127,957 127,958 123,958 123,957 122,957 122,956 121,956 121,955 121,955 121,954 121,954 121,953 121,953 121,952 122,952 122,951 123,951 123,950"/><polygon fill="#3a9f0d" points="150,949 150,950 151,950 151,951 152,951 152,952 153,952 153,953 153,953 153,954 153,954 153,955 153,955 153,956 152,956 152,957 151,957 151,958 150,958 150,959 146,959 146,958 145,958 145,957 144,957 144,956 143,956 143,955 143,955 143,954 143,954 143,953 143,953 143,952 144,952 144,951 145,951 145,950 146,950 146,949"/><polygon fill="#46a61e" points="150,950 150,951 151,951 151,952 152,952 152,953 152,953 152,954 152,954 152,955 152,955 152,956 151,956 151,957 150,957 150,958 146,958 146,957 145,957 145,956 144,956 144,955 144,955 144,954 144,954 144,953 144,953 144,952 145,952 145,951 146,951 146,950"/><polygon fill="#3a9f0d" points="174,949 174,950 175,950 175,951 176,951 176,952 177,952 177,953 177,953 177,954 177,954 177,955 177,955 177,956 176,956 176,957 175,957 175,958 174,958 174,959 170,959 170,958 169,958 169,957 168,957 168,956 167,956 167,955 167,955 167,954 167,954 167,953 167,953 167,952 168,952 168,951 169,951 169,950 170,950 170,949"/><polygon fill="#46a61e" points="174,950 174,951 175,951 175,952 176,952 176,953 176,953 176,954 176,954 176,955 176,955 176,956 175,956 175,957 174,957 174,958 170,958 170,957 169,957 169,956 168,956 168,955 168,955 168,954 168,954 168,953 168,953 168,952 169,952 169,951 170,951 170,950"/><polygon fill="#3a9f0d" points="198,949 198,950 199,950 199,951 200,951 200,952 201,952 201,953 201,953 201,954 201,954 201,955 201,955 201,956 200,956 200,957 199,957 199,958 198,958 198,959 194,959 194,958 193,958 193,957 192,957 192,956 191,956 191,955 191,955 191,954 191,954 191,953 191,953 191,952 192,952 192,951 193,951 193,950 194,950 194,949"/><polygon fill="#46a61e" points="198,950 198,951 199,951 199,952 200,952 200,953 200,953 200,954 200,954 200,955 200,955 200,956 199,956 199,957 198,957 198,958 194,958 194,957 193,957 193,956 192,956 192,955 192,955 192,954 192,954 192,953 192,953 192,952 193,952 193,951 194,951 194,950"/><polygon fill="#3a9f0d" points="222,949 222,950 223,950 223,951 224,951 224,952 225,952 225,953 225,953 225,954 225,954 225,955 225,955 225,956 224,956 224,957 223,957 223,958 222,958 222,959 218,959 218,958 217,958 217,957 216,957 216,956 215,956 215,955 215,955 215,954 215,954 215,953 215,953 215,952 216,952 216,951 217,951 217,950 218,950 218,949"/><polygon fill="#46a61e" points="222,950 222,951 223,951 223,952 224,952 224,953 224,953 224,954 224,954 224,955 224,955 224,956 223,956 223,957 222,957 222,958 218,958 218,957 217,957 217,956 216,956 216,955 216,955 216,954 216,954 216,953 216,953 216,952 217,952 217,951 218,951 218,950"/><polygon fill="#3a9f0d" points="246,949 246,950 247,950 247,951 248,951 248,952 249,952 249,953 249,953 249,954 249,954 249,955 249,955 249,956 248,956 248,957 247,957 247,958 246,958 246,959 242,959 242,958 241,958 241,957 240,957 240,956 239,956 239,955 239,955 239,954 239,954 239,953 239,953 239,952 240,952 240,951 241,951 241,950 242,950 242,949"/><polygon fill="#46a61e" points="246,950 246,951 247,951 247,952 248,952 248,953 248,953 248,954 248,954 248,955 248,955 248,956 247,956 247,957 246,957 246,958 242,958 242,957 241,957 241,956 240,956 240,955 240,955 240,954 240,954 240,953 240,953 240,952 241,952 241,951 242,951 242,950"/><polygon fill="#3a9f0d" points="269,949 269,950 270,950 270,951 271,951 271,952 272,952 272,953 272,953 272,954 272,954 272,955 272,955 272,956 271,956 271,957 270,957 270,958 269,958 269,959 265,959 265,958 264,958 264,957 263,957 263,956 262,956 262,955 262,955 262,954 262,954 262,953 262,953 262,952 263,952 263,951 264,951 264,950 265,950 265,949"/><polygon fill="#46a61e" points="269,950 269,951 270,951 270,952 271,952 271,953 271,953 271,954 271,954 271,955 271,955 271,956 270,956 270,957 269,957 269,958 265,958 265,957 264,957 264,956 263,956 263,955 263,955 263,954 263,954 263,953 263,953 263,952 264,952 264,951 265,951 265,950"/><polygon fill="#3a9f0d" points="293,949 293,950 294,950 294,951 295,951 295,952 296,952 296,953 296,953 296,954 296,954 296,955 296,955 296,956 295,956 295,957 294,957 294,958 293,958 293,959 289,959 289,958 288,958 288,957 287,957 287,956 286,956 286,955 286,955 286,954 286,954 286,953 286,953 286,952 287,952 287,951 288,951 288,950 289,950 289,949"/><polygon fill="#46a61e" points="293,950 293,951 294,951 294,952 295,952 295,953 295,953 295,954 295,954 295,955 295,955 295,956 294,956 294,957 293,957 293,958 289,958 289,957 288,957 288,956 287,956 287,955 287,955 287,954 287,954 287,953 287,953 287,952 288,952 288,951 289,951 289,950"/><polygon fill="#3a9f0d" points="317,949 317,950 318,950 318,951 319,951 319,952 320,952 320,953 320,953 320,954 320,954 320,955 320,955 320,956 319,956 319,957 318,957 318,958 317,958 317,959 313,959 313,958 312,958 312,957 311,957 311,956 310,956 310,955 310,955 310,954 310,954 310,953 310,953 310,952 311,952 311,951 312,951 312,950 313,950 313,949"/><polygon fill="#46a61e" points="317,950 317,951 318,951 318,952 319,952 319,953 319,953 319,954 319,954 319,955 319,955 319,956 318,956 318,957 317,957 317,958 313,958 313,957 312,957 312,956 311,956 311,955 311,955 311,954 311,954 311,953 311,953 311,952 312,952 312,951 313,951 313,950"/><polygon fill="#3a9f0d" points="341,949 341,950 342,950 342,951 343,951 343,952 344,952 344,953 344,953 344,954 344,954 344,955 344,955 344,956 343,956 343,957 342,957 342,958 341,958 341,959 337,959 337,958 336,958 336,957 335,957 335,956 334,956 334,955 334,955 334,954 334,954 334,953 334,953 334,952 335,952 335,951 336,951 336,950 337,950 337,949"/><polygon fill="#46a61e" points="341,950 341,951 342,951 342,952 343,952 343,953 343,953 343,954 343,954 343,955 343,955 343,956 342,956 342,957 341,957 341,958 337,958 337,957 336,957 336,956 335,956 335,955 335,955 335,954 335,954 335,953 335,953 335,952 336,952 336,951 337,951 337,950"/><polygon fill="#3a9f0d" points="365,949 365,950 366,950 366,951 367,951 367,952 368,952 368,953 368,953 368,954 368,954 368,955 368,955 368,956 367,956 367,957 366,957 366,958 365,958 365,959 361,959 361,958 360,958 360,957 359,957 359,956 358,956 358,955 358,955 358,954 358,954 358,953 358,953 358,952 359,952 359,951 360,951 360,950 361,950 361,949"/><polygon fill="#46a61e" points="365,950 365,951 366,951 366,952 367,952 367,953 367,953 367,954 367,954 367,955 367,955 367,956 366,956 366,957 365,957 365,958 361,958 361,957 360,957 360,956 359,956 359,955 359,955 359,954 359,954 359,953 359,953 359,952 360,952 360,951 361,951 361,950"/><polygon fill="#3a9f0d" points="388,949 388,950 389,950 389,951 390,951 390,952 391,952 391,953 391,953 391,954 391,954 391,955 391,955 391,956 390,956 390,957 389,957 389,958 388,958 388,959 384,959 384,958 383,958 383,957 382,957 382,956 381,956 381,955 381,955 381,954 381,954 381,953 381,953 381,952 382,952 382,951 383,951 383,950 384,950 384,949"/><polygon fill="#46a61e" points="388,950 388,951 389,951 389,952 390,952 390,953 390,953 390,954 390,954 390,955 390,955 390,956 389,956 389,957 388,957 388,958 384,958 384,957 383,957 383,956 382,956 382,955 382,955 382,954 382,954 382,953 382,953 382,952 383,952 383,951 384,951 384,950"/><polygon fill="#3a9f0d" points="412,949 412,950 413,950 413,951 414,951 414,952 415,952 415,953 415,953 415,954 415,954 415,955 415,955 415,956 414,956 414,957 413,957 413,958 412,958 412,959 408,959 408,958 407,958 407,957 406,957 406,956 405,956 405,955 405,955 405,954 405,954 405,953 405,953 405,952 406,952 406,951 407,951 407,950 408,950 408,949"/><polygon fill="#46a61e" points="412,950 412,951 413,951 413,952 414,952 414,953 414,953 414,954 414,954 414,955 414,955 414,956 413,956 413,957 412,957 412,958 408,958 408,957 407,957 407,956 406,956 406,955 406,955 406,954 406,954 406,953 406,953 406,952 407,952 407,951 408,951 408,950"/><polygon fill="#3a9f0d" points="436,946 436,947 437,947 437,948 438,948 438,949 439,949 439,950 439,950 439,951 439,951 439,952 439,952 439,953 438,953 438,954 437,954 437,955 436,955 436,956 432,956 432,955 431,955 431,954 430,954 430,953 429,953 429,952 429,952 429,951 429,951 429,950 429,950 429,949 430,949 430,948 431,948 431,947 432,947 432,946"/><polygon fill="#46a61e" points="436,947 436,948 437,948 437,949 438,949 438,950 438,950 438,951 438,951 438,952 438,952 438,953 437,953 437,954 436,954 436,955 432,955 432,954 431,954 431,953 430,953 430,952 430,952 430,951 430,951 430,950 430,950 430,949 431,949 431,948 432,948 432,947"/><polygon fill="#3a9f0d" points="460,946 460,947 461,947 461,948 462,948 462,949 463,949 463,950 463,950 463,951 463,951 463,952 463,952 463,953 462,953 462,954 461,954 461,955 460,955 460,956 456,956 456,955 455,955 455,954 454,954 454,953 453,953 453,952 453,952 453,951 453,951 453,950 453,950 453,949 454,949 454,948 455,948 455,947 456,947 456,946"/><polygon fill="#46a61e" points="460,947 460,948 461,948 461,949 462,949 462,950 462,950 462,951 462,951 462,952 462,952 462,953 461,953 461,954 460,954 460,955 456,955 456,954 455,954 455,953 454,953 454,952 454,952 454,951 454,951 454,950 454,950 454,949 455,949 455,948 456,948 456,947"/><polygon fill="#3a9f0d" points="484,943 484,944 485,944 485,945 486,945 486,946 487,946 487,947 487,947 487,948 487,948 487,949 487,949 487,950 486,950 486,951 485,951 485,952 484,952 484,953 480,953 480,952 479,952 479,951 478,951 478,950 477,950 477,949 477,949 477,948 477,948 477,947 477,947 477,946 478,946 478,945 479,945 479,944 480,944 480,943"/><polygon fill="#46a61e" points="484,944 484,945 485,945 485,946 486,946 486,947 486,947 486,948 486,948 486,949 486,949 486,950 485,950 485,951 484,951 484,952 480,952 480,951 479,951 479,950 478,950 478,949 478,949 478,948 478,948 478,947 478,947 478,946 479,946 479,945 480,945 480,944"/><polygon fill="#3a9f0d" points="507,949 507,950 508,950 508,951 509,951 509,952 510,952 510,953 510,953 510,954 510,954 510,955 510,955 510,956 509,956 509,957 508,957 508,958 507,958 507,959 503,959 503,958 502,958 502,957 501,957 501,956 500,956 500,955 500,955 500,954 500,954 500,953 500,953 500,952 501,952 501,951 502,951 502,950 503,950 503,949"/><polygon fill="#46a61e" points="507,950 507,951 508,951 508,952 509,952 509,953 509,953 509,954 509,954 509,955 509,955 509,956 508,956 508,957 507,957 507,958 503,958 503,957 502,957 502,956 501,956 501,955 501,955 501,954 501,954 501,953 501,953 501,952 502,952 502,951 503,951 503,950"/><polygon fill="#3a9f0d" points="531,946 531,947 532,947 532,948 533,948 533,949 534,949 534,950 534,950 534,951 534,951 534,952 534,952 534,953 533,953 533,954 532,954 532,955 531,955 531,956 527,956 527,955 526,955 526,954 525,954 525,953 524,953 524,952 524,952 524,951 524,951 524,950 524,950 524,949 525,949 525,948 526,948 526,947 527,947 527,946"/><polygon fill="#46a61e" points="531,947 531,948 532,948 532,949 533,949 533,950 533,950 533,951 533,951 533,952 533,952 533,953 532,953 532,954 531,954 531,955 527,955 527,954 526,954 526,953 525,953 525,952 525,952 525,951 525,951 525,950 525,950 525,949 526,949 526,948 527,948 527,947"/><polygon fill="#3a9f0d" points="555,938 555,939 556,939 556,940 557,940 557,941 558,941 558,942 558,942 558,943 558,943 558,944 558,944 558,945 557,945 557,946 556,946 556,947 555,947 555,948 551,948 551,947 550,947 550,946 549,946 549,945 548,945 548,944 548,944 548,943 548,943 548,942 548,942 548,941 549,941 549,940 550,940 550,939 551,939 551,938"/><polygon fill="#46a61e" points="555,939 555,940 556,940 556,941 557,941 557,942 557,942 557,943 557,943 557,944 557,944 557,945 556,945 556,946 555,946 555,947 551,947 551,946 550,946 550,945 549,945 549,944 549,944 549,943 549,943 549,942 549,942 549,941 550,941 550,940 551,940 551,939"/></g>
<rect x="100" y="960" width="2" height="7" fill="#333333"/>
<g transform="translate(110.60,986) rotate(-90)"><g font-size="23.5" fill="#4d4d4d"><text x="-13.07" y="0.00">27</text></g></g>
<rect x="124" y="960" width="2" height="7" fill="#333333"/>
<g transform="translate(134.60,986) rotate(-90)"><g font-size="23.5" fill="#4d4d4d"><text x="-13.07" y="0.00">28</text></g></g>
<rect x="147" y="960" width="2" height="7" fill="#333333"/>
<g transform="translate(157.60,986) rotate(-90)"><g font-size="23.5" fill="#4d4d4d"><text x="-13.07" y="0.00">29</text></g></g>
<rect x="171" y="960" width="2" height="7" fill="#333333"/>
<g transform="translate(181.60,986) rotate(-90)"><g font-size="23.5" fill="#4d4d4d"><text x="-13.07" y="0.00">30</text></g></g>
<rect x="195" y="960" width="2" height="7" fill="#333333"/>
<g transform="translate(205.60,986) rotate(-90)"><g font-size="23.5" fill="#4d4d4d"><text x="-13.07" y="0.00">3</text><path shape-rendering="geometricPrecision" transform="translate(0.60,0.00) scale(0.01147,-0.01123)" d="M763,0L583,0L583,1147Q518,1085 412,1023Q306,961 222,930L222,1104Q373,1175 486,1276Q599,1377 646,1472L763,1472Z"/></g></g>
<rect x="219" y="960" width="2" height="7" fill="#333333"/>
<g transform="translate(229.60,986) rotate(-90)"><g font-size="23.5" fill="#4d4d4d"><text x="-13.07" y="0.00">32</text></g></g>
<rect x="243" y="960" width="2" height="7" fill="#333333"/>
<g transform="translate(253.60,986) rotate(-90)"><g font-size="23.5" fill="#4d4d4d"><text x="-13.07" y="0.00">33</text></g></g>
<rect x="266" y="960" width="2" height="7" fill="#333333"/>
<g transform="translate(276.60,986) rotate(-90)"><g font-size="23.5" fill="#4d4d4d"><text x="-13.07" y="0.00">34</text></g></g>
<rect x="290" y="960" width="2" height="7" fill="#333333"/>
<g transform="translate(300.60,986) rotate(-90)"><g font-size="23.5" fill="#4d4d4d"><text x="-13.07" y="0.00">35</text></g></g>
<rect x="314" y="960" width="2" height="7" fill="#333333"/>
<g transform="translate(324.60,986) rotate(-90)"><g font-size="23.5" fill="#4d4d4d"><text x="-13.07" y="0.00">36</text></g></g>
<rect x="338" y="960" width="2" height="7" fill="#333333"/>
<g transform="translate(348.60,986) rotate(-90)"><g font-size="23.5" fill="#4d4d4d"><text x="-13.07" y="0.00">37</text></g></g>
<rect x="362" y="960" width="2" height="7" fill="#333333"/>
<g transform="translate(372.60,986) rotate(-90)"><g font-size="23.5" fill="#4d4d4d"><text x="-13.07" y="0.00">38</text></g></g>
<rect x="385" y="960" width="2" height="7" fill="#333333"/>
<g transform="translate(395.60,986) rotate(-90)"><g font-size="23.5" fill="#4d4d4d"><text x="-13.07" y="0.00">39</text></g></g>
<rect x="409" y="960" width="2" height="7" fill="#333333"/>
<g transform="translate(419.60,986) rotate(-90)"><g font-size="23.5" fill="#4d4d4d"><text x="-13.07" y="0.00">40</text></g></g>
<rect x="433" y="960" width="2" height="7" fill="#333333"/>
<g transform="translate(443.60,986) rotate(-90)"><g font-size="23.5" fill="#4d4d4d"><text x="-13.07" y="0.00">4</text><path shape-rendering="geometricPrecision" transform="translate(0.60,0.00) scale(0.01147,-0.01123)" d="M763,0L583,0L583,1147Q518,1085 412,1023Q306,961 222,930L222,1104Q373,1175 486,1276Q599,1377 646,1472L763,1472Z"/></g></g>
<rect x="457" y="960" width="2" height="7" fill="#333333"/>
<g transform="translate(467.60,986) rotate(-90)"><g font-size="23.5" fill="#4d4d4d"><text x="-13.07" y="0.00">42</text></g></g>
<rect x="481" y="960" width="2" height="7" fill="#333333"/>
<g transform="translate(491.60,986) rotate(-90)"><g font-size="23.5" fill="#4d4d4d"><text x="-13.07" y="0.00">43</text></g></g>
<rect x="504" y="960" width="2" height="7" fill="#333333"/>
<g transform="translate(514.60,986) rotate(-90)"><g font-size="23.5" fill="#4d4d4d"><text x="-13.07" y="0.00">44</text></g></g>
<rect x="528" y="960" width="2" height="7" fill="#333333"/>
<g transform="translate(538.60,986) rotate(-90)"><g font-size="23.5" fill="#4d4d4d"><text x="-13.07" y="0.00">45</text></g></g>
<rect x="552" y="960" width="2" height="7" fill="#333333"/>
<g transform="translate(562.60,986) rotate(-90)"><g font-size="23.5" fill="#4d4d4d"><text x="-13.07" y="0.00">46</text></g></g>
<rect x="576" y="960" width="2" height="7" fill="#333333"/>
<g transform="translate(586.60,986) rotate(-90)"><g font-size="23.5" fill="#4d4d4d"><text x="-13.07" y="0.00">47</text></g></g>
<rect x="600" y="960" width="2" height="7" fill="#333333"/>
<g transform="translate(610.60,986) rotate(-90)"><g font-size="23.5" fill="#4d4d4d"><text x="-13.07" y="0.00">48</text></g></g>
<rect x="623" y="960" width="2" height="7" fill="#333333"/>
<g transform="translate(633.60,986) rotate(-90)"><g font-size="23.5" fill="#4d4d4d"><text x="-13.07" y="0.00">49</text></g></g>
<rect x="647" y="960" width="2" height="7" fill="#333333"/>
<g transform="translate(657.60,986) rotate(-90)"><g font-size="23.5" fill="#4d4d4d"><text x="-13.07" y="0.00">50</text></g></g>
<rect x="671" y="960" width="2" height="7" fill="#333333"/>
<g transform="translate(681.60,986) rotate(-90)"><g font-size="23.5" fill="#4d4d4d"><text x="-13.07" y="0.00">5</text><path shape-rendering="geometricPrecision" transform="translate(0.60,0.00) scale(0.01147,-0.01123)" d="M763,0L583,0L583,1147Q518,1085 412,1023Q306,961 222,930L222,1104Q373,1175 486,1276Q599,1377 646,1472L763,1472Z"/></g></g>
<rect x="695" y="960" width="2" height="7" fill="#333333"/>
<g transform="translate(705.60,986) rotate(-90)"><g font-size="23.5" fill="#4d4d4d"><text x="-13.07" y="0.00">52</text></g></g>
<rect x="719" y="960" width="2" height="7" fill="#333333"/>
<g transform="translate(729.60,987) rotate(-90)"><g font-size="23.5" fill="#4d4d4d"><path shape-rendering="geometricPrecision" transform="translate(-5.93,0.00) scale(0.01147,-0.01123)" d="M763,0L583,0L583,1147Q518,1085 412,1023Q306,961 222,930L222,1104Q373,1175 486,1276Q599,1377 646,1472L763,1472Z"/></g></g>
<rect x="742" y="960" width="2" height="7" fill="#333333"/>
<g transform="translate(752.60,987) rotate(-90)"><g font-size="23.5" fill="#4d4d4d"><text x="-6.53" y="0.00">2</text></g></g>
<rect x="766" y="960" width="2" height="7" fill="#333333"/>
<g transform="translate(776.60,987) rotate(-90)"><g font-size="23.5" fill="#4d4d4d"><text x="-6.53" y="0.00">3</text></g></g>
<rect x="790" y="960" width="2" height="7" fill="#333333"/>
<g transform="translate(800.60,987) rotate(-90)"><g font-size="23.5" fill="#4d4d4d"><text x="-6.53" y="0.00">4</text></g></g>
<rect x="814" y="960" width="2" height="7" fill="#333333"/>
<g transform="translate(824.60,987) rotate(-90)"><g font-size="23.5" fill="#4d4d4d"><text x="-6.53" y="0.00">5</text></g></g>
<rect x="838" y="960" width="2" height="7" fill="#333333"/>
<g transform="translate(848.60,987) rotate(-90)"><g font-size="23.5" fill="#4d4d4d"><text x="-6.53" y="0.00">6</text></g></g>
<rect x="861" y="960" width="2" height="7" fill="#333333"/>
<g transform="translate(871.60,987) rotate(-90)"><g font-size="23.5" fill="#4d4d4d"><text x="-6.53" y="0.00">7</text></g></g>
<rect x="885" y="960" width="2" height="7" fill="#333333"/>
<g transform="translate(895.60,987) rotate(-90)"><g font-size="23.5" fill="#4d4d4d"><text x="-6.53" y="0.00">8</text></g></g>
<rect x="909" y="960" width="2" height="7" fill="#333333"/>
<g transform="translate(919.60,987) rotate(-90)"><g font-size="23.5" fill="#4d4d4d"><text x="-6.53" y="0.00">9</text></g></g>
<rect x="933" y="960" width="2" height="7" fill="#333333"/>
<g transform="translate(943.60,986) rotate(-90)"><g font-size="23.5" fill="#4d4d4d"><path shape-rendering="geometricPrecision" transform="translate(-12.47,0.00) scale(0.01147,-0.01123)" d="M763,0L583,0L583,1147Q518,1085 412,1023Q306,961 222,930L222,1104Q373,1175 486,1276Q599,1377 646,1472L763,1472Z"/><text x="0.00" y="0.00">0</text></g></g>
<rect x="957" y="960" width="2" height="7" fill="#333333"/>
<g transform="translate(967.60,986) rotate(-90)"><g font-size="23.5" fill="#4d4d4d"><path shape-rendering="geometricPrecision" transform="translate(-12.47,0.00) scale(0.01147,-0.01123)" d="M763,0L583,0L583,1147Q518,1085 412,1023Q306,961 222,930L222,1104Q373,1175 486,1276Q599,1377 646,1472L763,1472Z"/><path shape-rendering="geometricPrecision" transform="translate(0.60,0.00) scale(0.01147,-0.01123)" d="M763,0L583,0L583,1147Q518,1085 412,1023Q306,961 222,930L222,1104Q373,1175 486,1276Q599,1377 646,1472L763,1472Z"/></g></g>
<rect x="980" y="960" width="2" height="7" fill="#333333"/>
<g transform="translate(990.60,986) rotate(-90)"><g font-size="23.5" fill="#4d4d4d"><path shape-rendering="geometricPrecision" transform="translate(-12.47,0.00) scale(0.01147,-0.01123)" d="M763,0L583,0L583,1147Q518,1085 412,1023Q306,961 222,930L222,1104Q373,1175 486,1276Q599,1377 646,1472L763,1472Z"/><text x="0.00" y="0.00">2</text></g></g>
<rect x="1004" y="960" width="2" height="7" fill="#333333"/>
<g transform="translate(1014.60,986) rotate(-90)"><g font-size="23.5" fill="#4d4d4d"><path shape-rendering="geometricPrecision" transform="translate(-12.47,0.00) scale(0.01147,-0.01123)" d="M763,0L583,0L583,1147Q518,1085 412,1023Q306,961 222,930L222,1104Q373,1175 486,1276Q599,1377 646,1472L763,1472Z"/><text x="0.00" y="0.00">3</text></g></g>
<rect x="1028" y="960" width="2" height="7" fill="#333333"/>
<g transform="translate(1038.60,986) rotate(-90)"><g font-size="23.5" fill="#4d4d4d"><path shape-rendering="geometricPrecision" transform="translate(-12.47,0.00) scale(0.01147,-0.01123)" d="M763,0L583,0L583,1147Q518,1085 412,1023Q306,961 222,930L222,1104Q373,1175 486,1276Q599,1377 646,1472L763,1472Z"/><text x="0.00" y="0.00">4</text></g></g>
<rect x="1052" y="960" width="2" height="7" fill="#333333"/>
<g transform="translate(1062.60,986) rotate(-90)"><g font-size="23.5" fill="#4d4d4d"><path shape-rendering="geometricPrecision" transform="translate(-12.47,0.00) scale(0.01147,-0.01123)" d="M763,0L583,0L583,1147Q518,1085 412,1023Q306,961 222,930L222,1104Q373,1175 486,1276Q599,1377 646,1472L763,1472Z"/><text x="0.00" y="0.00">5</text></g></g>
<rect x="1076" y="960" width="2" height="7" fill="#333333"/>
<g transform="translate(1086.60,986) rotate(-90)"><g font-size="23.5" fill="#4d4d4d"><path shape-rendering="geometricPrecision" transform="translate(-12.47,0.00) scale(0.01147,-0.01123)" d="M763,0L583,0L583,1147Q518,1085 412,1023Q306,961 222,930L222,1104Q373,1175 486,1276Q599,1377 646,1472L763,1472Z"/><text x="0.00" y="0.00">6</text></g></g>
<rect x="1099" y="960" width="2" height="7" fill="#333333"/>
<g transform="translate(1109.60,986) rotate(-90)"><g font-size="23.5" fill="#4d4d4d"><path shape-rendering="geometricPrecision" transform="translate(-12.47,0.00) scale(0.01147,-0.01123)" d="M763,0L583,0L583,1147Q518,1085 412,1023Q306,961 222,930L222,1104Q373,1175 486,1276Q599,1377 646,1472L763,1472Z"/><text x="0.00" y="0.00">7</text></g></g>
<rect x="1123" y="960" width="2" height="7" fill="#333333"/>
<g transform="translate(1133.60,986) rotate(-90)"><g font-size="23.5" fill="#4d4d4d"><path shape-rendering="geometricPrecision" transform="translate(-12.47,0.00) scale(0.01147,-0.01123)" d="M763,0L583,0L583,1147Q518,1085 412,1023Q306,961 222,930L222,1104Q373,1175 486,1276Q599,1377 646,1472L763,1472Z"/><text x="0.00" y="0.00">8</text></g></g>
<rect x="1147" y="960" width="2" height="7" fill="#333333"/>
<g transform="translate(1157.60,986) rotate(-90)"><g font-size="23.5" fill="#4d4d4d"><path shape-rendering="geometricPrecision" transform="translate(-12.47,0.00) scale(0.01147,-0.01123)" d="M763,0L583,0L583,1147Q518,1085 412,1023Q306,961 222,930L222,1104Q373,1175 486,1276Q599,1377 646,1472L763,1472Z"/><text x="0.00" y="0.00">9</text></g></g>
<rect x="1171" y="960" width="2" height="7" fill="#333333"/>
<g transform="translate(1181.60,986) rotate(-90)"><g font-size="23.5" fill="#4d4d4d"><text x="-13.07" y="0.00">20</text></g></g>
<rect x="1195" y="960" width="2" height="7" fill="#333333"/>
<g transform="translate(1205.60,986) rotate(-90)"><g font-size="23.5" fill="#4d4d4d"><text x="-13.07" y="0.00">2</text><path shape-rendering="geometricPrecision" transform="translate(0.60,0.00) scale(0.01147,-0.01123)" d="M763,0L583,0L583,1147Q518,1085 412,1023Q306,961 222,930L222,1104Q373,1175 486,1276Q599,1377 646,1472L763,1472Z"/></g></g>
<rect x="1218" y="960" width="2" height="7" fill="#333333"/>
<g transform="translate(1228.60,986) rotate(-90)"><g font-size="23.5" fill="#4d4d4d"><text x="-13.07" y="0.00">22</text></g></g>
<rect x="1242" y="960" width="2" height="7" fill="#333333"/>
<g transform="translate(1252.60,986) rotate(-90)"><g font-size="23.5" fill="#4d4d4d"><text x="-13.07" y="0.00">23</text></g></g>
<rect x="1266" y="960" width="2" height="7" fill="#333333"/>
<g transform="translate(1276.60,986) rotate(-90)"><g font-size="23.5" fill="#4d4d4d"><text x="-13.07" y="0.00">24</text></g></g>
<rect x="1290" y="960" width="2" height="7" fill="#333333"/>
<g transform="translate(1300.60,986) rotate(-90)"><g font-size="23.5" fill="#4d4d4d"><text x="-13.07" y="0.00">25</text></g></g>
<rect x="1314" y="960" width="2" height="7" fill="#333333"/>
<g transform="translate(1324.60,986) rotate(-90)"><g font-size="23.5" fill="#4d4d4d"><text x="-13.07" y="0.00">26</text></g></g>
<text transform="translate(706.8,1027.7) scale(0.9925,1)" font-size="27.5" fill="#000" text-anchor="middle">Epidemiological Week</text>
<text transform="translate(35.5,510) rotate(-90)" font-size="27.5" fill="#000" text-anchor="middle">Outbreaks (n)</text>
<rect x="342" y="1098" width="37" height="2" fill="#3a9f0d"/>
<g fill="#41a31b"><polygon fill="#3a9f0d" points="363,1094 363,1095 364,1095 364,1096 365,1096 365,1097 366,1097 366,1098 366,1098 366,1099 366,1099 366,1100 366,1100 366,1101 365,1101 365,1102 364,1102 364,1103 363,1103 363,1104 359,1104 359,1103 358,1103 358,1102 357,1102 357,1101 356,1101 356,1100 356,1100 356,1099 356,1099 356,1098 356,1098 356,1097 357,1097 357,1096 358,1096 358,1095 359,1095 359,1094"/><polygon fill="#46a61e" points="363,1095 363,1096 364,1096 364,1097 365,1097 365,1098 365,1098 365,1099 365,1099 365,1100 365,1100 365,1101 364,1101 364,1102 363,1102 363,1103 359,1103 359,1102 358,1102 358,1101 357,1101 357,1100 357,1100 357,1099 357,1099 357,1098 357,1098 357,1097 358,1097 358,1096 359,1096 359,1095"/></g>
<text transform="translate(399,1108.9) scale(0.961,1)" font-size="23.5" fill="#000">Influenza Outbreaks (A and B)</text>
<rect x="775" y="1078" width="43" height="42" fill="rgba(65,163,27,0.2)"/>
<text transform="translate(834.8,1108.9) scale(0.955,1)" font-size="23.5" fill="#000">All Respiratory Outbreaks</text>
</svg></body></html>
